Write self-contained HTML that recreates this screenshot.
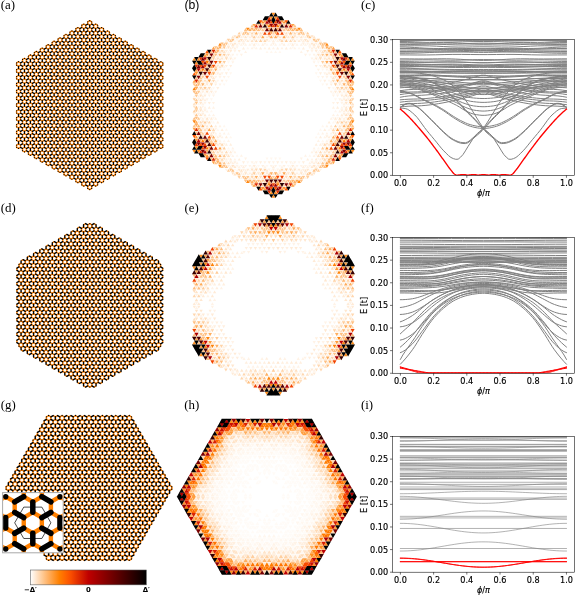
<!DOCTYPE html>
<html lang="en"><head><meta charset="utf-8"><title>Kekule flakes: bond order, zero-mode density and spectra</title><style>html,body{margin:0;padding:0;background:#fff}svg{display:block}</style></head><body>
<svg width="575" height="595" viewBox="0 0 575 595">
<rect width="575" height="595" fill="#fff"/>
<g transform="translate(89.7 105.1) scale(1 1)" fill="none" stroke-dasharray="2.2820 4.5640"><path d="M-73.12 -42.22L-73.12 42.22M-73.12 42.22L0 84.43M-73.12 35.37L5.93 81.01M-73.12 39.94L71.15 -43.36M-71.15 38.79L1.98 81.01M-69.17 -42.22L-69.17 42.22M-71.15 43.36L73.12 -39.94M-67.19 -45.64L-67.19 45.64M-73.12 28.53L11.86 77.59M-73.12 33.09L65.22 -46.78M-71.15 31.95L7.91 77.59M-71.15 36.51L67.19 -43.36M-67.19 43.36L71.15 -36.51M-63.24 -45.64L-63.24 45.64M-65.22 46.78L73.12 -33.09M-61.26 -49.06L-61.26 49.06M-73.12 21.68L17.79 74.16M-73.12 26.24L59.29 -50.2M-71.15 25.1L13.83 74.16M-71.15 29.67L61.26 -46.78M-61.26 46.78L71.15 -29.67M-57.31 -49.06L-57.31 49.06M-59.29 50.2L73.12 -26.24M-55.34 -52.49L-55.34 52.49M-73.12 14.83L23.72 70.74M-73.12 19.4L53.36 -53.63M-71.15 18.26L19.76 70.74M-71.15 22.82L55.34 -50.2M-55.34 50.2L71.15 -22.82M-51.38 -52.49L-51.38 52.49M-53.36 53.63L73.12 -19.4M-49.41 -55.91L-49.41 55.91M-73.12 7.99L29.64 67.32M-73.12 12.55L47.43 -57.05M-71.15 11.41L25.69 67.32M-71.15 15.97L49.41 -53.63M-49.41 53.63L71.15 -15.97M-45.45 -55.91L-45.45 55.91M-47.43 57.05L73.12 -12.55M-43.48 -59.33L-43.48 59.33M-73.12 1.14L35.57 63.9M-73.12 5.71L41.5 -60.47M-71.15 4.56L31.62 63.9M-71.15 9.13L43.48 -57.05M-43.48 57.05L71.15 -9.13M-39.53 -59.33L-39.53 59.33M-41.5 60.47L73.12 -5.71M-37.55 -62.76L-37.55 62.76M-73.12 -5.71L41.5 60.47M-73.12 -1.14L35.57 -63.9M-71.15 -2.28L37.55 60.47M-71.15 2.28L37.55 -60.47M-37.55 60.47L71.15 -2.28M-33.6 -62.76L-33.6 62.76M-35.57 63.9L73.12 1.14M-31.62 -66.18L-31.62 66.18M-73.12 -12.55L47.43 57.05M-73.12 -7.99L29.64 -67.32M-71.15 -9.13L43.48 57.05M-71.15 -4.56L31.62 -63.9M-31.62 63.9L71.15 4.56M-27.67 -66.18L-27.67 66.18M-29.64 67.32L73.12 7.99M-25.69 -69.6L-25.69 69.6M-73.12 -19.4L53.36 53.63M-73.12 -14.83L23.72 -70.74M-71.15 -15.97L49.41 53.63M-71.15 -11.41L25.69 -67.32M-25.69 67.32L71.15 11.41M-21.74 -69.6L-21.74 69.6M-23.72 70.74L73.12 14.83M-19.76 -73.02L-19.76 73.02M-73.12 -26.24L59.29 50.2M-73.12 -21.68L17.79 -74.16M-71.15 -22.82L55.34 50.2M-71.15 -18.26L19.76 -70.74M-19.76 70.74L71.15 18.26M-15.81 -73.02L-15.81 73.02M-17.79 74.16L73.12 21.68M-13.83 -76.45L-13.83 76.45M-73.12 -33.09L65.22 46.78M-73.12 -28.53L11.86 -77.59M-71.15 -29.67L61.26 46.78M-71.15 -25.1L13.83 -74.16M-13.83 74.16L71.15 25.1M-9.88 -76.45L-9.88 76.45M-11.86 77.59L73.12 28.52M-7.91 -79.87L-7.91 79.87M-73.12 -39.94L71.15 43.36M-73.12 -35.37L5.93 -81.01M-71.15 -36.51L67.19 43.36M-71.15 -31.95L7.91 -77.59M-7.91 77.59L71.15 31.95M-3.95 -79.87L-3.95 79.87M-5.93 81.01L73.12 35.37M-1.98 -83.29L-1.98 83.29M-73.12 -42.22L0 -84.43M-71.15 -43.36L73.12 39.94M-71.15 -38.79L1.98 -81.01M-1.98 81.01L71.15 38.79M1.98 -83.29L1.98 83.29M0 84.43L73.12 42.22M-67.19 -43.36L71.15 36.51M3.95 -79.87L3.95 79.87M-65.22 -46.78L73.12 33.09M7.91 -79.87L7.91 79.87M-61.26 -46.78L71.15 29.67M9.88 -76.45L9.88 76.45M-59.29 -50.2L73.12 26.24M13.83 -76.45L13.83 76.45M-55.34 -50.2L71.15 22.82M15.81 -73.02L15.81 73.02M-53.36 -53.63L73.12 19.4M19.76 -73.02L19.76 73.02M-49.41 -53.63L71.15 15.97M21.74 -69.6L21.74 69.6M-47.43 -57.05L73.12 12.55M25.69 -69.6L25.69 69.6M-43.48 -57.05L71.15 9.13M27.67 -66.18L27.67 66.18M-41.5 -60.47L73.12 5.71M31.62 -66.18L31.62 66.18M-37.55 -60.47L71.15 2.28M33.6 -62.76L33.6 62.76M-35.57 -63.9L73.12 -1.14M37.55 -62.76L37.55 62.76M-31.62 -63.9L71.15 -4.56M39.53 -59.33L39.53 59.33M-29.64 -67.32L73.12 -7.99M43.48 -59.33L43.48 59.33M-25.69 -67.32L71.15 -11.41M45.45 -55.91L45.45 55.91M-23.72 -70.74L73.12 -14.83M49.41 -55.91L49.41 55.91M-19.76 -70.74L71.15 -18.26M51.38 -52.49L51.38 52.49M-17.79 -74.16L73.12 -21.68M55.34 -52.49L55.34 52.49M-13.83 -74.16L71.15 -25.1M57.31 -49.06L57.31 49.06M-11.86 -77.59L73.12 -28.52M61.26 -49.06L61.26 49.06M-7.91 -77.59L71.15 -31.95M63.24 -45.64L63.24 45.64M-5.93 -81.01L73.12 -35.37M67.19 -45.64L67.19 45.64M-1.98 -81.01L71.15 -38.79M69.17 -42.22L69.17 42.22M0 -84.43L73.12 -42.22M73.12 -42.22L73.12 42.22" stroke="#ff8000" stroke-width="1.42"/><path d="M-71.15 -38.79L-71.15 38.79M-69.17 42.22L-1.98 81.01M-69.17 35.37L3.95 77.59M-69.17 39.94L69.17 -39.94M-65.22 -42.22L-65.22 42.22M-69.17 28.53L9.88 74.16M-69.17 33.09L63.24 -43.36M-63.24 43.36L69.17 -33.09M-59.29 -45.64L-59.29 45.64M-69.17 21.68L15.81 70.74M-69.17 26.24L57.31 -46.78M-57.31 46.78L69.17 -26.24M-53.36 -49.06L-53.36 49.06M-69.17 14.83L21.74 67.32M-69.17 19.4L51.38 -50.2M-51.38 50.2L69.17 -19.4M-47.43 -52.49L-47.43 52.49M-69.17 7.99L27.67 63.9M-69.17 12.55L45.45 -53.63M-45.45 53.63L69.17 -12.55M-41.5 -55.91L-41.5 55.91M-69.17 1.14L33.6 60.47M-69.17 5.71L39.53 -57.05M-39.53 57.05L69.17 -5.71M-35.57 -59.33L-35.57 59.33M-69.17 -5.71L39.53 57.05M-69.17 -1.14L33.6 -60.47M-33.6 60.47L69.17 1.14M-29.64 -62.76L-29.64 62.76M-69.17 -12.55L45.45 53.63M-69.17 -7.99L27.67 -63.9M-27.67 63.9L69.17 7.99M-23.72 -66.18L-23.72 66.18M-69.17 -19.4L51.38 50.2M-69.17 -14.83L21.74 -67.32M-21.74 67.32L69.17 14.83M-17.79 -69.6L-17.79 69.6M-69.17 -26.24L57.31 46.78M-69.17 -21.68L15.81 -70.74M-15.81 70.74L69.17 21.68M-11.86 -73.02L-11.86 73.02M-69.17 -33.09L63.24 43.36M-69.17 -28.53L9.88 -74.16M-9.88 74.16L69.17 28.52M-5.93 -76.45L-5.93 76.45M-69.17 -39.94L69.17 39.94M-69.17 -35.37L3.95 -77.59M-3.95 77.59L69.17 35.37M0 -79.87L0 79.87M-69.17 -42.22L-1.98 -81.01M1.98 81.01L69.17 42.22M-63.24 -43.36L69.17 33.09M5.93 -76.45L5.93 76.45M-57.31 -46.78L69.17 26.24M11.86 -73.02L11.86 73.02M-51.38 -50.2L69.17 19.4M17.79 -69.6L17.79 69.6M-45.45 -53.63L69.17 12.55M23.72 -66.18L23.72 66.18M-39.53 -57.05L69.17 5.71M29.64 -62.76L29.64 62.76M-33.6 -60.47L69.17 -1.14M35.57 -59.33L35.57 59.33M-27.67 -63.9L69.17 -7.99M41.5 -55.91L41.5 55.91M-21.74 -67.32L69.17 -14.83M47.43 -52.49L47.43 52.49M-15.81 -70.74L69.17 -21.68M53.36 -49.06L53.36 49.06M-9.88 -74.16L69.17 -28.52M59.29 -45.64L59.29 45.64M-3.95 -77.59L69.17 -35.37M65.22 -42.22L65.22 42.22M1.98 -81.01L69.17 -42.22M71.15 -38.79L71.15 38.79" stroke="#000" stroke-width="1.32" stroke-linecap="round"/><path d="M-71.15 43.36h0M-73.12 42.22h0M-73.12 39.94h0M-73.12 35.37h0M-73.12 33.09h0M-65.22 46.78h0M-67.19 45.64h0M-73.12 28.52h0M-73.12 26.24h0M-59.29 50.2h0M-61.26 49.06h0M-73.12 21.68h0M-73.12 19.4h0M-53.36 53.63h0M-55.34 52.49h0M-73.12 14.83h0M-73.12 12.55h0M-47.43 57.05h0M-49.41 55.91h0M-73.12 7.99h0M-73.12 5.71h0M-41.5 60.47h0M-43.48 59.33h0M-73.12 1.14h0M-73.12 -1.14h0M-35.57 63.9h0M-37.55 62.76h0M-73.12 -5.71h0M-73.12 -7.99h0M-29.64 67.32h0M-31.62 66.18h0M-73.12 -12.55h0M-73.12 -14.83h0M-23.72 70.74h0M-25.69 69.6h0M-73.12 -19.4h0M-73.12 -21.68h0M-17.79 74.16h0M-19.76 73.02h0M-73.12 -26.24h0M-73.12 -28.53h0M-11.86 77.59h0M-13.83 76.45h0M-73.12 -33.09h0M-73.12 -35.37h0M-5.93 81.01h0M-7.91 79.87h0M-71.15 -43.36h0M-73.12 -39.94h0M-73.12 -42.22h0M1.98 83.29h0M0 84.43h0M-1.98 83.29h0M-65.22 -46.78h0M-67.19 -45.64h0M7.91 79.87h0M5.93 81.01h0M-59.29 -50.2h0M-61.26 -49.06h0M13.83 76.45h0M11.86 77.59h0M-53.36 -53.63h0M-55.34 -52.49h0M19.76 73.02h0M17.79 74.16h0M-47.43 -57.05h0M-49.41 -55.91h0M25.69 69.6h0M23.72 70.74h0M-41.5 -60.47h0M-43.48 -59.33h0M31.62 66.18h0M29.64 67.32h0M-35.57 -63.9h0M-37.55 -62.76h0M37.55 62.76h0M35.57 63.9h0M-29.64 -67.32h0M-31.62 -66.18h0M43.48 59.33h0M41.5 60.47h0M-23.72 -70.74h0M-25.69 -69.6h0M49.41 55.91h0M47.43 57.05h0M-17.79 -74.16h0M-19.76 -73.02h0M55.34 52.49h0M53.36 53.63h0M-11.86 -77.59h0M-13.83 -76.45h0M61.26 49.06h0M59.29 50.2h0M-5.93 -81.01h0M-7.91 -79.87h0M67.19 45.64h0M65.22 46.78h0M0 -84.43h0M1.98 -83.29h0M-1.98 -83.29h0M73.12 39.94h0M73.12 42.22h0M71.15 43.36h0M5.93 -81.01h0M7.91 -79.87h0M73.12 33.09h0M73.12 35.37h0M11.86 -77.59h0M13.83 -76.45h0M73.12 26.24h0M73.12 28.52h0M17.79 -74.16h0M19.76 -73.02h0M73.12 19.4h0M73.12 21.68h0M23.72 -70.74h0M25.69 -69.6h0M73.12 12.55h0M73.12 14.83h0M29.64 -67.32h0M31.62 -66.18h0M73.12 5.71h0M73.12 7.99h0M35.57 -63.9h0M37.55 -62.76h0M73.12 -1.14h0M73.12 1.14h0M41.5 -60.47h0M43.48 -59.33h0M73.12 -7.99h0M73.12 -5.71h0M47.43 -57.05h0M49.41 -55.91h0M73.12 -14.83h0M73.12 -12.55h0M53.36 -53.63h0M55.34 -52.49h0M73.12 -21.68h0M73.12 -19.4h0M59.29 -50.2h0M61.26 -49.06h0M73.12 -28.52h0M73.12 -26.24h0M65.22 -46.78h0M67.19 -45.64h0M73.12 -35.37h0M73.12 -33.09h0M71.15 -43.36h0M73.12 -42.22h0M73.12 -39.94h0" stroke="#000" stroke-width="1.25" stroke-linecap="round" stroke-dasharray="none"/></g>
<g transform="translate(89.8 305.35) scale(1 1)" fill="none" stroke-dasharray="2.4050 4.8100"><path d="M-72.9 -37.28L-72.9 37.28M-70.81 -40.88L-70.81 40.88M-70.81 40.88L0 81.77M-68.73 44.49L-4.17 81.77M-70.81 33.67L6.25 78.16M-70.81 38.48L68.73 -42.09M-68.73 37.28L2.08 78.16M-66.65 -40.88L-66.65 40.88M-68.73 42.09L70.81 -38.48M-64.57 -44.49L-64.57 44.49M-70.81 26.45L12.5 74.55M-70.81 31.27L62.48 -45.7M-68.73 30.06L8.33 74.55M-68.73 34.87L64.57 -42.09M-64.57 42.09L68.73 -34.87M-60.4 -44.49L-60.4 44.49M-62.48 45.7L70.81 -31.27M-58.32 -48.1L-58.32 48.1M-70.81 19.24L18.75 70.95M-70.81 24.05L56.24 -49.3M-68.73 22.85L14.58 70.95M-68.73 27.66L58.32 -45.7M-58.32 45.7L68.73 -27.66M-54.15 -48.1L-54.15 48.1M-56.24 49.3L70.81 -24.05M-52.07 -51.71L-52.07 51.71M-70.81 12.03L24.99 67.34M-70.81 16.84L49.99 -52.91M-68.73 15.63L20.83 67.34M-68.73 20.44L52.07 -49.3M-52.07 49.3L68.73 -20.44M-47.9 -51.71L-47.9 51.71M-49.99 52.91L70.81 -16.84M-45.82 -55.31L-45.82 55.31M-70.81 4.81L31.24 63.73M-70.81 9.62L43.74 -56.52M-68.73 8.42L27.08 63.73M-68.73 13.23L45.82 -52.91M-45.82 52.91L68.73 -13.23M-41.66 -55.31L-41.66 55.31M-43.74 56.52L70.81 -9.62M-39.57 -58.92L-39.57 58.92M-70.81 -2.4L37.49 60.12M-70.81 2.4L37.49 -60.12M-68.73 1.2L33.32 60.12M-68.73 6.01L39.57 -56.52M-39.57 56.52L68.73 -6.01M-35.41 -58.92L-35.41 58.92M-37.49 60.12L70.81 -2.41M-33.32 -62.53L-33.32 62.53M-70.81 -9.62L43.74 56.52M-70.81 -4.81L31.24 -63.73M-68.73 -6.01L39.57 56.52M-68.73 -1.2L33.32 -60.12M-33.32 60.12L68.73 1.2M-29.16 -62.53L-29.16 62.53M-31.24 63.73L70.81 4.81M-27.08 -66.14L-27.08 66.14M-70.81 -16.84L49.99 52.91M-70.81 -12.03L24.99 -67.34M-68.73 -13.23L45.82 52.91M-68.73 -8.42L27.08 -63.73M-27.08 63.73L68.73 8.42M-22.91 -66.14L-22.91 66.14M-24.99 67.34L70.81 12.02M-20.83 -69.75L-20.83 69.75M-70.81 -24.05L56.24 49.3M-70.81 -19.24L18.75 -70.95M-68.73 -20.44L52.07 49.3M-68.73 -15.63L20.83 -67.34M-20.83 67.34L68.73 15.63M-16.66 -69.75L-16.66 69.75M-18.75 70.95L70.81 19.24M-14.58 -73.35L-14.58 73.35M-70.81 -31.27L62.48 45.7M-70.81 -26.45L12.5 -74.55M-68.73 -27.66L58.32 45.7M-68.73 -22.85L14.58 -70.95M-14.58 70.95L68.73 22.85M-10.41 -73.35L-10.41 73.35M-12.5 74.56L70.81 26.45M-8.33 -76.96L-8.33 76.96M-70.81 -38.48L68.73 42.09M-70.81 -33.67L6.25 -78.16M-68.73 -34.87L64.57 42.09M-68.73 -30.06L8.33 -74.55M-8.33 74.56L68.73 30.06M-4.17 -76.96L-4.17 76.96M-6.25 78.16L70.81 33.67M-2.08 -80.57L-2.08 80.57M-70.81 -40.88L0 -81.77M-68.73 -42.09L70.81 38.48M-68.73 -37.28L2.08 -78.16M-2.08 78.16L68.73 37.28M2.08 -80.57L2.08 80.57M0 81.77L70.81 40.88M-68.73 -44.49L-4.17 -81.77M-64.57 -42.09L68.73 34.87M4.17 -76.96L4.17 76.96M4.17 81.77L68.73 44.49M-62.48 -45.7L70.81 31.27M8.33 -76.96L8.33 76.96M-58.32 -45.7L68.73 27.66M10.41 -73.35L10.41 73.35M-56.24 -49.3L70.81 24.05M14.58 -73.35L14.58 73.35M-52.07 -49.3L68.73 20.44M16.66 -69.75L16.66 69.75M-49.99 -52.91L70.81 16.84M20.83 -69.75L20.83 69.75M-45.82 -52.91L68.73 13.23M22.91 -66.14L22.91 66.14M-43.74 -56.52L70.81 9.62M27.08 -66.14L27.08 66.14M-39.57 -56.52L68.73 6.01M29.16 -62.53L29.16 62.53M-37.49 -60.12L70.81 2.41M33.32 -62.53L33.32 62.53M-33.32 -60.12L68.73 -1.2M35.41 -58.92L35.41 58.92M-31.24 -63.73L70.81 -4.81M39.57 -58.92L39.57 58.92M-27.08 -63.73L68.73 -8.42M41.66 -55.31L41.66 55.31M-24.99 -67.34L70.81 -12.02M45.82 -55.31L45.82 55.31M-20.83 -67.34L68.73 -15.63M47.9 -51.71L47.9 51.71M-18.75 -70.95L70.81 -19.24M52.07 -51.71L52.07 51.71M-14.58 -70.95L68.73 -22.85M54.15 -48.1L54.15 48.1M-12.5 -74.56L70.81 -26.45M58.32 -48.1L58.32 48.1M-8.33 -74.56L68.73 -30.06M60.4 -44.49L60.4 44.49M-6.25 -78.16L70.81 -33.67M64.57 -44.49L64.57 44.49M-2.08 -78.16L68.73 -37.28M66.65 -40.88L66.65 40.88M0 -81.77L70.81 -40.88M70.81 -40.88L70.81 40.88M4.17 -81.77L68.73 -44.49M72.9 -37.28L72.9 37.28" stroke="#ff8000" stroke-width="1.5"/><path d="M-72.9 37.28L4.17 81.77M-68.73 -44.49L-68.73 44.49M-72.9 30.06L10.41 78.16M-72.9 34.87L66.65 -45.7M-66.65 45.7L72.9 -34.87M-62.48 -48.1L-62.48 48.1M-72.9 22.85L16.66 74.55M-72.9 27.66L60.4 -49.3M-66.65 38.48L66.65 -38.48M-60.4 49.3L72.9 -27.66M-56.24 -51.71L-56.24 51.71M-72.9 15.63L22.91 70.95M-72.9 20.44L54.15 -52.91M-54.15 52.91L72.9 -20.44M-49.99 -55.31L-49.99 55.31M-72.9 8.42L29.16 67.34M-72.9 13.23L47.9 -56.52M-47.9 56.52L72.9 -13.23M-43.74 -58.92L-43.74 58.92M-72.9 1.2L35.41 63.73M-72.9 6.01L41.66 -60.12M-41.66 60.12L72.9 -6.01M-37.49 -62.53L-37.49 62.53M-72.9 -6.01L41.66 60.12M-72.9 -1.2L35.41 -63.73M-35.41 63.73L72.9 1.2M-31.24 -66.14L-31.24 66.14M-72.9 -13.23L47.9 56.52M-72.9 -8.42L29.16 -67.34M-29.16 67.34L72.9 8.42M-24.99 -69.75L-24.99 69.75M-72.9 -20.44L54.15 52.91M-72.9 -15.63L22.91 -70.95M-22.91 70.95L72.9 15.63M-18.75 -73.35L-18.75 73.35M-72.9 -27.66L60.4 49.3M-72.9 -22.85L16.66 -74.55M-16.66 74.56L72.9 22.85M-12.5 -76.96L-12.5 76.96M-72.9 -34.87L66.65 45.7M-72.9 -30.06L10.41 -78.16M-10.41 78.16L72.9 30.06M-6.25 -80.57L-6.25 80.57M-72.9 -37.28L4.17 -81.77M-4.17 81.77L72.9 37.28M-66.65 -38.48L66.65 38.48M0 -76.96L0 76.96M-66.65 -45.7L72.9 34.87M6.25 -80.57L6.25 80.57M-60.4 -49.3L72.9 27.66M12.5 -76.96L12.5 76.96M-54.15 -52.91L72.9 20.44M18.75 -73.35L18.75 73.35M-47.9 -56.52L72.9 13.23M24.99 -69.75L24.99 69.75M-41.66 -60.12L72.9 6.01M31.24 -66.14L31.24 66.14M-35.41 -63.73L72.9 -1.2M37.49 -62.53L37.49 62.53M-29.16 -67.34L72.9 -8.42M43.74 -58.92L43.74 58.92M-22.91 -70.95L72.9 -15.63M49.99 -55.31L49.99 55.31M-16.66 -74.56L72.9 -22.85M56.24 -51.71L56.24 51.71M-10.41 -78.16L72.9 -30.06M62.48 -48.1L62.48 48.1M-4.17 -81.77L72.9 -37.28M68.73 -44.49L68.73 44.49" stroke="#000" stroke-width="1.4" stroke-linecap="round"/><path d="M-70.81 40.88h0M-70.81 -40.88h0M0 81.77h0M0 -81.77h0M70.81 40.88h0M70.81 -40.88h0" stroke="#000" stroke-width="1.33" stroke-linecap="round" stroke-dasharray="none"/></g>
<g transform="translate(88.96 487.96) scale(1 1)" fill="none" stroke-dasharray="2.5850 5.1700"><path d="M-82.83 -1.29L-82.83 1.29M-82.83 1.29L40.3 72.38M-80.59 5.17L35.82 72.38M-78.35 -9.05L-78.35 9.05M-76.11 -12.93L-76.11 12.93M-76.11 12.93L26.86 72.38M-73.88 16.8L22.39 72.38M-71.64 -20.68L-71.64 20.68M-69.4 -24.56L-69.4 24.56M-69.4 24.56L13.43 72.38M-67.16 28.43L8.95 72.38M-64.92 -32.31L-64.92 32.31M-62.68 -36.19L-62.68 36.19M-62.68 36.19L0 72.38M-60.44 40.07L-4.48 72.38M-58.21 -43.94L-58.21 43.94M-55.97 -47.82L-55.97 47.82M-55.97 47.82L-13.43 72.38M-53.73 51.7L-17.91 72.38M-51.49 -55.58L-51.49 55.58M-49.25 -59.45L-49.25 59.45M-49.25 59.45L-26.86 72.38M-47.01 63.33L-31.34 72.38M-44.77 -67.21L-44.77 67.21M-42.53 -71.09L-42.53 71.09M-42.53 71.09L-40.3 72.38M-82.83 -1.29L40.3 -72.38M-80.59 -2.58L42.53 68.5M-80.59 2.58L42.53 -68.5M-76.11 10.34L47.01 -60.75M-73.88 14.22L49.25 -56.87M-69.4 21.97L53.73 -49.12M-67.16 25.85L55.97 -45.24M-62.68 33.6L60.44 -37.48M-60.44 37.48L62.68 -33.61M-55.97 45.24L67.16 -25.85M-53.73 49.12L69.4 -21.97M-49.25 56.87L73.88 -14.22M-47.01 60.75L76.11 -10.34M-42.53 68.5L80.59 -2.58M-38.06 -71.09L-38.06 71.09M-40.3 72.38L82.83 1.29M-80.59 -5.17L35.82 -72.38M-76.11 -2.58L40.3 64.62M-76.11 2.58L40.3 -64.62M-73.88 6.46L42.53 -60.75M-69.4 14.22L47.01 -52.99M-67.16 18.09L49.25 -49.12M-62.68 25.85L53.73 -41.36M-60.44 29.73L55.97 -37.48M-55.97 37.48L60.44 -29.73M-53.73 41.36L62.68 -25.85M-49.25 49.12L67.16 -18.09M-47.01 52.99L69.4 -14.22M-42.53 60.75L73.88 -6.46M-40.3 64.62L76.11 -2.58M-35.82 -67.21L-35.82 67.21M-35.82 72.38L80.59 5.17M-76.11 -10.34L47.01 60.75M-73.88 -6.46L42.53 60.75M-31.34 -67.21L-31.34 67.21M-29.1 -71.09L-29.1 71.09M-76.11 -12.93L26.86 -72.38M-73.88 -14.22L49.25 56.87M-24.63 -71.09L-24.63 71.09M-26.86 72.38L76.11 12.93M-73.88 -16.8L22.39 -72.38M-69.4 -14.22L47.01 52.99M-22.39 -67.21L-22.39 67.21M-22.39 72.38L73.88 16.8M-69.4 -21.97L53.73 49.12M-67.16 -18.09L49.25 49.12M-17.91 -67.21L-17.91 67.21M-15.67 -71.09L-15.67 71.09M-69.4 -24.56L13.43 -72.38M-67.16 -25.85L55.97 45.24M-11.19 -71.09L-11.19 71.09M-13.43 72.38L69.4 24.56M-67.16 -28.43L8.95 -72.38M-62.68 -25.85L53.73 41.36M-8.95 -67.21L-8.95 67.21M-8.95 72.38L67.16 28.43M-62.68 -33.6L60.44 37.48M-60.44 -29.73L55.97 37.48M-4.48 -67.21L-4.48 67.21M-2.24 -71.09L-2.24 71.09M-62.68 -36.19L0 -72.38M-60.44 -37.48L62.68 33.61M2.24 -71.09L2.24 71.09M0 72.38L62.68 36.19M-60.44 -40.07L-4.48 -72.38M-55.97 -37.48L60.44 29.73M4.48 -67.21L4.48 67.21M4.48 72.38L60.44 40.07M-55.97 -45.24L67.16 25.85M-53.73 -41.36L62.68 25.85M8.95 -67.21L8.95 67.21M11.19 -71.09L11.19 71.09M-55.97 -47.82L-13.43 -72.38M-53.73 -49.12L69.4 21.97M15.67 -71.09L15.67 71.09M13.43 72.38L55.97 47.82M-53.73 -51.7L-17.91 -72.38M-49.25 -49.12L67.16 18.09M17.91 -67.21L17.91 67.21M17.91 72.38L53.73 51.7M-49.25 -56.87L73.88 14.22M-47.01 -52.99L69.4 14.22M22.39 -67.21L22.39 67.21M24.63 -71.09L24.63 71.09M-49.25 -59.45L-26.86 -72.38M-47.01 -60.75L76.11 10.34M29.1 -71.09L29.1 71.09M26.86 72.38L49.25 59.45M-47.01 -63.33L-31.34 -72.38M-42.53 -60.75L73.88 6.46M31.34 -67.21L31.34 67.21M31.34 72.38L47.01 63.33M-42.53 -68.5L80.59 2.58M-40.3 -64.62L76.11 2.58M35.82 -67.21L35.82 67.21M38.06 -71.09L38.06 71.09M-42.53 -71.09L-40.3 -72.38M-40.3 -72.38L82.83 -1.29M42.53 -71.09L42.53 71.09M40.3 72.38L42.53 71.09M-35.82 -72.38L80.59 -5.17M44.77 -67.21L44.77 67.21M-26.86 -72.38L76.11 -12.93M49.25 -59.45L49.25 59.45M-22.39 -72.38L73.88 -16.8M51.49 -55.58L51.49 55.58M-13.43 -72.38L69.4 -24.56M55.97 -47.82L55.97 47.82M-8.95 -72.38L67.16 -28.43M58.21 -43.94L58.21 43.94M0 -72.38L62.68 -36.19M62.68 -36.19L62.68 36.19M4.48 -72.38L60.44 -40.07M64.92 -32.31L64.92 32.31M13.43 -72.38L55.97 -47.82M69.4 -24.56L69.4 24.56M17.91 -72.38L53.73 -51.7M71.64 -20.68L71.64 20.68M26.86 -72.38L49.25 -59.45M76.11 -12.93L76.11 12.93M31.34 -72.38L47.01 -63.33M78.35 -9.05L78.35 9.05M40.3 -72.38L42.53 -71.09M82.83 -1.29L82.83 1.29" stroke="#ff8000" stroke-width="1.6"/><path d="M-80.59 -5.17L-80.59 5.17M-78.35 9.05L31.34 72.38M-73.88 -16.8L-73.88 16.8M-71.64 20.68L17.91 72.38M-67.16 -28.43L-67.16 28.43M-64.92 32.31L4.48 72.38M-60.44 -40.07L-60.44 40.07M-58.21 43.95L-8.95 72.38M-53.73 -51.7L-53.73 51.7M-51.49 55.58L-22.39 72.38M-47.01 -63.33L-47.01 63.33M-44.77 67.21L-35.82 72.38M-78.35 1.29L38.06 68.5M-78.35 6.46L44.77 -64.62M-71.64 18.09L51.49 -52.99M-64.92 29.73L58.21 -41.36M-58.21 41.36L64.92 -29.73M-51.49 52.99L71.64 -18.09M-44.77 64.62L78.35 -6.46M-40.3 -67.21L-40.3 67.21M-78.35 -6.46L44.77 64.62M-78.35 -1.29L38.06 -68.5M-71.64 10.34L44.77 -56.87M-64.92 21.97L51.49 -45.24M-58.21 33.6L58.21 -33.61M-51.49 45.24L64.92 -21.97M-44.77 56.87L71.64 -10.34M-38.06 68.5L78.35 1.29M-33.58 -71.09L-33.58 71.09M-78.35 -9.05L31.34 -72.38M-31.34 72.38L78.35 9.05M-71.64 -10.34L44.77 56.87M-26.86 -67.21L-26.86 67.21M-71.64 -18.09L51.49 52.99M-20.15 -71.09L-20.15 71.09M-71.64 -20.68L17.91 -72.38M-17.91 72.38L71.64 20.68M-64.92 -21.97L51.49 45.24M-13.43 -67.21L-13.43 67.21M-64.92 -29.73L58.21 41.36M-6.72 -71.09L-6.72 71.09M-64.92 -32.31L4.48 -72.38M-4.48 72.38L64.92 32.31M-58.21 -33.6L58.21 33.61M0 -67.21L0 67.21M-58.21 -41.36L64.92 29.73M6.72 -71.09L6.72 71.09M-58.21 -43.95L-8.95 -72.38M8.95 72.38L58.21 43.94M-51.49 -45.24L64.92 21.97M13.43 -67.21L13.43 67.21M-51.49 -52.99L71.64 18.09M20.15 -71.09L20.15 71.09M-51.49 -55.58L-22.39 -72.38M22.39 72.38L51.49 55.58M-44.77 -56.87L71.64 10.34M26.86 -67.21L26.86 67.21M-44.77 -64.62L78.35 6.46M33.58 -71.09L33.58 71.09M-44.77 -67.21L-35.82 -72.38M35.82 72.38L44.77 67.21M-38.06 -68.5L78.35 -1.29M40.3 -67.21L40.3 67.21M-31.34 -72.38L78.35 -9.05M47.01 -63.33L47.01 63.33M-17.91 -72.38L71.64 -20.68M53.73 -51.7L53.73 51.7M-4.48 -72.38L64.92 -32.31M60.44 -40.07L60.44 40.07M8.95 -72.38L58.21 -43.94M67.16 -28.43L67.16 28.43M22.39 -72.38L51.49 -55.58M73.88 -16.8L73.88 16.8M35.82 -72.38L44.77 -67.21M80.59 -5.17L80.59 5.17" stroke="#000" stroke-width="1.5" stroke-linecap="round"/><path d="M-82.83 1.29h0M-82.83 -1.29h0M-76.11 12.93h0M-69.4 24.56h0M-62.68 36.19h0M-55.97 47.82h0M-49.25 59.45h0M-40.3 72.38h0M-42.53 71.09h0M-76.11 -12.93h0M-26.86 72.38h0M-69.4 -24.56h0M-13.43 72.38h0M-62.68 -36.19h0M0 72.38h0M-55.97 -47.82h0M13.43 72.38h0M-49.25 -59.45h0M26.86 72.38h0M-40.3 -72.38h0M-42.53 -71.09h0M42.53 71.09h0M40.3 72.38h0M-26.86 -72.38h0M49.25 59.45h0M-13.43 -72.38h0M55.97 47.82h0M0 -72.38h0M62.68 36.19h0M13.43 -72.38h0M69.4 24.56h0M26.86 -72.38h0M76.11 12.93h0M40.3 -72.38h0M42.53 -71.09h0M49.25 -59.45h0M55.97 -47.82h0M62.68 -36.19h0M69.4 -24.56h0M76.11 -12.93h0M82.83 -1.29h0M82.83 1.29h0" stroke="#000" stroke-width="1.42" stroke-linecap="round" stroke-dasharray="none"/></g>
<g stroke="none"><path fill="#fff7ef" d="M198.6 102.3l1.52 2.63h-3.03zM198.6 108.3l-1.52 -2.63h3.03zM205 119.4l-1.51 -2.61h3.01zM209.3 126.8l-1.52 -2.64h3.05zM215.7 138l-1.53 -2.65h3.06zM217.8 141.7l-1.53 -2.65h3.06zM224.2 152.8l-1.52 -2.64h3.05zM228.5 160.2l-1.51 -2.61h3.01zM234.9 171.3l-1.52 -2.63h3.03zM237.1 169l1.52 2.63h-3.03zM209.3 119.4l-1.52 -2.64h3.05zM211.4 123.1l-1.53 -2.64h3.05zM213.5 120.8l1.53 2.64h-3.05zM217.8 128.3l1.52 2.63h-3.03zM224.2 139.4l1.52 2.63h-3.03zM228.5 146.8l1.53 2.64h-3.05zM228.5 152.8l-1.53 -2.64h3.05zM230.7 156.5l-1.52 -2.64h3.05zM211.4 109.7l1.52 2.63h-3.04zM213.5 119.4l-1.51 -2.62h3.02zM232.8 152.8l-1.51 -2.62h3.02zM237.1 154.2l1.52 2.63h-3.04zM205 91.2l1.51 2.61h-3.01zM224.2 124.6l1.51 2.62h-3.02zM226.4 128.2l1.53 2.64h-3.05zM228.5 132l1.53 2.64h-3.05zM230.7 135.7l1.51 2.62h-3.02zM249.9 169l1.51 2.61h-3.01zM209.3 91.2l1.52 2.64h-3.05zM211.4 100.9l-1.52 -2.63h3.04zM247.8 163.9l-1.52 -2.63h3.04zM252.1 165.3l1.52 2.64h-3.05zM209.3 83.8l1.52 2.64h-3.05zM211.4 87.5l1.53 2.64h-3.05zM213.5 91.2l1.51 2.62h-3.02zM254.2 161.6l1.51 2.62h-3.02zM256.3 165.3l1.53 2.64h-3.05zM258.5 169l1.52 2.64h-3.05zM213.5 89.8l-1.53 -2.64h3.05zM258.5 167.6l-1.53 -2.64h3.05zM215.7 72.6l1.53 2.65h-3.06zM217.8 82.3l-1.52 -2.63h3.03zM267 167.6l-1.52 -2.63h3.03zM271.3 169l1.53 2.65h-3.06zM217.8 68.9l1.53 2.65h-3.06zM224.2 86l-1.51 -2.62h3.02zM267 160.2l-1.51 -2.62h3.02zM275.6 169l1.53 2.65h-3.06zM226.4 82.4l-1.53 -2.64h3.05zM271.3 160.2l-1.53 -2.64h3.05zM224.2 71.2l-1.52 -2.63h3.03zM228.5 78.6l-1.53 -2.64h3.05zM275.6 160.2l-1.53 -2.64h3.05zM279.9 167.6l-1.52 -2.63h3.03zM224.2 57.8l1.52 2.64h-3.05zM230.7 74.9l-1.51 -2.62h3.02zM279.9 160.2l-1.51 -2.62h3.02zM288.4 169l1.52 2.64h-3.05zM228.5 57.8l1.53 2.64h-3.05zM228.5 63.8l-1.53 -2.64h3.05zM288.4 167.6l-1.53 -2.64h3.05zM290.6 165.3l1.53 2.64h-3.05zM228.5 50.4l1.51 2.61h-3.01zM230.7 54.1l1.52 2.64h-3.05zM232.8 57.8l1.51 2.62h-3.02zM292.7 161.6l1.51 2.62h-3.02zM294.8 165.3l1.52 2.64h-3.05zM297 169l1.51 2.61h-3.01zM237.1 56.4l-1.52 -2.63h3.04zM299.1 163.9l-1.52 -2.63h3.04zM234.9 39.3l1.52 2.63h-3.03zM309.8 169l1.52 2.63h-3.03zM237.1 41.6l-1.52 -2.63h3.03zM312 171.3l-1.52 -2.63h3.03zM247.8 46.7l1.52 2.63h-3.04zM309.8 154.2l1.52 2.63h-3.04zM249.9 41.6l-1.51 -2.61h3.01zM252.1 45.3l-1.52 -2.64h3.05zM254.2 49l-1.51 -2.62h3.02zM314.1 152.8l-1.51 -2.62h3.02zM316.2 156.5l-1.52 -2.64h3.05zM318.4 160.2l-1.51 -2.61h3.01zM256.3 45.3l-1.53 -2.64h3.05zM258.5 43l1.53 2.64h-3.05zM318.4 146.8l1.53 2.64h-3.05zM318.4 152.8l-1.53 -2.64h3.05zM258.5 41.6l-1.52 -2.64h3.05zM267 50.4l1.51 2.62h-3.02zM316.2 135.7l1.51 2.62h-3.02zM322.7 152.8l-1.52 -2.64h3.05zM267 43l1.52 2.63h-3.03zM271.3 50.4l1.53 2.64h-3.05zM318.4 132l1.53 2.64h-3.05zM322.7 139.4l1.52 2.63h-3.03zM275.6 50.4l1.53 2.64h-3.05zM320.5 128.2l1.53 2.64h-3.05zM271.3 41.6l-1.53 -2.65h3.06zM279.9 50.4l1.51 2.62h-3.02zM322.7 124.6l1.51 2.62h-3.02zM329.1 141.7l-1.53 -2.65h3.06zM275.6 41.6l-1.53 -2.65h3.06zM279.9 43l1.52 2.63h-3.03zM329.1 128.3l1.52 2.63h-3.03zM331.2 138l-1.53 -2.65h3.06zM288.4 43l1.53 2.64h-3.05zM333.4 120.8l1.53 2.64h-3.05zM288.4 41.6l-1.52 -2.64h3.05zM290.6 45.3l-1.53 -2.64h3.05zM292.7 49l-1.51 -2.62h3.02zM333.4 119.4l-1.51 -2.62h3.02zM335.5 123.1l-1.53 -2.64h3.05zM337.6 126.8l-1.52 -2.64h3.05zM294.8 45.3l-1.52 -2.64h3.05zM299.1 46.7l1.52 2.63h-3.04zM335.5 109.7l1.52 2.63h-3.04zM337.6 119.4l-1.52 -2.64h3.05zM297 41.6l-1.51 -2.61h3.01zM316.2 74.9l-1.51 -2.62h3.02zM318.4 78.6l-1.53 -2.64h3.05zM320.5 82.4l-1.53 -2.64h3.05zM322.7 86l-1.51 -2.62h3.02zM341.9 119.4l-1.51 -2.61h3.01zM309.8 56.4l-1.52 -2.63h3.04zM314.1 57.8l1.51 2.62h-3.02zM333.4 91.2l1.51 2.62h-3.02zM335.5 100.9l-1.52 -2.63h3.04zM316.2 54.1l1.52 2.64h-3.05zM318.4 57.8l1.53 2.64h-3.05zM318.4 63.8l-1.53 -2.64h3.05zM322.7 71.2l-1.52 -2.63h3.03zM329.1 82.3l-1.52 -2.63h3.03zM333.4 89.8l-1.53 -2.64h3.05zM335.5 87.5l1.53 2.64h-3.05zM337.6 91.2l1.52 2.64h-3.05zM309.8 41.6l-1.52 -2.63h3.03zM312 39.3l1.52 2.63h-3.03zM318.4 50.4l1.51 2.61h-3.01zM322.7 57.8l1.52 2.64h-3.05zM329.1 68.9l1.53 2.65h-3.06zM331.2 72.6l1.53 2.65h-3.06zM337.6 83.8l1.52 2.64h-3.05zM341.9 91.2l1.51 2.61h-3.01zM348.3 102.3l1.52 2.63h-3.03zM348.3 108.3l-1.52 -2.63h3.03z"/><path fill="#fff3e7" d="M194.3 115.7l-1.54 -2.67h3.08zM200.7 119.4l-1.54 -2.66h3.07zM209.3 134.3l-1.55 -2.68h3.09zM217.8 149.1l-1.55 -2.68h3.09zM226.4 163.9l-1.54 -2.66h3.07zM226.4 171.3l-1.54 -2.67h3.08zM211.4 130.6l-1.54 -2.67h3.09zM215.7 131.9l1.55 2.69h-3.11zM220 139.3l1.55 2.69h-3.11zM222.1 149.1l-1.54 -2.67h3.09zM194.3 94.9l1.54 2.67h-3.08zM202.8 102.3l1.55 2.69h-3.1zM202.8 108.3l-1.55 -2.69h3.1zM205 106l1.54 2.67h-3.09zM207.1 109.7l1.55 2.69h-3.1zM209.3 113.4l1.54 2.68h-3.09zM215.7 130.5l-1.53 -2.66h3.07zM220 131.9l1.53 2.66h-3.07zM222.1 135.7l1.53 2.66h-3.07zM224.2 145.4l-1.53 -2.66h3.07zM232.8 154.2l1.54 2.68h-3.09zM234.9 157.9l1.55 2.69h-3.1zM237.1 161.6l1.54 2.67h-3.09zM237.1 167.6l-1.55 -2.69h3.1zM239.2 165.3l1.55 2.69h-3.1zM241.4 176.4l1.54 2.67h-3.08zM200.7 91.2l1.54 2.66h-3.07zM205 104.6l-1.54 -2.67h3.09zM213.5 113.4l1.54 2.67h-3.08zM215.7 117.1l1.54 2.67h-3.08zM220 124.5l1.54 2.67h-3.09zM224.2 131.9l1.54 2.66h-3.08zM228.5 139.3l1.54 2.67h-3.09zM232.8 146.8l1.54 2.67h-3.08zM234.9 150.5l1.54 2.67h-3.08zM241.4 167.6l-1.54 -2.67h3.09zM247.8 172.7l1.54 2.66h-3.07zM207.1 100.9l-1.55 -2.69h3.1zM213.5 106l1.53 2.65h-3.07zM241.4 154.2l1.53 2.65h-3.07zM245.6 167.6l-1.55 -2.69h3.1zM209.3 97.2l-1.54 -2.68h3.09zM213.5 104.6l-1.53 -2.65h3.07zM245.6 160.2l-1.53 -2.65h3.07zM249.9 167.6l-1.54 -2.68h3.09zM213.5 97.2l-1.54 -2.67h3.08zM252.1 163.9l-1.54 -2.67h3.08zM209.3 76.3l1.55 2.68h-3.09zM211.4 80l1.54 2.67h-3.09zM215.7 93.5l-1.54 -2.67h3.08zM256.3 163.9l-1.54 -2.67h3.08zM262.8 169l1.54 2.67h-3.09zM264.9 172.7l1.55 2.68h-3.09zM215.7 80.1l1.53 2.66h-3.07zM264.9 165.3l1.53 2.66h-3.07zM215.7 78.7l-1.55 -2.69h3.11zM220 86.1l-1.54 -2.67h3.09zM264.9 163.9l-1.54 -2.67h3.09zM269.2 171.3l-1.55 -2.69h3.11zM220 78.7l-1.53 -2.66h3.07zM271.3 167.6l-1.53 -2.66h3.07zM217.8 61.5l1.55 2.68h-3.09zM220 71.3l-1.55 -2.69h3.11zM222.1 74.9l-1.53 -2.66h3.07zM224.2 78.7l-1.54 -2.66h3.08zM273.4 163.9l-1.54 -2.66h3.08zM275.6 167.6l-1.53 -2.66h3.07zM277.7 171.3l-1.55 -2.69h3.11zM282 172.7l1.55 2.68h-3.09zM222.1 61.5l1.54 2.67h-3.09zM224.2 65.2l1.53 2.66h-3.07zM282 165.3l1.53 2.66h-3.07zM284.1 169l1.54 2.67h-3.09zM228.5 71.3l-1.54 -2.67h3.09zM282 163.9l-1.54 -2.67h3.09zM226.4 46.7l1.54 2.66h-3.07zM232.8 63.8l-1.54 -2.67h3.08zM290.6 163.9l-1.54 -2.67h3.08zM299.1 172.7l1.54 2.66h-3.07zM232.8 56.4l-1.54 -2.68h3.09zM234.9 60.1l-1.54 -2.67h3.08zM294.8 163.9l-1.54 -2.67h3.08zM297 167.6l-1.54 -2.68h3.09zM226.4 39.3l1.54 2.67h-3.08zM234.9 52.7l-1.55 -2.69h3.1zM301.3 167.6l-1.55 -2.69h3.1zM305.5 176.4l1.54 2.67h-3.08zM237.1 43l1.55 2.69h-3.1zM237.1 49l-1.54 -2.67h3.09zM241.4 56.4l-1.53 -2.65h3.07zM301.3 160.2l-1.53 -2.65h3.07zM305.5 167.6l-1.54 -2.67h3.09zM307.7 165.3l1.55 2.69h-3.1zM239.2 45.3l-1.55 -2.69h3.1zM241.4 43l1.54 2.67h-3.09zM245.6 50.4l1.53 2.65h-3.07zM305.5 154.2l1.53 2.65h-3.07zM309.8 161.6l1.54 2.67h-3.09zM309.8 167.6l-1.55 -2.69h3.1zM245.6 43l1.55 2.69h-3.1zM312 157.9l1.55 2.69h-3.1zM241.4 34.2l-1.54 -2.67h3.08zM249.9 43l1.54 2.68h-3.09zM252.1 46.7l1.54 2.67h-3.08zM312 150.5l1.54 2.67h-3.08zM314.1 154.2l1.54 2.68h-3.09zM320.5 171.3l-1.54 -2.67h3.08zM247.8 37.9l-1.54 -2.66h3.07zM256.3 46.7l1.54 2.67h-3.08zM314.1 146.8l1.54 2.67h-3.08zM320.5 163.9l-1.54 -2.66h3.07zM264.9 46.7l1.54 2.67h-3.09zM318.4 139.3l1.54 2.67h-3.09zM262.8 41.6l-1.54 -2.67h3.09zM264.9 45.3l-1.53 -2.66h3.07zM322.7 145.4l-1.53 -2.66h3.07zM324.8 149.1l-1.54 -2.67h3.09zM264.9 37.9l-1.55 -2.68h3.09zM269.2 39.3l1.55 2.69h-3.11zM271.3 43l1.53 2.66h-3.07zM273.4 46.7l1.54 2.66h-3.08zM322.7 131.9l1.54 2.66h-3.08zM324.8 135.7l1.53 2.66h-3.07zM326.9 139.3l1.55 2.69h-3.11zM329.1 149.1l-1.55 -2.68h3.09zM275.6 43l1.53 2.66h-3.07zM326.9 131.9l1.53 2.66h-3.07zM277.7 39.3l1.55 2.69h-3.11zM282 46.7l1.54 2.67h-3.09zM326.9 124.5l1.54 2.67h-3.09zM331.2 131.9l1.55 2.69h-3.11zM282 45.3l-1.53 -2.66h3.07zM331.2 130.5l-1.53 -2.66h3.07zM282 37.9l-1.55 -2.68h3.09zM284.1 41.6l-1.54 -2.67h3.09zM290.6 46.7l1.54 2.67h-3.08zM331.2 117.1l1.54 2.67h-3.08zM335.5 130.6l-1.54 -2.67h3.09zM337.6 134.3l-1.55 -2.68h3.09zM294.8 46.7l1.54 2.67h-3.08zM333.4 113.4l1.54 2.67h-3.08zM297 43l1.54 2.68h-3.09zM301.3 50.4l1.53 2.65h-3.07zM333.4 106l1.53 2.65h-3.07zM337.6 113.4l1.54 2.68h-3.09zM301.3 43l1.55 2.69h-3.1zM305.5 56.4l-1.53 -2.65h3.07zM333.4 104.6l-1.53 -2.65h3.07zM339.8 109.7l1.55 2.69h-3.1zM299.1 37.9l-1.54 -2.66h3.07zM305.5 43l1.54 2.67h-3.09zM312 60.1l-1.54 -2.67h3.08zM314.1 63.8l-1.54 -2.67h3.08zM318.4 71.3l-1.54 -2.67h3.09zM322.7 78.7l-1.54 -2.66h3.08zM326.9 86.1l-1.54 -2.67h3.09zM331.2 93.5l-1.54 -2.67h3.08zM333.4 97.2l-1.54 -2.67h3.08zM341.9 106l1.54 2.67h-3.09zM346.2 119.4l-1.54 -2.66h3.07zM307.7 45.3l-1.55 -2.69h3.1zM309.8 43l1.55 2.69h-3.1zM309.8 49l-1.54 -2.67h3.09zM312 52.7l-1.55 -2.69h3.1zM314.1 56.4l-1.54 -2.68h3.09zM322.7 65.2l1.53 2.66h-3.07zM324.8 74.9l-1.53 -2.66h3.07zM326.9 78.7l-1.53 -2.66h3.07zM331.2 80.1l1.53 2.66h-3.07zM337.6 97.2l-1.54 -2.68h3.09zM339.8 100.9l-1.55 -2.69h3.1zM341.9 104.6l-1.54 -2.67h3.09zM344.1 102.3l1.55 2.69h-3.1zM344.1 108.3l-1.55 -2.69h3.1zM305.5 34.2l-1.54 -2.67h3.08zM324.8 61.5l1.54 2.67h-3.09zM326.9 71.3l-1.55 -2.69h3.11zM331.2 78.7l-1.55 -2.69h3.11zM335.5 80l1.54 2.67h-3.09zM352.6 115.7l-1.54 -2.67h3.08zM320.5 46.7l1.54 2.66h-3.07zM329.1 61.5l1.55 2.68h-3.09zM337.6 76.3l1.55 2.68h-3.09zM346.2 91.2l1.54 2.66h-3.07zM320.5 39.3l1.54 2.67h-3.08zM352.6 94.9l1.54 2.67h-3.08z"/><path fill="#ffefdf" d="M202.8 130.6l-1.56 -2.7h3.11zM207.1 138l-1.56 -2.7h3.12zM213.5 149.1l-1.56 -2.7h3.12zM217.8 156.5l-1.56 -2.7h3.11zM198.6 109.7l1.55 2.69h-3.11zM198.6 115.7l-1.56 -2.69h3.11zM202.8 117.1l1.56 2.7h-3.12zM205 126.9l-1.57 -2.72h3.14zM222.1 156.5l-1.57 -2.72h3.14zM226.4 157.9l1.56 2.7h-3.12zM228.5 167.6l-1.56 -2.69h3.11zM230.7 165.3l1.55 2.69h-3.11zM202.8 109.7l1.57 2.71h-3.13zM202.8 115.8l-1.56 -2.71h3.12zM217.8 135.6l1.56 2.7h-3.11zM230.7 163.9l-1.56 -2.71h3.12zM232.8 161.6l1.57 2.71h-3.13zM198.6 94.9l1.56 2.69h-3.11zM198.6 100.9l-1.55 -2.69h3.11zM205 112l-1.56 -2.7h3.11zM215.7 124.5l1.55 2.69h-3.11zM220 138l-1.56 -2.7h3.12zM226.4 143l1.55 2.69h-3.11zM234.9 163.9l-1.56 -2.7h3.11zM241.4 175l-1.55 -2.69h3.11zM243.5 172.7l1.56 2.69h-3.11zM202.8 94.8l1.56 2.71h-3.12zM202.8 100.9l-1.57 -2.71h3.13zM205 98.6l1.56 2.7h-3.11zM209.3 106l1.56 2.7h-3.12zM217.8 120.8l1.56 2.71h-3.12zM222.1 128.2l1.56 2.7h-3.12zM226.4 135.6l1.56 2.7h-3.12zM230.7 143l1.56 2.71h-3.12zM239.2 157.9l1.56 2.7h-3.12zM243.5 165.3l1.56 2.7h-3.11zM243.5 171.4l-1.57 -2.71h3.13zM245.6 169l1.56 2.71h-3.12zM202.8 93.5l-1.56 -2.7h3.12zM209.3 104.6l-1.56 -2.7h3.12zM243.5 163.9l-1.56 -2.7h3.12zM249.9 175.1l-1.56 -2.7h3.12zM202.8 80l1.56 2.7h-3.11zM205 83.7l1.57 2.72h-3.14zM256.3 172.7l1.57 2.72h-3.14zM258.5 176.4l1.56 2.7h-3.11zM207.1 72.6l1.56 2.7h-3.12zM267 176.4l1.56 2.7h-3.12zM215.7 86.1l-1.55 -2.69h3.11zM217.8 89.8l-1.56 -2.71h3.12zM260.6 163.9l-1.56 -2.71h3.12zM262.8 167.6l-1.55 -2.69h3.11zM213.5 61.5l1.56 2.7h-3.12zM217.8 75l-1.56 -2.7h3.11zM220 72.6l1.56 2.7h-3.12zM222.1 82.4l-1.56 -2.7h3.12zM269.2 163.9l-1.56 -2.7h3.12zM273.4 165.3l1.56 2.7h-3.12zM273.4 171.3l-1.56 -2.7h3.11zM279.9 176.4l1.56 2.7h-3.12zM217.8 54.1l1.56 2.7h-3.11zM226.4 75l-1.56 -2.7h3.12zM277.7 163.9l-1.56 -2.7h3.12zM288.4 176.4l1.56 2.7h-3.11zM222.1 54.1l1.57 2.72h-3.14zM226.4 67.6l-1.55 -2.69h3.11zM284.1 167.6l-1.55 -2.69h3.11zM290.6 172.7l1.57 2.72h-3.14zM230.7 67.6l-1.56 -2.71h3.12zM286.3 163.9l-1.56 -2.71h3.12zM226.4 52.7l-1.56 -2.7h3.12zM297 175.1l-1.56 -2.7h3.12zM228.5 43l1.56 2.69h-3.11zM230.7 46.7l1.56 2.71h-3.12zM301.3 169l1.56 2.71h-3.12zM303.4 172.7l1.56 2.69h-3.11zM230.7 45.3l-1.55 -2.69h3.11zM232.8 49l-1.57 -2.71h3.13zM234.9 46.7l1.56 2.7h-3.11zM303.4 165.3l1.56 2.7h-3.11zM303.4 171.4l-1.57 -2.71h3.13zM305.5 175l-1.55 -2.69h3.11zM239.2 52.7l-1.56 -2.7h3.12zM303.4 163.9l-1.56 -2.7h3.12zM243.5 46.7l1.56 2.7h-3.12zM307.7 157.9l1.56 2.7h-3.12zM241.4 35.6l1.55 2.69h-3.11zM243.5 39.2l1.57 2.71h-3.13zM243.5 45.3l-1.56 -2.7h3.11zM312 163.9l-1.56 -2.7h3.11zM314.1 161.6l1.57 2.71h-3.13zM316.2 165.3l1.55 2.69h-3.11zM243.5 37.9l-1.56 -2.69h3.11zM245.6 41.6l-1.56 -2.71h3.12zM316.2 163.9l-1.56 -2.71h3.12zM318.4 167.6l-1.56 -2.69h3.11zM249.9 35.5l1.56 2.7h-3.12zM320.5 157.9l1.56 2.7h-3.12zM260.6 46.7l1.56 2.71h-3.12zM316.2 143l1.56 2.71h-3.12zM256.3 37.9l-1.57 -2.72h3.14zM262.8 43l1.55 2.69h-3.11zM320.5 143l1.55 2.69h-3.11zM324.8 156.5l-1.57 -2.72h3.14zM258.5 34.2l-1.56 -2.7h3.11zM269.2 46.7l1.56 2.7h-3.12zM320.5 135.6l1.56 2.7h-3.12zM329.1 156.5l-1.56 -2.7h3.11zM267 34.2l-1.56 -2.7h3.12zM273.4 39.3l1.56 2.7h-3.11zM273.4 45.3l-1.56 -2.7h3.12zM277.7 46.7l1.56 2.7h-3.12zM324.8 128.2l1.56 2.7h-3.12zM326.9 138l-1.56 -2.7h3.12zM329.1 135.6l1.56 2.7h-3.11zM333.4 149.1l-1.56 -2.7h3.12zM284.1 43l1.55 2.69h-3.11zM286.3 46.7l1.56 2.71h-3.12zM329.1 120.8l1.56 2.71h-3.12zM331.2 124.5l1.55 2.69h-3.11zM279.9 34.2l-1.56 -2.7h3.12zM339.8 138l-1.56 -2.7h3.12zM288.4 34.2l-1.56 -2.7h3.11zM290.6 37.9l-1.57 -2.72h3.14zM341.9 126.9l-1.57 -2.72h3.14zM344.1 130.6l-1.56 -2.7h3.11zM297 35.5l1.56 2.7h-3.12zM303.4 46.7l1.56 2.7h-3.12zM337.6 106l1.56 2.7h-3.12zM344.1 117.1l1.56 2.7h-3.12zM301.3 41.6l-1.56 -2.71h3.12zM303.4 39.2l1.57 2.71h-3.13zM303.4 45.3l-1.56 -2.7h3.11zM307.7 52.7l-1.56 -2.7h3.12zM316.2 67.6l-1.56 -2.71h3.12zM320.5 75l-1.56 -2.7h3.12zM324.8 82.4l-1.56 -2.7h3.12zM329.1 89.8l-1.56 -2.71h3.12zM337.6 104.6l-1.56 -2.7h3.12zM341.9 112l-1.56 -2.7h3.11zM344.1 109.7l1.57 2.71h-3.13zM344.1 115.8l-1.56 -2.71h3.12zM303.4 37.9l-1.56 -2.69h3.11zM305.5 35.6l1.55 2.69h-3.11zM312 46.7l1.56 2.7h-3.11zM320.5 67.6l-1.55 -2.69h3.11zM326.9 72.6l1.56 2.7h-3.12zM331.2 86.1l-1.55 -2.69h3.11zM341.9 98.6l1.56 2.7h-3.11zM348.3 109.7l1.55 2.69h-3.11zM348.3 115.7l-1.56 -2.69h3.11zM314.1 49l-1.57 -2.71h3.13zM316.2 46.7l1.56 2.71h-3.12zM329.1 75l-1.56 -2.7h3.11zM344.1 94.8l1.56 2.71h-3.12zM344.1 100.9l-1.57 -2.71h3.13zM316.2 45.3l-1.55 -2.69h3.11zM318.4 43l1.56 2.69h-3.11zM320.5 52.7l-1.56 -2.7h3.12zM324.8 54.1l1.57 2.72h-3.14zM341.9 83.7l1.57 2.72h-3.14zM344.1 93.5l-1.56 -2.7h3.12zM348.3 94.9l1.56 2.69h-3.11zM348.3 100.9l-1.55 -2.69h3.11zM329.1 54.1l1.56 2.7h-3.11zM333.4 61.5l1.56 2.7h-3.12zM339.8 72.6l1.56 2.7h-3.12zM344.1 80l1.56 2.7h-3.11z"/><path fill="#ffebd7" d="M198.6 123.2l-1.58 -2.73h3.16zM205 134.3l-1.57 -2.73h3.15zM215.7 152.8l-1.57 -2.73h3.15zM222.1 164l-1.58 -2.73h3.16zM205 113.4l1.59 2.75h-3.17zM207.1 123.2l-1.58 -2.74h3.17zM226.4 156.5l-1.58 -2.74h3.17zM230.7 157.8l1.59 2.75h-3.17zM211.4 117.1l1.58 2.74h-3.17zM230.7 150.4l1.58 2.74h-3.17zM198.6 87.4l1.58 2.73h-3.16zM249.9 176.4l1.58 2.73h-3.16zM205 97.2l-1.59 -2.75h3.17zM247.8 171.4l-1.59 -2.75h3.17zM207.1 87.4l1.58 2.74h-3.17zM254.2 169l1.58 2.74h-3.17zM205 76.3l1.57 2.73h-3.15zM211.4 93.5l-1.58 -2.74h3.17zM254.2 167.7l-1.58 -2.74h3.17zM262.8 176.4l1.57 2.73h-3.15zM215.7 57.8l1.57 2.73h-3.15zM284.1 176.4l1.57 2.73h-3.15zM222.1 46.6l1.58 2.73h-3.16zM226.4 54.1l1.58 2.74h-3.17zM292.7 169l1.58 2.74h-3.17zM297 176.4l1.58 2.73h-3.16zM230.7 60.2l-1.58 -2.74h3.17zM292.7 167.7l-1.58 -2.74h3.17zM230.7 52.8l-1.59 -2.75h3.17zM299.1 171.4l-1.59 -2.75h3.17zM247.8 39.2l1.59 2.75h-3.17zM316.2 157.8l1.59 2.75h-3.17zM254.2 42.9l1.58 2.74h-3.17zM316.2 150.4l1.58 2.74h-3.17zM249.9 34.2l-1.58 -2.73h3.16zM254.2 41.6l-1.58 -2.74h3.17zM320.5 156.5l-1.58 -2.74h3.17zM324.8 164l-1.58 -2.73h3.16zM262.8 34.2l-1.57 -2.73h3.15zM331.2 152.8l-1.57 -2.73h3.15zM284.1 34.2l-1.57 -2.73h3.15zM292.7 42.9l1.58 2.74h-3.17zM335.5 117.1l1.58 2.74h-3.17zM341.9 134.3l-1.57 -2.73h3.15zM292.7 41.6l-1.58 -2.74h3.17zM339.8 123.2l-1.58 -2.74h3.17zM299.1 39.2l1.59 2.75h-3.17zM341.9 113.4l1.59 2.75h-3.17zM297 34.2l-1.58 -2.73h3.16zM348.3 123.2l-1.58 -2.73h3.16zM316.2 60.2l-1.58 -2.74h3.17zM335.5 93.5l-1.58 -2.74h3.17zM316.2 52.8l-1.59 -2.75h3.17zM320.5 54.1l1.58 2.74h-3.17zM339.8 87.4l1.58 2.74h-3.17zM341.9 97.2l-1.59 -2.75h3.17zM324.8 46.6l1.58 2.73h-3.16zM331.2 57.8l1.57 2.73h-3.15zM341.9 76.3l1.57 2.73h-3.15zM348.3 87.4l1.58 2.73h-3.16z"/><path fill="#ffe7cf" d="M200.7 126.9l-1.6 -2.76h3.19zM220 160.3l-1.6 -2.76h3.19zM207.1 124.5l1.6 2.78h-3.21zM207.1 130.6l-1.6 -2.78h3.2zM211.4 131.9l1.6 2.77h-3.2zM213.5 141.7l-1.6 -2.77h3.2zM217.8 143l1.6 2.77h-3.2zM220 152.9l-1.6 -2.78h3.2zM222.1 150.4l1.6 2.78h-3.21zM200.7 105.9l1.59 2.75h-3.18zM213.5 134.3l-1.6 -2.77h3.2zM220 145.4l-1.6 -2.77h3.2zM234.9 165.2l1.59 2.75h-3.18zM200.7 104.7l-1.59 -2.75h3.18zM239.2 171.4l-1.59 -2.75h3.18zM200.7 83.7l1.6 2.76h-3.19zM254.2 176.4l1.6 2.76h-3.19zM207.1 80l1.6 2.78h-3.2zM207.1 86.1l-1.6 -2.78h3.21zM258.5 175.1l-1.6 -2.78h3.21zM260.6 172.6l1.6 2.78h-3.2zM211.4 78.7l-1.6 -2.77h3.2zM213.5 76.3l1.6 2.77h-3.2zM267 168.9l1.6 2.77h-3.2zM267 175.1l-1.6 -2.77h3.2zM213.5 68.9l1.6 2.77h-3.2zM273.4 172.6l1.6 2.77h-3.2zM217.8 67.6l-1.6 -2.77h3.2zM220 65.2l1.6 2.77h-3.2zM279.9 168.9l1.6 2.77h-3.2zM279.9 175.1l-1.6 -2.77h3.2zM220 57.7l1.6 2.78h-3.2zM286.3 172.6l1.6 2.78h-3.2zM220 50.3l1.6 2.76h-3.19zM222.1 60.2l-1.6 -2.78h3.21zM288.4 175.1l-1.6 -2.78h3.21zM292.7 176.4l1.6 2.76h-3.19zM234.9 45.4l-1.59 -2.75h3.18zM307.7 171.4l-1.59 -2.75h3.18zM239.2 39.2l1.59 2.75h-3.18zM312 165.2l1.59 2.75h-3.18zM254.2 34.2l-1.6 -2.76h3.19zM258.5 35.5l1.6 2.78h-3.21zM324.8 150.4l1.6 2.78h-3.21zM326.9 160.3l-1.6 -2.76h3.19zM260.6 38l-1.6 -2.78h3.2zM326.9 152.9l-1.6 -2.78h3.2zM267 35.5l1.6 2.77h-3.2zM267 41.7l-1.6 -2.77h3.2zM326.9 145.4l-1.6 -2.77h3.2zM329.1 143l1.6 2.77h-3.2zM273.4 38l-1.6 -2.77h3.2zM333.4 141.7l-1.6 -2.77h3.2zM279.9 35.5l1.6 2.77h-3.2zM279.9 41.7l-1.6 -2.77h3.2zM333.4 134.3l-1.6 -2.77h3.2zM335.5 131.9l1.6 2.77h-3.2zM286.3 38l-1.6 -2.78h3.2zM288.4 35.5l1.6 2.78h-3.21zM339.8 124.5l1.6 2.78h-3.21zM339.8 130.6l-1.6 -2.78h3.2zM292.7 34.2l-1.6 -2.76h3.19zM346.2 126.9l-1.6 -2.76h3.19zM307.7 39.2l1.59 2.75h-3.18zM346.2 105.9l1.59 2.75h-3.18zM312 45.4l-1.59 -2.75h3.18zM326.9 65.2l1.6 2.77h-3.2zM333.4 76.3l1.6 2.77h-3.2zM346.2 104.7l-1.59 -2.75h3.18zM324.8 60.2l-1.6 -2.78h3.21zM326.9 57.7l1.6 2.78h-3.2zM329.1 67.6l-1.6 -2.77h3.2zM333.4 68.9l1.6 2.77h-3.2zM335.5 78.7l-1.6 -2.77h3.2zM339.8 80l1.6 2.78h-3.2zM339.8 86.1l-1.6 -2.78h3.21zM326.9 50.3l1.6 2.76h-3.19zM346.2 83.7l1.6 2.76h-3.19z"/><path fill="#ffe3c7" d="M200.7 113.3l1.61 2.8h-3.23zM202.8 123.2l-1.61 -2.79h3.22zM224.2 160.3l-1.61 -2.79h3.22zM228.5 161.5l1.61 2.8h-3.23zM194.3 108.4l-1.61 -2.79h3.22zM194.3 102.2l1.61 2.79h-3.22zM200.7 112.1l-1.61 -2.79h3.22zM207.1 117l1.62 2.8h-3.23zM228.5 154.1l1.62 2.8h-3.23zM232.8 167.7l-1.61 -2.79h3.22zM234.9 172.6l1.61 2.79h-3.22zM232.8 175.1l-1.61 -2.79h3.22zM200.7 98.5l1.61 2.79h-3.22zM241.4 168.9l1.61 2.79h-3.22zM200.7 97.3l-1.61 -2.8h3.23zM245.6 175.1l-1.61 -2.8h3.23zM202.8 87.4l1.61 2.79h-3.22zM252.1 172.6l1.61 2.79h-3.22zM207.1 93.6l-1.62 -2.8h3.23zM252.1 171.4l-1.62 -2.8h3.23zM224.2 50.3l1.61 2.79h-3.22zM294.8 172.6l1.61 2.79h-3.22zM228.5 56.5l-1.62 -2.8h3.23zM294.8 171.4l-1.62 -2.8h3.23zM228.5 49.1l-1.61 -2.8h3.23zM301.3 175.1l-1.61 -2.8h3.23zM232.8 42.9l1.61 2.79h-3.22zM305.5 168.9l1.61 2.79h-3.22zM234.9 38l-1.61 -2.79h3.22zM232.8 35.5l1.61 2.79h-3.22zM314.1 175.1l-1.61 -2.79h3.22zM312 172.6l1.61 2.79h-3.22zM241.4 41.7l-1.61 -2.79h3.22zM314.1 167.7l-1.61 -2.79h3.22zM245.6 35.5l1.61 2.8h-3.23zM318.4 161.5l1.61 2.8h-3.23zM252.1 39.2l1.62 2.8h-3.23zM318.4 154.1l1.62 2.8h-3.23zM252.1 38l-1.61 -2.79h3.22zM322.7 160.3l-1.61 -2.79h3.22zM294.8 39.2l1.62 2.8h-3.23zM339.8 117l1.62 2.8h-3.23zM294.8 38l-1.61 -2.79h3.22zM344.1 123.2l-1.61 -2.79h3.22zM301.3 35.5l1.61 2.8h-3.23zM346.2 113.3l1.61 2.8h-3.23zM305.5 41.7l-1.61 -2.79h3.22zM346.2 112.1l-1.61 -2.79h3.22zM314.1 42.9l1.61 2.79h-3.22zM318.4 56.5l-1.62 -2.8h3.23zM339.8 93.6l-1.62 -2.8h3.23zM346.2 98.5l1.61 2.79h-3.22zM312 38l-1.61 -2.79h3.22zM314.1 35.5l1.61 2.79h-3.22zM318.4 49.1l-1.61 -2.8h3.23zM322.7 50.3l1.61 2.79h-3.22zM344.1 87.4l1.61 2.79h-3.22zM346.2 97.3l-1.61 -2.8h3.23zM352.6 102.2l1.61 2.79h-3.22zM352.6 108.4l-1.61 -2.79h3.22z"/><path fill="#ffdfbf" d="M205 128.1l1.63 2.82h-3.26zM217.8 150.4l1.63 2.82h-3.26zM205 82.5l-1.63 -2.82h3.26zM260.6 178.8l-1.63 -2.82h3.26zM217.8 60.2l-1.63 -2.82h3.26zM286.3 178.8l-1.63 -2.82h3.26zM260.6 31.8l1.63 2.82h-3.26zM329.1 150.4l1.63 2.82h-3.26zM286.3 31.8l1.63 2.82h-3.26zM341.9 128.1l1.63 2.82h-3.26zM329.1 60.2l-1.63 -2.82h3.26zM341.9 82.5l-1.63 -2.82h3.26z"/><path fill="#ffdbb7" d="M209.3 120.7l1.64 2.83h-3.27zM226.4 150.4l1.64 2.83h-3.27zM209.3 89.9l-1.64 -2.83h3.27zM256.3 171.4l-1.64 -2.83h3.27zM226.4 60.2l-1.64 -2.83h3.27zM290.6 171.4l-1.64 -2.83h3.27zM256.3 39.2l1.64 2.83h-3.27zM320.5 150.4l1.64 2.83h-3.27zM290.6 39.2l1.64 2.83h-3.27zM337.6 120.7l1.64 2.83h-3.27zM320.5 60.2l-1.64 -2.83h3.27zM337.6 89.9l-1.64 -2.83h3.27z"/><path fill="#ffd7af" d="M202.8 138.1l-1.65 -2.85h3.3zM211.4 152.9l-1.65 -2.85h3.3zM200.7 120.7l1.65 2.86h-3.31zM222.1 157.8l1.65 2.86h-3.31zM211.4 138.1l-1.65 -2.85h3.3zM215.7 145.5l-1.65 -2.85h3.3zM213.5 128.1l1.65 2.86h-3.3zM222.1 142.9l1.65 2.86h-3.3zM200.7 89.9l-1.65 -2.86h3.31zM252.1 178.9l-1.65 -2.86h3.31zM202.8 72.5l1.65 2.85h-3.3zM264.9 180l1.65 2.85h-3.3zM211.4 72.5l1.65 2.85h-3.3zM213.5 82.5l-1.65 -2.86h3.3zM264.9 171.5l-1.65 -2.86h3.3zM269.2 172.6l1.65 2.85h-3.3zM211.4 57.7l1.65 2.85h-3.3zM215.7 65.1l1.65 2.85h-3.3zM277.7 172.6l1.65 2.85h-3.3zM282 180l1.65 2.85h-3.3zM222.1 67.7l-1.65 -2.86h3.3zM282 171.5l-1.65 -2.86h3.3zM222.1 52.8l-1.65 -2.86h3.31zM294.8 178.9l-1.65 -2.86h3.31zM252.1 31.7l1.65 2.86h-3.31zM324.8 157.8l1.65 2.86h-3.31zM264.9 39.1l1.65 2.86h-3.3zM324.8 142.9l1.65 2.86h-3.3zM264.9 30.6l-1.65 -2.85h3.3zM269.2 38l-1.65 -2.85h3.3zM331.2 145.5l-1.65 -2.85h3.3zM335.5 152.9l-1.65 -2.85h3.3zM277.7 38l-1.65 -2.85h3.3zM282 39.1l1.65 2.86h-3.3zM333.4 128.1l1.65 2.86h-3.3zM335.5 138.1l-1.65 -2.85h3.3zM282 30.6l-1.65 -2.85h3.3zM344.1 138.1l-1.65 -2.85h3.3zM294.8 31.7l1.65 2.86h-3.31zM346.2 120.7l1.65 2.86h-3.31zM324.8 67.7l-1.65 -2.86h3.3zM333.4 82.5l-1.65 -2.86h3.3zM331.2 65.1l1.65 2.85h-3.3zM335.5 72.5l1.65 2.85h-3.3zM324.8 52.8l-1.65 -2.86h3.31zM346.2 89.9l-1.65 -2.86h3.31zM335.5 57.7l1.65 2.85h-3.3zM344.1 72.5l1.65 2.85h-3.3z"/><path fill="#ffd3a7" d="M198.6 138.1l-1.66 -2.88h3.33zM209.3 156.6l-1.66 -2.88h3.33zM207.1 145.5l-1.67 -2.89h3.34zM198.6 72.5l1.66 2.88h-3.33zM262.8 183.7l1.66 2.88h-3.33zM207.1 65.1l1.67 2.89h-3.34zM273.4 180l1.67 2.89h-3.34zM209.3 54l1.66 2.88h-3.33zM284.1 183.7l1.66 2.88h-3.33zM262.8 26.9l-1.66 -2.88h3.33zM337.6 156.6l-1.66 -2.88h3.33zM273.4 30.6l-1.67 -2.89h3.34zM339.8 145.5l-1.67 -2.89h3.34zM284.1 26.9l-1.66 -2.88h3.33zM348.3 138.1l-1.66 -2.88h3.33zM339.8 65.1l1.67 2.89h-3.34zM337.6 54l1.66 2.88h-3.33zM348.3 72.5l1.66 2.88h-3.33z"/><path fill="#ffcf9f" d="M211.4 139.2l1.68 2.91h-3.36zM194.3 109.5l1.67 2.89h-3.34zM228.5 168.9l1.67 2.89h-3.34zM211.4 124.4l1.67 2.9h-3.35zM224.2 146.6l1.67 2.9h-3.35zM194.3 101.1l-1.67 -2.89h3.34zM239.2 178.9l-1.67 -2.89h3.34zM211.4 86.2l-1.67 -2.9h3.35zM260.6 171.5l-1.67 -2.9h3.35zM211.4 71.4l-1.68 -2.91h3.36zM273.4 178.9l-1.68 -2.91h3.36zM224.2 64l-1.67 -2.9h3.35zM286.3 171.5l-1.67 -2.9h3.35zM228.5 41.7l-1.67 -2.89h3.34zM307.7 178.9l-1.67 -2.89h3.34zM239.2 31.7l1.67 2.89h-3.34zM318.4 168.9l1.67 2.89h-3.34zM260.6 39.1l1.67 2.9h-3.35zM322.7 146.6l1.67 2.9h-3.35zM273.4 31.7l1.68 2.91h-3.36zM335.5 139.2l1.68 2.91h-3.36zM286.3 39.1l1.67 2.9h-3.35zM335.5 124.4l1.67 2.9h-3.35zM307.7 31.7l1.67 2.89h-3.34zM322.7 64l-1.67 -2.9h3.35zM335.5 86.2l-1.67 -2.9h3.35zM352.6 109.5l1.67 2.89h-3.34zM318.4 41.7l-1.67 -2.89h3.34zM335.5 71.4l-1.68 -2.91h3.36zM352.6 101.1l-1.67 -2.89h3.34z"/><path fill="#ffcb97" d="M202.8 131.8l1.69 2.93h-3.38zM213.5 150.3l1.69 2.93h-3.38zM196.4 112.2l-1.68 -2.92h3.37zM205 120.7l1.68 2.91h-3.36zM224.2 154l1.68 2.91h-3.36zM230.7 171.5l-1.68 -2.92h3.37zM196.4 98.4l1.68 2.92h-3.37zM239.2 172.5l1.68 2.92h-3.37zM205 89.9l-1.68 -2.91h3.36zM254.2 175.2l-1.68 -2.91h3.36zM202.8 78.8l-1.69 -2.93h3.38zM262.8 182.6l-1.69 -2.93h3.38zM213.5 60.3l-1.69 -2.93h3.38zM284.1 182.6l-1.69 -2.93h3.38zM224.2 56.6l-1.68 -2.91h3.36zM292.7 175.2l-1.68 -2.91h3.36zM230.7 39.1l1.68 2.92h-3.37zM307.7 172.5l1.68 2.92h-3.37zM239.2 38.1l-1.68 -2.92h3.37zM316.2 171.5l-1.68 -2.92h3.37zM254.2 35.4l1.68 2.91h-3.36zM322.7 154l1.68 2.91h-3.36zM262.8 28l1.69 2.93h-3.38zM333.4 150.3l1.69 2.93h-3.38zM284.1 28l1.69 2.93h-3.38zM344.1 131.8l1.69 2.93h-3.38zM292.7 35.4l1.68 2.91h-3.36zM341.9 120.7l1.68 2.91h-3.36zM307.7 38.1l-1.68 -2.92h3.37zM350.5 112.2l-1.68 -2.92h3.37zM316.2 39.1l1.68 2.92h-3.37zM322.7 56.6l-1.68 -2.91h3.36zM341.9 89.9l-1.68 -2.91h3.36zM350.5 98.4l1.68 2.92h-3.37zM333.4 60.3l-1.69 -2.93h3.38zM344.1 78.8l-1.69 -2.93h3.38z"/><path fill="#ffc78f" d="M196.4 134.4l-1.69 -2.93h3.39zM211.4 160.4l-1.69 -2.93h3.39zM200.7 134.4l-1.7 -2.94h3.4zM213.5 156.7l-1.7 -2.94h3.4zM198.6 116.9l1.7 2.94h-3.39zM224.2 161.4l1.7 2.94h-3.39zM196.4 113.2l1.69 2.93h-3.39zM226.4 165.1l1.69 2.93h-3.39zM196.4 97.4l-1.69 -2.93h3.39zM243.5 178.9l-1.69 -2.93h3.39zM198.6 93.7l-1.7 -2.94h3.39zM247.8 178.9l-1.7 -2.94h3.39zM196.4 76.2l1.69 2.93h-3.39zM200.7 76.2l1.7 2.94h-3.4zM260.6 179.9l1.7 2.94h-3.4zM258.5 183.7l1.69 2.93h-3.39zM211.4 50.2l1.69 2.93h-3.39zM213.5 53.9l1.7 2.94h-3.4zM286.3 179.9l1.7 2.94h-3.4zM288.4 183.7l1.69 2.93h-3.39zM224.2 49.2l-1.7 -2.94h3.39zM299.1 178.9l-1.7 -2.94h3.39zM226.4 45.5l-1.69 -2.93h3.39zM303.4 178.9l-1.69 -2.93h3.39zM243.5 31.7l1.69 2.93h-3.39zM320.5 165.1l1.69 2.93h-3.39zM247.8 31.7l1.7 2.94h-3.39zM322.7 161.4l1.7 2.94h-3.39zM258.5 26.9l-1.69 -2.93h3.39zM260.6 30.7l-1.7 -2.94h3.4zM333.4 156.7l-1.7 -2.94h3.4zM335.5 160.4l-1.69 -2.93h3.39zM286.3 30.7l-1.7 -2.94h3.4zM346.2 134.4l-1.7 -2.94h3.4zM288.4 26.9l-1.69 -2.93h3.39zM350.5 134.4l-1.69 -2.93h3.39zM299.1 31.7l1.7 2.94h-3.39zM348.3 116.9l1.7 2.94h-3.39zM303.4 31.7l1.69 2.93h-3.39zM350.5 113.2l1.69 2.93h-3.39zM320.5 45.5l-1.69 -2.93h3.39zM322.7 49.2l-1.7 -2.94h3.39zM348.3 93.7l-1.7 -2.94h3.39zM350.5 97.4l-1.69 -2.93h3.39zM333.4 53.9l1.7 2.94h-3.4zM346.2 76.2l1.7 2.94h-3.4zM335.5 50.2l1.69 2.93h-3.39zM350.5 76.2l1.69 2.93h-3.39z"/><path fill="#ffc387" d="M194.3 124.3l1.7 2.95h-3.4zM215.7 161.4l1.7 2.95h-3.4zM196.4 104.8l-1.7 -2.95h3.4zM196.4 105.8l1.7 2.95h-3.4zM232.8 168.8l1.7 2.95h-3.4zM237.1 175.2l-1.7 -2.95h3.4zM194.3 86.3l-1.7 -2.95h3.4zM252.1 186.3l-1.7 -2.95h3.4zM215.7 49.2l-1.7 -2.95h3.4zM294.8 186.3l-1.7 -2.95h3.4zM232.8 41.8l-1.7 -2.95h3.4zM309.8 175.2l-1.7 -2.95h3.4zM237.1 35.4l1.7 2.95h-3.4zM314.1 168.8l1.7 2.95h-3.4zM252.1 24.3l1.7 2.95h-3.4zM331.2 161.4l1.7 2.95h-3.4zM294.8 24.3l1.7 2.95h-3.4zM352.6 124.3l1.7 2.95h-3.4zM309.8 35.4l1.7 2.95h-3.4zM350.5 105.8l1.7 2.95h-3.4zM314.1 41.8l-1.7 -2.95h3.4zM350.5 104.8l-1.7 -2.95h3.4zM331.2 49.2l-1.7 -2.95h3.4zM352.6 86.3l-1.7 -2.95h3.4z"/><path fill="#ffbf80" d="M200.7 128l1.72 2.97h-3.43zM215.7 154l1.72 2.97h-3.43zM196.4 119.6l-1.71 -2.96h3.42zM194.3 116.9l1.72 2.97h-3.43zM224.2 167.8l-1.71 -2.96h3.42zM222.1 165.1l1.72 2.97h-3.43zM196.4 91l1.71 2.96h-3.42zM194.3 93.7l-1.72 -2.97h3.43zM245.6 176.2l1.71 2.96h-3.42zM245.6 182.6l-1.72 -2.97h3.43zM200.7 82.6l-1.72 -2.97h3.43zM258.5 182.6l-1.72 -2.97h3.43zM215.7 56.6l-1.72 -2.97h3.43zM288.4 182.6l-1.72 -2.97h3.43zM222.1 45.5l-1.72 -2.97h3.43zM224.2 42.8l1.71 2.96h-3.42zM301.3 176.2l1.71 2.96h-3.42zM301.3 182.6l-1.72 -2.97h3.43zM245.6 34.4l-1.71 -2.96h3.42zM322.7 167.8l-1.71 -2.96h3.42zM245.6 28l1.72 2.97h-3.43zM324.8 165.1l1.72 2.97h-3.43zM258.5 28l1.72 2.97h-3.43zM331.2 154l1.72 2.97h-3.43zM288.4 28l1.72 2.97h-3.43zM346.2 128l1.72 2.97h-3.43zM301.3 28l1.72 2.97h-3.43zM301.3 34.4l-1.71 -2.96h3.42zM350.5 119.6l-1.71 -2.96h3.42zM352.6 116.9l1.72 2.97h-3.43zM322.7 42.8l1.71 2.96h-3.42zM350.5 91l1.71 2.96h-3.42zM324.8 45.5l-1.72 -2.97h3.43zM331.2 56.6l-1.72 -2.97h3.43zM346.2 82.6l-1.72 -2.97h3.43zM352.6 93.7l-1.72 -2.97h3.43z"/><path fill="#ffb770" d="M198.6 124.3l1.74 3.01h-3.47zM217.8 157.7l1.74 3.01h-3.47zM198.6 86.3l-1.74 -3.01h3.47zM254.2 182.7l-1.74 -3.01h3.47zM217.8 52.9l-1.74 -3.01h3.47zM292.7 182.7l-1.74 -3.01h3.47zM254.2 27.9l1.74 3.01h-3.47zM329.1 157.7l1.74 3.01h-3.47zM292.7 27.9l1.74 3.01h-3.47zM348.3 124.3l1.74 3.01h-3.47zM329.1 52.9l-1.74 -3.01h3.47zM348.3 86.3l-1.74 -3.01h3.47z"/><path fill="#ffb368" d="M196.4 127.1l-1.75 -3.02h3.49zM198.6 130.8l-1.74 -3.01h3.48zM215.7 160.4l-1.74 -3.01h3.48zM217.8 164.1l-1.75 -3.02h3.49zM202.8 124.3l1.74 3.02h-3.49zM220 153.9l1.74 3.02h-3.49zM198.6 79.8l1.74 3.01h-3.48zM196.4 83.5l1.75 3.02h-3.49zM252.1 179.9l1.75 3.02h-3.49zM256.3 179.9l1.74 3.01h-3.48zM202.8 86.3l-1.74 -3.02h3.49zM256.3 179l-1.74 -3.02h3.49zM215.7 50.2l1.74 3.01h-3.48zM290.6 179.9l1.74 3.01h-3.48zM217.8 46.5l1.75 3.02h-3.49zM220 56.7l-1.74 -3.02h3.49zM290.6 179l-1.74 -3.02h3.49zM294.8 179.9l1.75 3.02h-3.49zM252.1 30.7l-1.75 -3.02h3.49zM256.3 31.6l1.74 3.02h-3.49zM326.9 153.9l1.74 3.02h-3.49zM329.1 164.1l-1.75 -3.02h3.49zM256.3 30.7l-1.74 -3.01h3.48zM331.2 160.4l-1.74 -3.01h3.48zM290.6 31.6l1.74 3.02h-3.49zM344.1 124.3l1.74 3.02h-3.49zM290.6 30.7l-1.74 -3.01h3.48zM348.3 130.8l-1.74 -3.01h3.48zM294.8 30.7l-1.75 -3.02h3.49zM350.5 127.1l-1.75 -3.02h3.49zM326.9 56.7l-1.74 -3.02h3.49zM344.1 86.3l-1.74 -3.02h3.49zM329.1 46.5l1.75 3.02h-3.49zM331.2 50.2l1.74 3.01h-3.48zM348.3 79.8l1.74 3.01h-3.48zM350.5 83.5l1.75 3.02h-3.49z"/><path fill="#ffaf60" d="M200.7 141.9l-1.75 -3.03h3.5zM207.1 153l-1.75 -3.03h3.5zM205 141.9l-1.75 -3.03h3.5zM209.3 149.3l-1.75 -3.03h3.5zM213.5 135.4l1.75 3.03h-3.49zM215.7 139.1l1.75 3.03h-3.49zM200.7 68.7l1.75 3.03h-3.5zM267 183.6l1.75 3.03h-3.5zM205 68.7l1.75 3.03h-3.5zM269.2 179.9l1.75 3.03h-3.5zM207.1 57.6l1.75 3.03h-3.5zM209.3 61.3l1.75 3.03h-3.5zM213.5 75.2l-1.75 -3.03h3.49zM271.3 175.3l-1.75 -3.03h3.49zM277.7 179.9l1.75 3.03h-3.5zM279.9 183.6l1.75 3.03h-3.5zM215.7 71.5l-1.75 -3.03h3.49zM275.6 175.3l-1.75 -3.03h3.49zM271.3 35.3l1.75 3.03h-3.49zM331.2 139.1l1.75 3.03h-3.49zM267 27l-1.75 -3.03h3.5zM269.2 30.7l-1.75 -3.03h3.5zM275.6 35.3l1.75 3.03h-3.49zM333.4 135.4l1.75 3.03h-3.49zM337.6 149.3l-1.75 -3.03h3.5zM339.8 153l-1.75 -3.03h3.5zM277.7 30.7l-1.75 -3.03h3.5zM341.9 141.9l-1.75 -3.03h3.5zM279.9 27l-1.75 -3.03h3.5zM346.2 141.9l-1.75 -3.03h3.5zM331.2 71.5l-1.75 -3.03h3.49zM333.4 75.2l-1.75 -3.03h3.49zM337.6 61.3l1.75 3.03h-3.5zM341.9 68.7l1.75 3.03h-3.5zM339.8 57.6l1.75 3.03h-3.5zM346.2 68.7l1.75 3.03h-3.5z"/><path fill="#ffab58" d="M196.4 120.6l1.76 3.04h-3.52zM209.3 141.9l-1.76 -3.04h3.51zM211.4 145.6l-1.76 -3.04h3.51zM220 161.3l1.76 3.04h-3.52zM196.4 90l-1.76 -3.04h3.52zM249.9 182.7l-1.76 -3.04h3.52zM209.3 68.7l1.76 3.04h-3.51zM271.3 176.2l1.76 3.04h-3.51zM211.4 65l1.76 3.04h-3.51zM275.6 176.2l1.76 3.04h-3.51zM220 49.3l-1.76 -3.04h3.52zM297 182.7l-1.76 -3.04h3.52zM249.9 27.9l1.76 3.04h-3.52zM326.9 161.3l1.76 3.04h-3.52zM271.3 34.4l-1.76 -3.04h3.51zM335.5 145.6l-1.76 -3.04h3.51zM275.6 34.4l-1.76 -3.04h3.51zM337.6 141.9l-1.76 -3.04h3.51zM297 27.9l1.76 3.04h-3.52zM350.5 120.6l1.76 3.04h-3.52zM335.5 65l1.76 3.04h-3.51zM337.6 68.7l1.76 3.04h-3.51zM326.9 49.3l-1.76 -3.04h3.52zM350.5 90l-1.76 -3.04h3.52z"/><path fill="#ffa750" d="M209.3 128l1.76 3.06h-3.53zM220 146.5l1.76 3.06h-3.53zM209.3 82.6l-1.76 -3.06h3.53zM262.8 175.3l-1.76 -3.06h3.53zM220 64.1l-1.76 -3.06h3.53zM284.1 175.3l-1.76 -3.06h3.53zM262.8 35.3l1.76 3.06h-3.53zM326.9 146.5l1.76 3.06h-3.53zM284.1 35.3l1.76 3.06h-3.53zM337.6 128l1.76 3.06h-3.53zM326.9 64.1l-1.76 -3.06h3.53zM337.6 82.6l-1.76 -3.06h3.53z"/><path fill="#ffa348" d="M194.3 130.8l-1.78 -3.07h3.55zM213.5 164.2l-1.78 -3.07h3.55zM194.3 79.8l1.78 3.07h-3.55zM254.2 183.6l1.78 3.07h-3.55zM213.5 46.4l1.78 3.07h-3.55zM292.7 183.6l1.78 3.07h-3.55zM254.2 27l-1.78 -3.07h3.55zM333.4 164.2l-1.78 -3.07h3.55zM292.7 27l-1.78 -3.07h3.55zM352.6 130.8l-1.78 -3.07h3.55zM333.4 46.4l1.78 3.07h-3.55zM352.6 79.8l1.78 3.07h-3.55z"/><path fill="#ff9f40" d="M196.4 142l-1.78 -3.09h3.56zM205 156.8l-1.78 -3.09h3.56zM196.4 68.6l1.78 3.09h-3.56zM264.9 187.3l1.78 3.09h-3.56zM205 53.8l1.78 3.09h-3.56zM282 187.3l1.78 3.09h-3.56zM264.9 23.3l-1.78 -3.09h3.56zM341.9 156.8l-1.78 -3.09h3.56zM282 23.3l-1.78 -3.09h3.56zM350.5 142l-1.78 -3.09h3.56zM341.9 53.8l1.78 3.09h-3.56zM350.5 68.6l1.78 3.09h-3.56z"/><path fill="#ff9730" d="M196.4 135.4l1.8 3.11h-3.59zM207.1 153.9l1.8 3.11h-3.59zM196.4 75.2l-1.8 -3.11h3.59zM262.8 190.2l-1.8 -3.11h3.59zM207.1 56.7l-1.8 -3.11h3.59zM284.1 190.2l-1.8 -3.11h3.59zM262.8 20.4l1.8 3.11h-3.59zM339.8 153.9l1.8 3.11h-3.59zM284.1 20.4l1.8 3.11h-3.59zM350.5 135.4l1.8 3.11h-3.59zM339.8 56.7l-1.8 -3.11h3.59zM350.5 75.2l-1.8 -3.11h3.59z"/><path fill="#ff8f20" d="M196.4 149.4l-1.81 -3.14h3.62zM198.6 153.1l-1.81 -3.14h3.62zM194.3 153.1l-1.81 -3.14h3.62zM198.6 57.5l1.81 3.14h-3.62zM196.4 61.2l1.81 3.14h-3.62zM194.3 57.5l1.81 3.14h-3.62zM271.3 190.9l1.81 3.14h-3.62zM275.6 190.9l1.81 3.14h-3.62zM273.4 194.6l1.81 3.14h-3.62zM271.3 19.7l-1.81 -3.14h3.62zM348.3 153.1l-1.81 -3.14h3.62zM273.4 16l-1.81 -3.14h3.62zM275.6 19.7l-1.81 -3.14h3.62zM350.5 149.4l-1.81 -3.14h3.62zM352.6 153.1l-1.81 -3.14h3.62zM348.3 57.5l1.81 3.14h-3.62zM350.5 61.2l1.81 3.14h-3.62zM352.6 57.5l1.81 3.14h-3.62z"/><path fill="#ff8710" d="M194.3 123.5l-1.83 -3.16h3.65zM220 167.9l-1.83 -3.16h3.65zM194.3 87.1l1.83 3.16h-3.65zM247.8 179.8l1.83 3.16h-3.65zM220 42.7l1.83 3.16h-3.65zM299.1 179.8l1.83 3.16h-3.65zM247.8 30.8l-1.83 -3.16h3.65zM326.9 167.9l-1.83 -3.16h3.65zM299.1 30.8l-1.83 -3.16h3.65zM352.6 123.5l-1.83 -3.16h3.65zM326.9 42.7l1.83 3.16h-3.65zM352.6 87.1l1.83 3.16h-3.65z"/><path fill="#ff7800" d="M202.8 139l1.85 3.21h-3.71zM207.1 146.4l1.85 3.21h-3.71zM202.8 71.6l-1.85 -3.21h3.71zM269.2 186.5l-1.85 -3.21h3.71zM207.1 64.2l-1.85 -3.21h3.71zM277.7 186.5l-1.85 -3.21h3.71zM269.2 24.1l1.85 3.21h-3.71zM339.8 146.4l1.85 3.21h-3.71zM277.7 24.1l1.85 3.21h-3.71zM344.1 139l1.85 3.21h-3.71zM339.8 64.2l-1.85 -3.21h3.71zM344.1 71.6l-1.85 -3.21h3.71z"/><path fill="#ff5800" d="M194.3 138.4l-1.9 -3.29h3.8zM207.1 160.6l-1.9 -3.29h3.8zM194.3 72.2l1.9 3.29h-3.8zM260.6 187.1l1.9 3.29h-3.8zM207.1 50l1.9 3.29h-3.8zM286.3 187.1l1.9 3.29h-3.8zM260.6 23.5l-1.9 -3.29h3.8zM339.8 160.6l-1.9 -3.29h3.8zM286.3 23.5l-1.9 -3.29h3.8zM352.6 138.4l-1.9 -3.29h3.8zM339.8 50l1.9 3.29h-3.8zM352.6 72.2l1.9 3.29h-3.8z"/><path fill="#fb5000" d="M200.7 142.6l1.92 3.32h-3.83zM202.8 146.3l1.92 3.32h-3.83zM200.7 68l-1.92 -3.32h3.83zM271.3 190.3l-1.92 -3.32h3.83zM202.8 64.3l-1.92 -3.32h3.83zM275.6 190.3l-1.92 -3.32h3.83zM271.3 20.3l1.92 3.32h-3.83zM344.1 146.3l1.92 3.32h-3.83zM275.6 20.3l1.92 3.32h-3.83zM346.2 142.6l1.92 3.32h-3.83zM344.1 64.3l-1.92 -3.32h3.83zM346.2 68l-1.92 -3.32h3.83z"/><path fill="#f84c00" d="M209.3 135.2l1.92 3.33h-3.84zM213.5 142.6l1.92 3.33h-3.84zM209.3 75.4l-1.92 -3.33h3.84zM269.2 179.2l-1.92 -3.33h3.84zM213.5 68l-1.92 -3.33h3.84zM277.7 179.2l-1.92 -3.33h3.84zM269.2 31.4l1.92 3.33h-3.84zM333.4 142.6l1.92 3.33h-3.84zM277.7 31.4l1.92 3.33h-3.84zM337.6 135.2l1.92 3.33h-3.84zM333.4 68l-1.92 -3.33h3.84zM337.6 75.4l-1.92 -3.33h3.84z"/><path fill="#f54800" d="M207.1 131.5l1.93 3.34h-3.86zM215.7 146.3l1.93 3.34h-3.86zM207.1 79.1l-1.93 -3.34h3.86zM264.9 179.2l-1.93 -3.34h3.86zM215.7 64.3l-1.93 -3.34h3.86zM282 179.2l-1.93 -3.34h3.86zM264.9 31.4l1.93 3.34h-3.86zM331.2 146.3l1.93 3.34h-3.86zM282 31.4l1.93 3.34h-3.86zM339.8 131.5l1.93 3.34h-3.86zM331.2 64.3l-1.93 -3.34h3.86zM339.8 79.1l-1.93 -3.34h3.86z"/><path fill="#f24400" d="M205 142.6l1.93 3.35h-3.87zM205 68l-1.93 -3.35h3.87zM273.4 186.6l-1.93 -3.35h3.87zM273.4 24l1.93 3.35h-3.87zM341.9 142.6l1.93 3.35h-3.87zM341.9 68l-1.93 -3.35h3.87z"/><path fill="#e63400" d="M196.4 142.6l1.95 3.39h-3.91zM200.7 150l1.95 3.39h-3.91zM196.4 68l-1.95 -3.39h3.91zM269.2 194l-1.95 -3.39h3.91zM200.7 60.6l-1.95 -3.39h3.91zM277.7 194l-1.95 -3.39h3.91zM269.2 16.6l1.95 3.39h-3.91zM346.2 150l1.95 3.39h-3.91zM277.7 16.6l1.95 3.39h-3.91zM350.5 142.6l1.95 3.39h-3.91zM346.2 60.6l-1.95 -3.39h3.91zM350.5 68l-1.95 -3.39h3.91z"/><path fill="#dd2800" d="M196.4 127.7l1.97 3.41h-3.93zM213.5 157.4l1.97 3.41h-3.93zM196.4 82.9l-1.97 -3.41h3.93zM256.3 186.6l-1.97 -3.41h3.93zM213.5 53.2l-1.97 -3.41h3.93zM290.6 186.6l-1.97 -3.41h3.93zM256.3 24l1.97 3.41h-3.93zM333.4 157.4l1.97 3.41h-3.93zM290.6 24l1.97 3.41h-3.93zM350.5 127.7l1.97 3.41h-3.93zM333.4 53.2l-1.97 -3.41h3.93zM350.5 82.9l-1.97 -3.41h3.93z"/><path fill="#b30000" d="M198.6 138.8l2.04 3.53h-4.07zM205 149.9l2.04 3.53h-4.07zM198.6 71.8l-2.04 -3.53h4.07zM267 190.4l-2.04 -3.53h4.07zM205 60.7l-2.04 -3.53h4.07zM279.9 190.4l-2.04 -3.53h4.07zM267 20.2l2.04 3.53h-4.07zM341.9 149.9l2.04 3.53h-4.07zM279.9 20.2l2.04 3.53h-4.07zM348.3 138.8l2.04 3.53h-4.07zM341.9 60.7l-2.04 -3.53h4.07zM348.3 71.8l-2.04 -3.53h4.07z"/><path fill="#9b0000" d="M202.8 146l-2.07 -3.58h4.14zM205 149.7l-2.07 -3.58h4.14zM202.8 64.6l2.07 3.58h-4.14zM271.3 183.2l2.07 3.58h-4.14zM205 60.9l2.07 3.58h-4.14zM275.6 183.2l2.07 3.58h-4.14zM271.3 27.4l-2.07 -3.58h4.14zM341.9 149.7l-2.07 -3.58h4.14zM275.6 27.4l-2.07 -3.58h4.14zM344.1 146l-2.07 -3.58h4.14zM341.9 60.9l2.07 3.58h-4.14zM344.1 64.6l2.07 3.58h-4.14z"/><path fill="#830000" d="M198.6 131.3l2.11 3.65h-4.21zM211.4 153.5l2.11 3.65h-4.21zM198.6 79.3l-2.11 -3.65h4.21zM260.6 186.8l-2.11 -3.65h4.21zM211.4 57.1l-2.11 -3.65h4.21zM286.3 186.8l-2.11 -3.65h4.21zM260.6 23.8l2.11 3.65h-4.21zM335.5 153.5l2.11 3.65h-4.21zM286.3 23.8l2.11 3.65h-4.21zM348.3 131.3l2.11 3.65h-4.21zM335.5 57.1l-2.11 -3.65h4.21zM348.3 79.3l-2.11 -3.65h4.21z"/><path fill="#7e0000" d="M198.6 146l-2.11 -3.66h4.23zM202.8 153.5l-2.11 -3.66h4.23zM198.6 64.6l2.11 3.66h-4.23zM269.2 186.9l2.11 3.66h-4.23zM202.8 57.1l2.11 3.66h-4.23zM277.7 186.9l2.11 3.66h-4.23zM269.2 23.7l-2.11 -3.66h4.23zM344.1 153.5l-2.11 -3.66h4.23zM277.7 23.7l-2.11 -3.66h4.23zM348.3 146l-2.11 -3.66h4.23zM344.1 57.1l2.11 3.66h-4.23zM348.3 64.6l2.11 3.66h-4.23z"/><path fill="#720000" d="M205 135l2.13 3.69h-4.26zM211.4 146.1l2.13 3.69h-4.26zM205 75.6l-2.13 -3.69h4.26zM267 183.1l-2.13 -3.69h4.26zM211.4 64.5l-2.13 -3.69h4.26zM279.9 183.1l-2.13 -3.69h4.26zM267 27.5l2.13 3.69h-4.26zM335.5 146.1l2.13 3.69h-4.26zM279.9 27.5l2.13 3.69h-4.26zM341.9 135l2.13 3.69h-4.26zM335.5 64.5l-2.13 -3.69h4.26zM341.9 75.6l-2.13 -3.69h4.26z"/><path fill="#450000" d="M207.1 138.6l2.19 3.79h-4.38zM209.3 142.3l2.19 3.79h-4.38zM207.1 72l-2.19 -3.79h4.38zM271.3 183.2l-2.19 -3.79h4.38zM209.3 68.3l-2.19 -3.79h4.38zM275.6 183.2l-2.19 -3.79h4.38zM271.3 27.4l2.19 3.79h-4.38zM337.6 142.3l2.19 3.79h-4.38zM275.6 27.4l2.19 3.79h-4.38zM339.8 138.6l2.19 3.79h-4.38zM337.6 68.3l-2.19 -3.79h4.38zM339.8 72l-2.19 -3.79h4.38z"/><path fill="#270000" d="M200.7 134.9l2.23 3.85h-4.45zM209.3 149.7l2.23 3.85h-4.45zM200.7 75.7l-2.23 -3.85h4.45zM264.9 186.9l-2.23 -3.85h4.45zM209.3 60.9l-2.23 -3.85h4.45zM282 186.9l-2.23 -3.85h4.45zM264.9 23.7l2.23 3.85h-4.45zM337.6 149.7l2.23 3.85h-4.45zM282 23.7l2.23 3.85h-4.45zM346.2 134.9l2.23 3.85h-4.45zM337.6 60.9l-2.23 -3.85h4.45zM346.2 75.7l-2.23 -3.85h4.45z"/><path fill="#030000" d="M194.3 131.1l2.26 3.92h-4.53zM209.3 157l2.26 3.92h-4.53zM194.3 79.5l-2.26 -3.92h4.53zM258.5 190.7l-2.26 -3.92h4.53zM209.3 53.6l-2.26 -3.92h4.53zM288.4 190.7l-2.26 -3.92h4.53zM258.5 19.9l2.26 3.92h-4.53zM337.6 157l2.26 3.92h-4.53zM288.4 19.9l2.26 3.92h-4.53zM352.6 131.1l2.26 3.92h-4.53zM337.6 53.6l-2.26 -3.92h4.53zM352.6 79.5l-2.26 -3.92h4.53z"/><path fill="#000000" d="M198.6 145.9l2.27 3.93h-4.54zM196.4 149.6l2.27 3.93h-4.54zM194.3 145.9l2.27 3.93h-4.54zM194.3 146.2l-2.27 -3.93h4.54zM194.3 138.5l2.27 3.93h-4.54zM200.7 149.9l-2.27 -3.93h4.54zM202.8 153.3l2.27 3.93h-4.54zM200.7 157.3l-2.27 -3.93h4.54zM194.3 72.1l-2.27 -3.93h4.54zM194.3 64.4l2.27 3.93h-4.54zM267 190.4l2.27 3.93h-4.54zM264.9 194.4l-2.27 -3.93h4.54zM196.4 61l-2.27 -3.93h4.54zM198.6 64.7l-2.27 -3.93h4.54zM194.3 64.7l-2.27 -3.93h4.54zM200.7 60.7l2.27 3.93h-4.54zM273.4 186.7l2.27 3.93h-4.54zM273.4 194.4l-2.27 -3.93h4.54zM275.6 198.1l-2.27 -3.93h4.54zM271.3 198.1l-2.27 -3.93h4.54zM202.8 57.3l-2.27 -3.93h4.54zM200.7 53.3l2.27 3.93h-4.54zM282 194.4l-2.27 -3.93h4.54zM279.9 190.4l2.27 3.93h-4.54zM267 20.2l-2.27 -3.93h4.54zM264.9 16.2l2.27 3.93h-4.54zM346.2 157.3l-2.27 -3.93h4.54zM344.1 153.3l2.27 3.93h-4.54zM273.4 16.2l2.27 3.93h-4.54zM273.4 23.9l-2.27 -3.93h4.54zM346.2 149.9l-2.27 -3.93h4.54zM348.3 145.9l2.27 3.93h-4.54zM275.6 12.5l2.27 3.93h-4.54zM271.3 12.5l2.27 3.93h-4.54zM352.6 145.9l2.27 3.93h-4.54zM350.5 149.6l2.27 3.93h-4.54zM279.9 20.2l-2.27 -3.93h4.54zM282 16.2l2.27 3.93h-4.54zM352.6 138.5l2.27 3.93h-4.54zM352.6 146.2l-2.27 -3.93h4.54zM346.2 60.7l2.27 3.93h-4.54zM344.1 57.3l-2.27 -3.93h4.54zM346.2 53.3l2.27 3.93h-4.54zM348.3 64.7l-2.27 -3.93h4.54zM352.6 64.4l2.27 3.93h-4.54zM352.6 72.1l-2.27 -3.93h4.54zM350.5 61l-2.27 -3.93h4.54zM352.6 64.7l-2.27 -3.93h4.54z"/></g>
<g stroke="none"><path fill="#fff3e7" d="M203.3 325.7l1.63 2.83h-3.27zM207.9 333.6l1.63 2.83h-3.27zM214.6 345.3l1.63 2.83h-3.27zM219.2 353.1l1.63 2.83h-3.27zM196.5 314l1.64 2.84h-3.28zM201.1 314l1.63 2.82h-3.26zM228.2 361l1.63 2.82h-3.26zM225.9 364.9l1.64 2.84h-3.28zM196.5 304.7l-1.64 -2.84h3.28zM196.5 306.1l1.64 2.84h-3.28zM207.9 317.9l1.63 2.83h-3.27zM212.4 325.7l1.63 2.82h-3.26zM223.7 345.3l1.63 2.82h-3.26zM228.2 353.1l1.63 2.83h-3.27zM232.7 368.8l1.64 2.84h-3.28zM237.3 375.2l-1.64 -2.84h3.28zM196.5 296.8l-1.64 -2.84h3.28zM207.9 316.4l-1.64 -2.84h3.28zM210.1 320.4l-1.64 -2.84h3.28zM212.4 324.3l-1.63 -2.83h3.26zM216.9 332.1l-1.64 -2.84h3.28zM223.7 343.9l-1.64 -2.84h3.28zM228.2 351.7l-1.63 -2.83h3.26zM230.5 355.6l-1.64 -2.84h3.28zM232.7 359.5l-1.64 -2.84h3.28zM244 379.1l-1.64 -2.84h3.28zM201.1 296.8l-1.63 -2.82h3.26zM246.3 375.2l-1.63 -2.82h3.26zM207.9 294.4l1.64 2.84h-3.28zM212.4 302.2l1.62 2.81h-3.24zM212.4 308.6l-1.62 -2.81h3.24zM214.6 312.5l-1.62 -2.81h3.25zM221.4 324.3l-1.64 -2.83h3.27zM232.7 343.9l-1.64 -2.83h3.27zM239.5 355.6l-1.62 -2.81h3.25zM241.8 359.5l-1.62 -2.81h3.24zM244 357.1l1.62 2.81h-3.24zM248.6 364.9l1.64 2.84h-3.28zM203.3 285.1l-1.63 -2.83h3.27zM207.9 292.9l-1.63 -2.83h3.27zM210.1 290.4l1.64 2.84h-3.28zM214.6 298.3l1.62 2.81h-3.25zM248.6 357.1l1.62 2.81h-3.25zM253.1 364.9l1.64 2.84h-3.28zM253.1 371.3l-1.63 -2.83h3.27zM257.6 379.1l-1.63 -2.83h3.27zM212.4 286.5l1.63 2.83h-3.26zM257.6 364.9l1.63 2.83h-3.26zM207.9 277.2l-1.63 -2.83h3.27zM212.4 285.1l-1.63 -2.82h3.26zM262.1 371.3l-1.63 -2.82h3.26zM266.7 379.1l-1.63 -2.83h3.27zM216.9 278.7l1.64 2.84h-3.28zM221.4 286.5l1.64 2.83h-3.27zM262.1 357.1l1.64 2.83h-3.27zM266.7 364.9l1.64 2.84h-3.28zM214.6 265.5l-1.63 -2.83h3.27zM280.2 379.1l-1.63 -2.83h3.27zM223.7 266.9l1.64 2.84h-3.28zM280.2 364.9l1.64 2.84h-3.28zM219.2 257.7l-1.63 -2.83h3.27zM223.7 265.5l-1.63 -2.82h3.26zM284.8 371.3l-1.63 -2.82h3.26zM289.3 379.1l-1.63 -2.83h3.27zM228.2 259.1l1.63 2.83h-3.26zM232.7 266.9l1.64 2.83h-3.27zM284.8 357.1l1.64 2.83h-3.27zM289.3 364.9l1.63 2.83h-3.26zM228.2 257.7l-1.63 -2.83h3.27zM230.5 255.2l1.64 2.84h-3.28zM293.8 364.9l1.64 2.84h-3.28zM293.8 371.3l-1.63 -2.83h3.27zM225.9 245.9l-1.64 -2.84h3.28zM228.2 249.8l-1.63 -2.82h3.26zM232.7 251.3l1.64 2.84h-3.28zM298.3 364.9l1.64 2.84h-3.28zM300.6 375.2l-1.63 -2.82h3.26zM302.9 379.1l-1.64 -2.84h3.28zM239.5 255.2l1.62 2.81h-3.25zM298.3 357.1l1.62 2.81h-3.25zM232.7 242l-1.64 -2.84h3.28zM241.8 251.3l1.62 2.81h-3.24zM302.9 357.1l1.62 2.81h-3.24zM309.6 375.2l-1.64 -2.84h3.28zM237.3 235.6l1.64 2.84h-3.28zM244 253.7l-1.62 -2.81h3.24zM305.1 359.5l-1.62 -2.81h3.24zM314.2 368.8l1.64 2.84h-3.28zM248.6 253.7l-1.62 -2.81h3.25zM307.4 355.6l-1.62 -2.81h3.25zM244 231.7l1.64 2.84h-3.28zM246.3 235.6l1.63 2.82h-3.26zM248.6 245.9l-1.64 -2.84h3.28zM314.2 359.5l-1.64 -2.84h3.28zM318.7 361l1.63 2.82h-3.26zM321 364.9l1.64 2.84h-3.28zM253.1 239.5l1.63 2.83h-3.27zM253.1 245.9l-1.64 -2.84h3.28zM316.4 355.6l-1.64 -2.84h3.28zM318.7 353.1l1.63 2.83h-3.27zM257.6 245.9l-1.63 -2.83h3.26zM262.1 253.7l-1.64 -2.83h3.27zM314.2 343.9l-1.64 -2.83h3.27zM318.7 351.7l-1.63 -2.83h3.26zM257.6 231.7l1.63 2.83h-3.27zM262.1 239.5l1.63 2.82h-3.26zM323.2 345.3l1.63 2.82h-3.26zM327.7 353.1l1.63 2.83h-3.27zM266.7 245.9l-1.64 -2.84h3.28zM323.2 343.9l-1.64 -2.84h3.28zM266.7 231.7l1.63 2.83h-3.27zM332.3 345.3l1.63 2.83h-3.27zM280.2 245.9l-1.64 -2.84h3.28zM284.8 253.7l-1.64 -2.83h3.27zM325.5 324.3l-1.64 -2.83h3.27zM330 332.1l-1.64 -2.84h3.28zM280.2 231.7l1.63 2.83h-3.27zM284.8 239.5l1.63 2.82h-3.26zM334.5 325.7l1.63 2.82h-3.26zM339 333.6l1.63 2.83h-3.27zM289.3 245.9l-1.63 -2.83h3.26zM334.5 324.3l-1.63 -2.83h3.26zM289.3 231.7l1.63 2.83h-3.27zM293.8 239.5l1.63 2.83h-3.27zM293.8 245.9l-1.64 -2.84h3.28zM298.3 253.7l-1.62 -2.81h3.25zM332.3 312.5l-1.62 -2.81h3.25zM336.8 320.4l-1.64 -2.84h3.28zM339 317.9l1.63 2.83h-3.27zM343.6 325.7l1.63 2.83h-3.27zM298.3 245.9l-1.64 -2.84h3.28zM302.9 253.7l-1.62 -2.81h3.24zM305.1 251.3l1.62 2.81h-3.24zM307.4 255.2l1.62 2.81h-3.25zM314.2 266.9l1.64 2.83h-3.27zM325.5 286.5l1.64 2.83h-3.27zM332.3 298.3l1.62 2.81h-3.25zM334.5 302.2l1.62 2.81h-3.24zM334.5 308.6l-1.62 -2.81h3.24zM339 316.4l-1.64 -2.84h3.28zM300.6 235.6l1.63 2.82h-3.26zM345.8 314l1.63 2.82h-3.26zM302.9 231.7l1.64 2.84h-3.28zM314.2 251.3l1.64 2.84h-3.28zM316.4 255.2l1.64 2.84h-3.28zM318.7 259.1l1.63 2.83h-3.26zM323.2 266.9l1.64 2.84h-3.28zM330 278.7l1.64 2.84h-3.28zM334.5 286.5l1.63 2.83h-3.26zM336.8 290.4l1.64 2.84h-3.28zM339 294.4l1.64 2.84h-3.28zM350.4 314l1.64 2.84h-3.28zM309.6 235.6l1.64 2.84h-3.28zM318.7 257.7l-1.63 -2.83h3.27zM323.2 265.5l-1.63 -2.82h3.26zM334.5 285.1l-1.63 -2.82h3.26zM339 292.9l-1.63 -2.83h3.27zM350.4 306.1l1.64 2.84h-3.28zM314.2 242l-1.64 -2.84h3.28zM318.7 249.8l-1.63 -2.82h3.26zM345.8 296.8l-1.63 -2.82h3.26zM350.4 304.7l-1.64 -2.84h3.28zM321 245.9l-1.64 -2.84h3.28zM327.7 257.7l-1.63 -2.83h3.27zM332.3 265.5l-1.63 -2.83h3.27zM339 277.2l-1.63 -2.83h3.27zM343.6 285.1l-1.63 -2.83h3.27zM350.4 296.8l-1.64 -2.84h3.28z"/><path fill="#ffefdf" d="M201.1 329.6l1.65 2.86h-3.3zM214.6 353.1l1.65 2.86h-3.3zM203.3 317.9l1.65 2.86h-3.3zM205.6 321.8l1.66 2.87h-3.32zM210.1 329.6l1.66 2.88h-3.32zM219.2 345.3l1.66 2.88h-3.32zM223.7 353.1l1.66 2.87h-3.32zM225.9 357l1.65 2.86h-3.3zM214.6 328.2l-1.65 -2.86h3.3zM219.2 336l-1.64 -2.85h3.29zM221.4 339.9l-1.64 -2.85h3.29zM225.9 347.8l-1.65 -2.86h3.3zM210.1 312.5l-1.64 -2.85h3.29zM216.9 324.3l-1.65 -2.86h3.3zM219.2 328.2l-1.65 -2.85h3.29zM223.7 336l-1.66 -2.87h3.32zM228.2 343.9l-1.65 -2.85h3.29zM230.5 347.8l-1.65 -2.86h3.3zM237.3 359.5l-1.64 -2.85h3.29zM203.3 292.9l-1.65 -2.86h3.3zM210.1 298.3l1.64 2.85h-3.29zM223.7 328.2l-1.65 -2.86h3.3zM230.5 340l-1.65 -2.86h3.3zM246.3 361l1.64 2.85h-3.29zM250.8 375.2l-1.65 -2.86h3.3zM201.1 281.2l-1.65 -2.86h3.3zM205.6 289l-1.66 -2.87h3.32zM255.4 375.2l-1.66 -2.87h3.32zM259.9 383.1l-1.65 -2.86h3.3zM210.1 281.2l-1.66 -2.88h3.32zM214.6 282.6l1.65 2.86h-3.3zM216.9 286.5l1.65 2.86h-3.3zM259.9 361l1.65 2.86h-3.3zM262.1 364.9l1.65 2.86h-3.3zM264.4 375.2l-1.66 -2.88h3.32zM219.2 282.6l1.65 2.85h-3.29zM264.4 361l1.65 2.85h-3.29zM219.2 274.8l1.64 2.85h-3.29zM223.7 282.6l1.65 2.86h-3.3zM266.7 357l1.65 2.86h-3.3zM271.2 364.9l1.64 2.85h-3.29zM221.4 270.9l1.64 2.85h-3.29zM223.7 274.8l1.66 2.87h-3.32zM273.4 360.9l1.66 2.87h-3.32zM275.7 364.9l1.64 2.85h-3.29zM214.6 257.7l-1.65 -2.86h3.3zM219.2 265.5l-1.66 -2.88h3.32zM282.5 375.2l-1.66 -2.88h3.32zM287 383.1l-1.65 -2.86h3.3zM225.9 263l1.65 2.86h-3.3zM228.2 266.9l1.65 2.85h-3.29zM230.5 270.8l1.65 2.86h-3.3zM280.2 357l1.65 2.86h-3.3zM282.5 361l1.65 2.85h-3.29zM284.8 364.9l1.65 2.86h-3.3zM223.7 257.7l-1.66 -2.87h3.32zM230.5 263l1.65 2.86h-3.3zM287 361l1.65 2.86h-3.3zM291.5 375.2l-1.66 -2.87h3.32zM225.9 253.8l-1.65 -2.86h3.3zM296.1 375.2l-1.65 -2.86h3.3zM237.3 251.3l1.64 2.85h-3.29zM300.6 361l1.64 2.85h-3.29zM246.3 249.8l-1.64 -2.85h3.29zM309.6 359.5l-1.64 -2.85h3.29zM250.8 235.6l1.65 2.86h-3.3zM321 357l1.65 2.86h-3.3zM255.4 235.6l1.66 2.87h-3.32zM259.9 249.8l-1.65 -2.86h3.3zM316.4 347.8l-1.65 -2.86h3.3zM323.2 353.1l1.66 2.87h-3.32zM262.1 245.9l-1.65 -2.86h3.3zM264.4 249.8l-1.65 -2.85h3.29zM266.7 253.8l-1.65 -2.86h3.3zM316.4 340l-1.65 -2.86h3.3zM318.7 343.9l-1.65 -2.85h3.29zM321 347.8l-1.65 -2.86h3.3zM259.9 227.7l1.65 2.86h-3.3zM264.4 235.6l1.66 2.88h-3.32zM327.7 345.3l1.66 2.88h-3.32zM332.3 353.1l1.65 2.86h-3.3zM271.2 245.9l-1.64 -2.85h3.29zM273.4 249.9l-1.66 -2.87h3.32zM323.2 336l-1.66 -2.87h3.32zM325.5 339.9l-1.64 -2.85h3.29zM275.7 245.9l-1.64 -2.85h3.29zM280.2 253.8l-1.65 -2.86h3.3zM323.2 328.2l-1.65 -2.86h3.3zM327.7 336l-1.64 -2.85h3.29zM282.5 249.8l-1.65 -2.85h3.29zM327.7 328.2l-1.65 -2.85h3.29zM282.5 235.6l1.66 2.88h-3.32zM284.8 245.9l-1.65 -2.86h3.3zM287 249.8l-1.65 -2.86h3.3zM330 324.3l-1.65 -2.86h3.3zM332.3 328.2l-1.65 -2.86h3.3zM336.8 329.6l1.66 2.88h-3.32zM287 227.7l1.65 2.86h-3.3zM291.5 235.6l1.66 2.87h-3.32zM341.3 321.8l1.66 2.87h-3.32zM345.8 329.6l1.65 2.86h-3.3zM296.1 235.6l1.65 2.86h-3.3zM300.6 249.8l-1.64 -2.85h3.29zM316.4 270.8l1.65 2.86h-3.3zM323.2 282.6l1.65 2.86h-3.3zM336.8 312.5l-1.64 -2.85h3.29zM343.6 317.9l1.65 2.86h-3.3zM309.6 251.3l1.64 2.85h-3.29zM316.4 263l1.65 2.86h-3.3zM318.7 266.9l1.65 2.85h-3.29zM323.2 274.8l1.66 2.87h-3.32zM327.7 282.6l1.65 2.85h-3.29zM330 286.5l1.65 2.86h-3.3zM336.8 298.3l1.64 2.85h-3.29zM321 263l1.65 2.86h-3.3zM325.5 270.9l1.64 2.85h-3.29zM327.7 274.8l1.64 2.85h-3.29zM332.3 282.6l1.65 2.86h-3.3zM321 253.8l-1.65 -2.86h3.3zM323.2 257.7l-1.66 -2.87h3.32zM327.7 265.5l-1.66 -2.88h3.32zM336.8 281.2l-1.66 -2.88h3.32zM341.3 289l-1.66 -2.87h3.32zM343.6 292.9l-1.65 -2.86h3.3zM332.3 257.7l-1.65 -2.86h3.3zM345.8 281.2l-1.65 -2.86h3.3z"/><path fill="#ffebd7" d="M201.1 321.8l1.67 2.9h-3.35zM221.4 357l1.67 2.9h-3.35zM198.8 302.2l1.66 2.88h-3.33zM198.8 308.6l-1.66 -2.88h3.33zM194.3 308.6l-1.68 -2.91h3.36zM194.3 302.2l1.68 2.91h-3.36zM203.3 316.5l-1.66 -2.88h3.33zM210.1 328.2l-1.68 -2.91h3.36zM214.6 336.1l-1.68 -2.91h3.36zM219.2 343.9l-1.68 -2.91h3.36zM223.7 351.7l-1.68 -2.91h3.36zM230.5 363.5l-1.66 -2.88h3.33zM235 371.3l-1.66 -2.88h3.33zM237.3 368.8l1.66 2.88h-3.33zM235 372.7l1.68 2.91h-3.36zM232.7 375.3l-1.68 -2.91h3.36zM203.3 294.3l1.66 2.88h-3.33zM212.4 316.5l-1.67 -2.89h3.33zM214.6 320.4l-1.67 -2.89h3.33zM232.7 351.7l-1.67 -2.89h3.33zM235 355.6l-1.67 -2.89h3.33zM246.3 368.8l1.66 2.88h-3.33zM201.1 289l-1.67 -2.9h3.35zM253.1 379.2l-1.67 -2.9h3.35zM212.4 294.3l1.67 2.89h-3.33zM250.8 360.9l1.67 2.89h-3.33zM210.1 282.6l1.68 2.91h-3.36zM214.6 290.4l1.67 2.89h-3.33zM255.4 360.9l1.67 2.89h-3.33zM259.9 368.8l1.68 2.91h-3.36zM214.6 274.7l1.68 2.91h-3.36zM268.9 368.8l1.68 2.91h-3.36zM219.2 266.9l1.68 2.91h-3.36zM278 368.8l1.68 2.91h-3.36zM223.7 259.1l1.68 2.91h-3.36zM287 368.8l1.68 2.91h-3.36zM221.4 253.8l-1.67 -2.9h3.35zM293.8 379.2l-1.67 -2.9h3.35zM232.7 259.1l1.67 2.89h-3.33zM291.5 360.9l1.67 2.89h-3.33zM230.5 247.3l1.66 2.88h-3.33zM235 255.2l1.67 2.89h-3.33zM296.1 360.9l1.67 2.89h-3.33zM300.6 368.8l1.66 2.88h-3.33zM235 239.5l1.66 2.88h-3.33zM309.6 368.8l1.66 2.88h-3.33zM235 238.1l-1.68 -2.91h3.36zM237.3 242l-1.66 -2.88h3.33zM232.7 235.5l1.68 2.91h-3.36zM311.9 371.3l-1.66 -2.88h3.33zM314.2 375.3l-1.68 -2.91h3.36zM311.9 372.7l1.68 2.91h-3.36zM246.3 242l-1.66 -2.88h3.33zM250.8 249.9l-1.67 -2.89h3.33zM311.9 355.6l-1.67 -2.89h3.33zM316.4 363.5l-1.66 -2.88h3.33zM255.4 249.9l-1.67 -2.89h3.33zM314.2 351.7l-1.67 -2.89h3.33zM253.1 231.6l1.67 2.9h-3.35zM325.5 357l1.67 2.9h-3.35zM259.9 242l-1.68 -2.91h3.36zM323.2 351.7l-1.68 -2.91h3.36zM268.9 242l-1.68 -2.91h3.36zM327.7 343.9l-1.68 -2.91h3.36zM278 242l-1.68 -2.91h3.36zM332.3 336.1l-1.68 -2.91h3.36zM287 242l-1.68 -2.91h3.36zM291.5 249.9l-1.67 -2.89h3.33zM332.3 320.4l-1.67 -2.89h3.33zM336.8 328.2l-1.68 -2.91h3.36zM296.1 249.9l-1.67 -2.89h3.33zM334.5 316.5l-1.67 -2.89h3.33zM293.8 231.6l1.67 2.9h-3.35zM345.8 321.8l1.67 2.9h-3.35zM300.6 242l-1.66 -2.88h3.33zM311.9 255.2l1.67 2.89h-3.33zM314.2 259.1l1.67 2.89h-3.33zM332.3 290.4l1.67 2.89h-3.33zM334.5 294.3l1.67 2.89h-3.33zM343.6 316.5l-1.66 -2.88h3.33zM309.6 242l-1.66 -2.88h3.33zM311.9 239.5l1.66 2.88h-3.33zM316.4 247.3l1.66 2.88h-3.33zM323.2 259.1l1.68 2.91h-3.36zM327.7 266.9l1.68 2.91h-3.36zM332.3 274.7l1.68 2.91h-3.36zM336.8 282.6l1.68 2.91h-3.36zM343.6 294.3l1.66 2.88h-3.33zM348.1 302.2l1.66 2.88h-3.33zM348.1 308.6l-1.66 -2.88h3.33zM311.9 238.1l-1.68 -2.91h3.36zM314.2 235.5l1.68 2.91h-3.36zM352.6 302.2l1.68 2.91h-3.36zM352.6 308.6l-1.68 -2.91h3.36zM325.5 253.8l-1.67 -2.9h3.35zM345.8 289l-1.67 -2.9h3.35z"/><path fill="#ffe7cf" d="M198.8 325.7l1.68 2.92h-3.37zM216.9 357l1.68 2.92h-3.37zM196.5 321.7l1.68 2.91h-3.36zM210.1 337.4l1.7 2.94h-3.39zM212.4 341.3l1.7 2.94h-3.39zM219.2 360.9l1.68 2.91h-3.36zM207.9 325.7l1.68 2.92h-3.37zM221.4 349.2l1.68 2.92h-3.37zM201.1 312.6l-1.69 -2.92h3.37zM232.7 367.4l-1.69 -2.92h3.37zM201.1 298.2l1.69 2.92h-3.37zM241.8 368.8l1.69 2.92h-3.37zM196.5 289.1l-1.68 -2.91h3.36zM221.4 332.2l-1.68 -2.91h3.37zM225.9 340l-1.68 -2.91h3.37zM250.8 383.1l-1.68 -2.91h3.36zM198.8 285.1l-1.68 -2.92h3.37zM255.4 383.1l-1.68 -2.92h3.37zM207.9 285.1l-1.68 -2.92h3.37zM259.9 375.3l-1.68 -2.92h3.37zM210.1 273.4l-1.7 -2.94h3.39zM271.2 379.2l-1.7 -2.94h3.39zM212.4 269.5l-1.7 -2.94h3.39zM221.4 278.6l1.68 2.91h-3.37zM268.9 360.9l1.68 2.91h-3.37zM275.7 379.2l-1.7 -2.94h3.39zM225.9 270.8l1.68 2.91h-3.37zM278 360.9l1.68 2.91h-3.37zM216.9 253.8l-1.68 -2.92h3.37zM221.4 261.6l-1.68 -2.92h3.37zM287 375.3l-1.68 -2.92h3.37zM291.5 383.1l-1.68 -2.92h3.37zM219.2 249.9l-1.68 -2.91h3.36zM296.1 383.1l-1.68 -2.91h3.36zM232.7 243.4l1.69 2.92h-3.37zM305.1 368.8l1.69 2.92h-3.37zM241.8 242l-1.69 -2.92h3.37zM314.2 367.4l-1.69 -2.92h3.37zM250.8 227.7l1.68 2.91h-3.36zM327.7 360.9l1.68 2.91h-3.36zM255.4 227.7l1.68 2.92h-3.37zM259.9 235.5l1.68 2.92h-3.37zM325.5 349.2l1.68 2.92h-3.37zM330 357l1.68 2.92h-3.37zM268.9 249.9l-1.68 -2.91h3.37zM321 340l-1.68 -2.91h3.37zM271.2 231.6l1.7 2.94h-3.39zM278 249.9l-1.68 -2.91h3.37zM325.5 332.2l-1.68 -2.91h3.37zM334.5 341.3l1.7 2.94h-3.39zM275.7 231.6l1.7 2.94h-3.39zM336.8 337.4l1.7 2.94h-3.39zM287 235.5l1.68 2.92h-3.37zM339 325.7l1.68 2.92h-3.37zM291.5 227.7l1.68 2.92h-3.37zM348.1 325.7l1.68 2.92h-3.37zM296.1 227.7l1.68 2.91h-3.36zM321 270.8l1.68 2.91h-3.37zM325.5 278.6l1.68 2.91h-3.37zM350.4 321.7l1.68 2.91h-3.36zM305.1 242l-1.69 -2.92h3.37zM345.8 312.6l-1.69 -2.92h3.37zM314.2 243.4l1.69 2.92h-3.37zM345.8 298.2l1.69 2.92h-3.37zM325.5 261.6l-1.68 -2.92h3.37zM339 285.1l-1.68 -2.92h3.37zM334.5 269.5l-1.7 -2.94h3.39zM336.8 273.4l-1.7 -2.94h3.39zM327.7 249.9l-1.68 -2.91h3.36zM330 253.8l-1.68 -2.92h3.37zM348.1 285.1l-1.68 -2.92h3.37zM350.4 289.1l-1.68 -2.91h3.36z"/><path fill="#ffe3c7" d="M196.5 329.5l1.71 2.96h-3.42zM212.4 357l1.71 2.96h-3.42zM196.5 320.4l-1.71 -2.96h3.42zM223.7 367.4l-1.71 -2.96h3.42zM196.5 312.6l-1.7 -2.94h3.39zM201.1 320.4l-1.7 -2.94h3.4zM225.9 363.5l-1.7 -2.94h3.4zM230.5 371.4l-1.7 -2.94h3.39zM196.5 298.2l1.7 2.94h-3.39zM239.5 372.7l1.7 2.94h-3.39zM196.5 290.4l1.71 2.96h-3.42zM201.1 290.4l1.7 2.94h-3.4zM248.6 372.7l1.7 2.94h-3.4zM246.3 376.6l1.71 2.96h-3.42zM196.5 281.3l-1.71 -2.96h3.42zM257.6 387l-1.71 -2.96h3.42zM212.4 253.8l-1.71 -2.96h3.42zM289.3 387l-1.71 -2.96h3.42zM223.7 243.4l1.71 2.96h-3.42zM225.9 247.3l1.7 2.94h-3.4zM298.3 372.7l1.7 2.94h-3.4zM300.6 376.6l1.71 2.96h-3.42zM230.5 239.4l1.7 2.94h-3.39zM307.4 372.7l1.7 2.94h-3.39zM239.5 238.1l-1.7 -2.94h3.39zM316.4 371.4l-1.7 -2.94h3.39zM246.3 234.2l-1.71 -2.96h3.42zM248.6 238.1l-1.7 -2.94h3.4zM321 363.5l-1.7 -2.94h3.4zM323.2 367.4l-1.71 -2.96h3.42zM257.6 223.8l1.71 2.96h-3.42zM334.5 357l1.71 2.96h-3.42zM289.3 223.8l1.71 2.96h-3.42zM350.4 329.5l1.71 2.96h-3.42zM298.3 238.1l-1.7 -2.94h3.4zM345.8 320.4l-1.7 -2.94h3.4zM300.6 234.2l-1.71 -2.96h3.42zM350.4 320.4l-1.71 -2.96h3.42zM307.4 238.1l-1.7 -2.94h3.39zM350.4 312.6l-1.7 -2.94h3.39zM316.4 239.4l1.7 2.94h-3.39zM321 247.3l1.7 2.94h-3.4zM345.8 290.4l1.7 2.94h-3.4zM350.4 298.2l1.7 2.94h-3.39zM323.2 243.4l1.71 2.96h-3.42zM350.4 290.4l1.71 2.96h-3.42zM334.5 253.8l-1.71 -2.96h3.42zM350.4 281.3l-1.71 -2.96h3.42z"/><path fill="#ffdfbf" d="M198.8 333.4l1.72 2.99h-3.45zM210.1 353l1.72 2.99h-3.45zM194.3 317.8l1.73 2.99h-3.45zM205.6 329.5l1.72 2.99h-3.45zM216.9 349.1l1.72 2.99h-3.45zM221.4 364.8l1.73 2.99h-3.45zM207.9 332.2l-1.72 -2.98h3.45zM212.4 340l-1.73 -2.99h3.45zM214.6 344l-1.73 -2.99h3.45zM219.2 351.8l-1.72 -2.98h3.45zM205.6 320.4l-1.72 -2.98h3.45zM228.2 359.6l-1.72 -2.98h3.45zM194.3 293l-1.73 -2.99h3.45zM246.3 383.1l-1.73 -2.99h3.45zM205.6 290.4l1.72 2.98h-3.45zM250.8 368.7l1.72 2.98h-3.45zM198.8 277.4l-1.72 -2.99h3.45zM262.1 387.1l-1.72 -2.99h3.45zM205.6 281.3l-1.72 -2.99h3.45zM207.9 278.6l1.72 2.98h-3.45zM262.1 372.6l1.72 2.98h-3.45zM262.1 379.2l-1.72 -2.99h3.45zM212.4 270.8l1.73 2.99h-3.45zM271.2 372.6l1.73 2.99h-3.45zM214.6 266.8l1.73 2.99h-3.45zM275.7 372.6l1.73 2.99h-3.45zM210.1 257.8l-1.72 -2.99h3.45zM284.8 387.1l-1.72 -2.99h3.45zM216.9 261.7l-1.72 -2.99h3.45zM219.2 259l1.72 2.98h-3.45zM284.8 372.6l1.72 2.98h-3.45zM284.8 379.2l-1.72 -2.99h3.45zM221.4 246l-1.73 -2.99h3.45zM228.2 251.2l1.72 2.98h-3.45zM296.1 368.7l1.72 2.98h-3.45zM300.6 383.1l-1.73 -2.99h3.45zM250.8 242.1l-1.72 -2.98h3.45zM318.7 359.6l-1.72 -2.98h3.45zM246.3 227.7l1.73 2.99h-3.45zM325.5 364.8l1.73 2.99h-3.45zM262.1 231.6l1.72 2.99h-3.45zM262.1 238.2l-1.72 -2.98h3.45zM327.7 351.8l-1.72 -2.98h3.45zM330 349.1l1.72 2.99h-3.45zM262.1 223.7l1.72 2.99h-3.45zM336.8 353l1.72 2.99h-3.45zM271.2 238.2l-1.73 -2.99h3.45zM332.3 344l-1.73 -2.99h3.45zM275.7 238.2l-1.73 -2.99h3.45zM334.5 340l-1.73 -2.99h3.45zM284.8 231.6l1.72 2.99h-3.45zM284.8 238.2l-1.72 -2.98h3.45zM339 332.2l-1.72 -2.98h3.45zM341.3 329.5l1.72 2.99h-3.45zM284.8 223.7l1.72 2.99h-3.45zM348.1 333.4l1.72 2.99h-3.45zM296.1 242.1l-1.72 -2.98h3.45zM341.3 320.4l-1.72 -2.98h3.45zM300.6 227.7l1.73 2.99h-3.45zM352.6 317.8l1.73 2.99h-3.45zM318.7 251.2l1.72 2.98h-3.45zM341.3 290.4l1.72 2.98h-3.45zM327.7 259l1.72 2.98h-3.45zM332.3 266.8l1.73 2.99h-3.45zM334.5 270.8l1.73 2.99h-3.45zM339 278.6l1.72 2.98h-3.45zM330 261.7l-1.72 -2.99h3.45zM341.3 281.3l-1.72 -2.99h3.45zM325.5 246l-1.73 -2.99h3.45zM352.6 293l-1.73 -2.99h3.45zM336.8 257.8l-1.72 -2.99h3.45zM348.1 277.4l-1.72 -2.99h3.45z"/><path fill="#ffdbb7" d="M207.9 324.4l-1.73 -3h3.46zM225.9 355.7l-1.73 -3h3.46zM207.9 286.4l1.73 3h-3.46zM255.4 368.7l1.73 3h-3.46zM225.9 255.1l1.73 3h-3.46zM291.5 368.7l1.73 3h-3.46zM255.4 242.1l-1.73 -3h3.46zM321 355.7l-1.73 -3h3.46zM291.5 242.1l-1.73 -3h3.46zM339 324.4l-1.73 -3h3.46zM321 255.1l1.73 3h-3.46zM339 286.4l1.73 3h-3.46z"/><path fill="#ffd7af" d="M194.3 325.6l1.74 3.02h-3.49zM207.9 341.3l1.74 3.01h-3.48zM214.6 360.8l1.74 3.02h-3.49zM198.8 316.6l-1.74 -3.02h3.49zM194.3 316.6l-1.74 -3.02h3.48zM205.6 328.3l-1.75 -3.02h3.49zM221.4 355.7l-1.75 -3.02h3.49zM228.2 367.5l-1.74 -3.02h3.49zM225.9 371.4l-1.74 -3.02h3.48zM198.8 294.2l1.74 3.02h-3.49zM194.3 294.2l1.74 3.02h-3.48zM244 372.6l1.74 3.02h-3.49zM241.8 376.5l1.74 3.02h-3.48zM194.3 285.2l-1.74 -3.02h3.49zM253.1 387.1l-1.74 -3.02h3.49zM205.6 282.5l1.75 3.02h-3.49zM257.6 372.6l1.75 3.02h-3.49zM207.9 269.5l-1.74 -3.01h3.48zM273.4 383.2l-1.74 -3.01h3.48zM214.6 250l-1.74 -3.02h3.49zM221.4 255.1l1.75 3.02h-3.49zM289.3 372.6l1.75 3.02h-3.49zM293.8 387.1l-1.74 -3.02h3.49zM228.2 243.3l1.74 3.02h-3.49zM302.9 372.6l1.74 3.02h-3.49zM225.9 239.4l1.74 3.02h-3.48zM305.1 376.5l1.74 3.02h-3.48zM241.8 234.3l-1.74 -3.02h3.48zM244 238.2l-1.74 -3.02h3.49zM318.7 367.5l-1.74 -3.02h3.49zM321 371.4l-1.74 -3.02h3.48zM257.6 238.2l-1.75 -3.02h3.49zM325.5 355.7l-1.75 -3.02h3.49zM253.1 223.7l1.74 3.02h-3.49zM332.3 360.8l1.74 3.02h-3.49zM273.4 227.6l1.74 3.01h-3.48zM339 341.3l1.74 3.01h-3.48zM289.3 238.2l-1.75 -3.02h3.49zM341.3 328.3l-1.75 -3.02h3.49zM293.8 223.7l1.74 3.02h-3.49zM352.6 325.6l1.74 3.02h-3.49zM302.9 238.2l-1.74 -3.02h3.49zM348.1 316.6l-1.74 -3.02h3.49zM305.1 234.3l-1.74 -3.02h3.48zM352.6 316.6l-1.74 -3.02h3.48zM318.7 243.3l1.74 3.02h-3.49zM325.5 255.1l1.75 3.02h-3.49zM341.3 282.5l1.75 3.02h-3.49zM348.1 294.2l1.74 3.02h-3.49zM321 239.4l1.74 3.02h-3.48zM352.6 294.2l1.74 3.02h-3.48zM339 269.5l-1.74 -3.01h3.48zM332.3 250l-1.74 -3.02h3.49zM352.6 285.2l-1.74 -3.02h3.49z"/><path fill="#ffd3a7" d="M198.8 332.2l-1.76 -3.05h3.52zM214.6 359.7l-1.76 -3.05h3.52zM212.4 332.2l-1.75 -3.04h3.51zM221.4 347.9l-1.75 -3.04h3.51zM198.8 278.6l1.76 3.05h-3.52zM257.6 380.4l1.76 3.05h-3.52zM212.4 278.6l1.75 3.04h-3.51zM264.4 368.7l1.75 3.04h-3.51zM214.6 251.1l1.76 3.05h-3.52zM221.4 262.9l1.75 3.04h-3.51zM282.5 368.7l1.75 3.04h-3.51zM289.3 380.4l1.76 3.05h-3.52zM257.6 230.4l-1.76 -3.05h3.52zM264.4 242.1l-1.75 -3.04h3.51zM325.5 347.9l-1.75 -3.04h3.51zM332.3 359.7l-1.76 -3.05h3.52zM282.5 242.1l-1.75 -3.04h3.51zM334.5 332.2l-1.75 -3.04h3.51zM289.3 230.4l-1.76 -3.05h3.52zM348.1 332.2l-1.76 -3.05h3.52zM325.5 262.9l1.75 3.04h-3.51zM334.5 278.6l1.75 3.04h-3.51zM332.3 251.1l1.76 3.05h-3.52zM348.1 278.6l1.76 3.05h-3.52z"/><path fill="#ffcb97" d="M205.6 337.3l1.78 3.09h-3.57zM210.1 345.1l1.78 3.09h-3.57zM203.3 324.4l-1.78 -3.08h3.55zM223.7 359.7l-1.78 -3.08h3.55zM216.9 340.1l-1.78 -3.09h3.56zM203.3 286.4l1.78 3.08h-3.55zM253.1 372.6l1.78 3.08h-3.55zM205.6 273.5l-1.78 -3.09h3.57zM268.9 383.2l-1.78 -3.09h3.57zM210.1 265.7l-1.78 -3.09h3.57zM216.9 270.7l1.78 3.09h-3.56zM273.4 368.6l1.78 3.09h-3.56zM278 383.2l-1.78 -3.09h3.57zM223.7 251.1l1.78 3.08h-3.55zM293.8 372.6l1.78 3.08h-3.55zM253.1 238.2l-1.78 -3.08h3.55zM323.2 359.7l-1.78 -3.08h3.55zM268.9 227.6l1.78 3.09h-3.57zM273.4 242.2l-1.78 -3.09h3.56zM330 340.1l-1.78 -3.09h3.56zM336.8 345.1l1.78 3.09h-3.57zM278 227.6l1.78 3.09h-3.57zM341.3 337.3l1.78 3.09h-3.57zM293.8 238.2l-1.78 -3.08h3.55zM343.6 324.4l-1.78 -3.08h3.55zM330 270.7l1.78 3.09h-3.56zM323.2 251.1l1.78 3.08h-3.55zM343.6 286.4l1.78 3.08h-3.55zM336.8 265.7l-1.78 -3.09h3.57zM341.3 273.5l-1.78 -3.09h3.57z"/><path fill="#ffc387" d="M198.8 341.2l1.8 3.12h-3.61zM203.3 349l1.8 3.12h-3.61zM201.1 336.2l-1.81 -3.13h3.61zM203.3 333.4l1.8 3.12h-3.6zM212.4 349l1.8 3.12h-3.6zM212.4 355.8l-1.81 -3.13h3.61zM201.1 274.6l1.81 3.13h-3.61zM262.1 380.4l1.81 3.13h-3.61zM198.8 269.6l-1.8 -3.12h3.61zM203.3 277.4l-1.8 -3.12h3.6zM264.4 383.2l-1.8 -3.12h3.6zM268.9 391.1l-1.8 -3.12h3.61zM203.3 261.8l-1.8 -3.12h3.61zM278 391.1l-1.8 -3.12h3.61zM212.4 255l1.81 3.13h-3.61zM212.4 261.8l-1.8 -3.12h3.6zM282.5 383.2l-1.8 -3.12h3.6zM284.8 380.4l1.81 3.13h-3.61zM262.1 230.4l-1.81 -3.13h3.61zM264.4 227.6l1.8 3.12h-3.6zM334.5 349l1.8 3.12h-3.6zM334.5 355.8l-1.81 -3.13h3.61zM268.9 219.7l1.8 3.12h-3.61zM343.6 349l1.8 3.12h-3.61zM278 219.7l1.8 3.12h-3.61zM282.5 227.6l1.8 3.12h-3.6zM343.6 333.4l1.8 3.12h-3.6zM348.1 341.2l1.8 3.12h-3.61zM284.8 230.4l-1.81 -3.13h3.61zM345.8 336.2l-1.81 -3.13h3.61zM334.5 255l1.81 3.13h-3.61zM334.5 261.8l-1.8 -3.12h3.6zM343.6 277.4l-1.8 -3.12h3.6zM345.8 274.6l1.81 3.13h-3.61zM343.6 261.8l-1.8 -3.12h3.61zM348.1 269.6l-1.8 -3.12h3.61z"/><path fill="#ffbf80" d="M198.8 324.5l-1.82 -3.14h3.63zM194.3 324.5l-1.81 -3.14h3.63zM205.6 336.2l-1.81 -3.13h3.62zM214.6 351.9l-1.81 -3.13h3.62zM221.4 363.7l-1.82 -3.14h3.63zM219.2 367.6l-1.81 -3.14h3.63zM198.8 286.3l1.82 3.14h-3.63zM194.3 286.3l1.81 3.14h-3.63zM250.8 376.4l1.82 3.14h-3.63zM248.6 380.4l1.81 3.14h-3.63zM205.6 274.6l1.81 3.13h-3.62zM264.4 376.4l1.81 3.13h-3.62zM214.6 258.9l1.81 3.13h-3.62zM282.5 376.4l1.81 3.13h-3.62zM221.4 247.1l1.82 3.14h-3.63zM296.1 376.4l1.82 3.14h-3.63zM219.2 243.2l1.81 3.14h-3.63zM298.3 380.4l1.81 3.14h-3.63zM248.6 230.4l-1.81 -3.14h3.63zM250.8 234.4l-1.82 -3.14h3.63zM325.5 363.7l-1.82 -3.14h3.63zM327.7 367.6l-1.81 -3.14h3.63zM264.4 234.4l-1.81 -3.13h3.62zM332.3 351.9l-1.81 -3.13h3.62zM282.5 234.4l-1.81 -3.13h3.62zM341.3 336.2l-1.81 -3.13h3.62zM296.1 234.4l-1.82 -3.14h3.63zM348.1 324.5l-1.82 -3.14h3.63zM298.3 230.4l-1.81 -3.14h3.63zM352.6 324.5l-1.81 -3.14h3.63zM325.5 247.1l1.82 3.14h-3.63zM332.3 258.9l1.81 3.13h-3.62zM341.3 274.6l1.81 3.13h-3.62zM348.1 286.3l1.82 3.14h-3.63zM327.7 243.2l1.81 3.14h-3.63zM352.6 286.3l1.81 3.14h-3.63z"/><path fill="#ffbb78" d="M194.3 333.3l1.83 3.16h-3.65zM207.9 356.8l1.83 3.16h-3.65zM203.3 340.2l-1.82 -3.16h3.65zM210.1 351.9l-1.82 -3.16h3.65zM194.3 277.5l-1.83 -3.16h3.65zM259.9 391.1l-1.83 -3.16h3.65zM203.3 270.6l1.82 3.16h-3.65zM266.7 380.3l1.82 3.16h-3.65zM210.1 258.9l1.82 3.16h-3.65zM280.2 380.3l1.82 3.16h-3.65zM207.9 254l-1.83 -3.16h3.65zM287 391.1l-1.83 -3.16h3.65zM259.9 219.7l1.83 3.16h-3.65zM266.7 230.5l-1.82 -3.16h3.65zM336.8 351.9l-1.82 -3.16h3.65zM339 356.8l1.83 3.16h-3.65zM280.2 230.5l-1.82 -3.16h3.65zM343.6 340.2l-1.82 -3.16h3.65zM287 219.7l1.83 3.16h-3.65zM352.6 333.3l1.83 3.16h-3.65zM336.8 258.9l1.82 3.16h-3.65zM343.6 270.6l1.82 3.16h-3.65zM339 254l-1.83 -3.16h3.65zM352.6 277.5l-1.83 -3.16h3.65z"/><path fill="#ffb770" d="M203.3 332.3l-1.83 -3.17h3.66zM216.9 355.8l-1.83 -3.17h3.66zM203.3 278.5l1.83 3.17h-3.66zM259.9 376.4l1.83 3.17h-3.66zM216.9 255l1.83 3.17h-3.66zM287 376.4l1.83 3.17h-3.66zM259.9 234.4l-1.83 -3.17h3.66zM330 355.8l-1.83 -3.17h3.66zM287 234.4l-1.83 -3.17h3.66zM343.6 332.3l-1.83 -3.17h3.66zM330 255l1.83 3.17h-3.66zM343.6 278.5l1.83 3.17h-3.66z"/><path fill="#ffaf60" d="M210.1 336.3l-1.85 -3.2h3.69zM216.9 348l-1.85 -3.2h3.69zM210.1 274.5l1.85 3.2h-3.69zM266.7 372.5l1.85 3.2h-3.69zM216.9 262.8l1.85 3.2h-3.69zM280.2 372.5l1.85 3.2h-3.69zM266.7 238.3l-1.85 -3.2h3.69zM330 348l-1.85 -3.2h3.69zM280.2 238.3l-1.85 -3.2h3.69zM336.8 336.3l-1.85 -3.2h3.69zM330 262.8l1.85 3.2h-3.69zM336.8 274.5l1.85 3.2h-3.69z"/><path fill="#ffab58" d="M196.5 328.4l-1.86 -3.22h3.72zM216.9 363.7l-1.86 -3.22h3.72zM201.1 328.4l-1.86 -3.22h3.72zM219.2 359.8l-1.86 -3.22h3.72zM196.5 282.4l1.86 3.22h-3.72zM201.1 282.4l1.86 3.22h-3.72zM255.4 376.4l1.86 3.22h-3.72zM253.1 380.3l1.86 3.22h-3.72zM216.9 247.1l1.86 3.22h-3.72zM219.2 251l1.86 3.22h-3.72zM291.5 376.4l1.86 3.22h-3.72zM293.8 380.3l1.86 3.22h-3.72zM253.1 230.5l-1.86 -3.22h3.72zM255.4 234.4l-1.86 -3.22h3.72zM327.7 359.8l-1.86 -3.22h3.72zM330 363.7l-1.86 -3.22h3.72zM291.5 234.4l-1.86 -3.22h3.72zM345.8 328.4l-1.86 -3.22h3.72zM293.8 230.5l-1.86 -3.22h3.72zM350.4 328.4l-1.86 -3.22h3.72zM327.7 251l1.86 3.22h-3.72zM345.8 282.4l1.86 3.22h-3.72zM330 247.1l1.86 3.22h-3.72zM350.4 282.4l1.86 3.22h-3.72z"/><path fill="#ffa750" d="M196.5 337.2l1.87 3.23h-3.73zM205.6 352.9l1.87 3.23h-3.73zM196.5 273.6l-1.87 -3.23h3.73zM264.4 391.1l-1.87 -3.23h3.73zM205.6 257.9l-1.87 -3.23h3.73zM282.5 391.1l-1.87 -3.23h3.73zM264.4 219.7l1.87 3.23h-3.73zM341.3 352.9l1.87 3.23h-3.73zM282.5 219.7l1.87 3.23h-3.73zM350.4 337.2l1.87 3.23h-3.73zM341.3 257.9l-1.87 -3.23h3.73zM350.4 273.6l-1.87 -3.23h3.73z"/><path fill="#ff9f40" d="M201.1 345l1.88 3.26h-3.76zM201.1 337.2l1.89 3.27h-3.78zM207.9 348.9l1.89 3.27h-3.78zM201.1 273.6l-1.89 -3.27h3.78zM266.7 387.2l-1.89 -3.27h3.78zM201.1 265.8l-1.88 -3.26h3.76zM273.4 391.2l-1.88 -3.26h3.76zM207.9 261.9l-1.89 -3.27h3.78zM280.2 387.2l-1.89 -3.27h3.78zM266.7 223.6l1.89 3.27h-3.78zM339 348.9l1.89 3.27h-3.78zM273.4 219.6l1.88 3.26h-3.76zM345.8 345l1.88 3.26h-3.76zM280.2 223.6l1.89 3.27h-3.78zM345.8 337.2l1.89 3.27h-3.78zM339 261.9l-1.89 -3.27h3.78zM345.8 273.6l-1.89 -3.27h3.78zM345.8 265.8l-1.88 -3.26h3.76z"/><path fill="#ff9b38" d="M210.1 344.2l-1.89 -3.28h3.78zM210.1 266.6l1.89 3.28h-3.78zM273.4 376.4l1.89 3.28h-3.78zM273.4 234.4l-1.89 -3.28h3.78zM336.8 344.2l-1.89 -3.28h3.78zM336.8 266.6l1.89 3.28h-3.78z"/><path fill="#ff8f20" d="M194.3 341.1l1.92 3.33h-3.84zM201.1 352.8l1.92 3.33h-3.84zM194.3 269.7l-1.92 -3.33h3.84zM266.7 395.1l-1.92 -3.33h3.84zM201.1 258l-1.92 -3.33h3.84zM280.2 395.1l-1.92 -3.33h3.84zM266.7 215.7l1.92 3.33h-3.84zM345.8 352.8l1.92 3.33h-3.84zM280.2 215.7l1.92 3.33h-3.84zM352.6 341.1l1.92 3.33h-3.84zM345.8 258l-1.92 -3.33h3.84zM352.6 269.7l-1.92 -3.33h3.84z"/><path fill="#ff8710" d="M203.3 341l1.93 3.35h-3.87zM205.6 345l1.93 3.35h-3.87zM203.3 269.8l-1.93 -3.35h3.87zM271.2 387.3l-1.93 -3.35h3.87zM205.6 265.8l-1.93 -3.35h3.87zM275.7 387.3l-1.93 -3.35h3.87zM271.2 223.5l1.93 3.35h-3.87zM341.3 345l1.93 3.35h-3.87zM275.7 223.5l1.93 3.35h-3.87zM343.6 341l1.93 3.35h-3.87zM341.3 265.8l-1.93 -3.35h3.87zM343.6 269.8l-1.93 -3.35h3.87z"/><path fill="#ff8308" d="M207.9 340.3l-1.94 -3.36h3.88zM212.4 348.1l-1.94 -3.36h3.88zM207.9 270.5l1.94 3.36h-3.88zM268.9 376.3l1.94 3.36h-3.88zM212.4 262.7l1.94 3.36h-3.88zM278 376.3l1.94 3.36h-3.88zM268.9 234.5l-1.94 -3.36h3.88zM334.5 348.1l-1.94 -3.36h3.88zM278 234.5l-1.94 -3.36h3.88zM339 340.3l-1.94 -3.36h3.88zM334.5 262.7l1.94 3.36h-3.88zM339 270.5l1.94 3.36h-3.88z"/><path fill="#f24400" d="M194.3 332.6l-2.04 -3.54h4.08zM212.4 363.9l-2.04 -3.54h4.08zM194.3 278.2l2.04 3.54h-4.08zM255.4 384l2.04 3.54h-4.08zM212.4 246.9l2.04 3.54h-4.08zM291.5 384l2.04 3.54h-4.08zM255.4 226.8l-2.04 -3.54h4.08zM334.5 363.9l-2.04 -3.54h4.08zM291.5 226.8l-2.04 -3.54h4.08zM352.6 332.6l-2.04 -3.54h4.08zM334.5 246.9l2.04 3.54h-4.08zM352.6 278.2l2.04 3.54h-4.08z"/><path fill="#bf0000" d="M205.6 344.4l-2.14 -3.7h4.27zM207.9 348.4l-2.14 -3.7h4.27zM205.6 266.4l2.14 3.7h-4.27zM271.2 380l2.14 3.7h-4.27zM207.9 262.4l2.14 3.7h-4.27zM275.7 380l2.14 3.7h-4.27zM271.2 230.8l-2.14 -3.7h4.27zM339 348.4l-2.14 -3.7h4.27zM275.7 230.8l-2.14 -3.7h4.27zM341.3 344.4l-2.14 -3.7h4.27zM339 262.4l2.14 3.7h-4.27zM341.3 266.4l2.14 3.7h-4.27z"/><path fill="#ad0000" d="M196.5 336.6l-2.16 -3.75h4.33zM210.1 360.1l-2.16 -3.75h4.33zM196.5 274.2l2.16 3.75h-4.33zM259.9 383.9l2.16 3.75h-4.33zM210.1 250.7l2.16 3.75h-4.33zM287 383.9l2.16 3.75h-4.33zM259.9 226.9l-2.16 -3.75h4.33zM336.8 360.1l-2.16 -3.75h4.33zM287 226.9l-2.16 -3.75h4.33zM350.4 336.6l-2.16 -3.75h4.33zM336.8 250.7l2.16 3.75h-4.33zM350.4 274.2l2.16 3.75h-4.33z"/><path fill="#570000" d="M198.8 340.7l-2.29 -3.97h4.58zM207.9 356.4l-2.29 -3.97h4.58zM198.8 270.1l2.29 3.97h-4.58zM264.4 383.7l2.29 3.97h-4.58zM207.9 254.4l2.29 3.97h-4.58zM282.5 383.7l2.29 3.97h-4.58zM264.4 227.1l-2.29 -3.97h4.58zM339 356.4l-2.29 -3.97h4.58zM282.5 227.1l-2.29 -3.97h4.58zM348.1 340.7l-2.29 -3.97h4.58zM339 254.4l2.29 3.97h-4.58zM348.1 270.1l2.29 3.97h-4.58z"/><path fill="#4e0000" d="M201.1 344.6l-2.3 -3.99h4.6zM205.6 352.5l-2.3 -3.99h4.6zM201.1 266.2l2.3 3.99h-4.6zM268.9 383.7l2.3 3.99h-4.6zM205.6 258.3l2.3 3.99h-4.6zM278 383.7l2.3 3.99h-4.6zM268.9 227.1l-2.3 -3.99h4.6zM341.3 352.5l-2.3 -3.99h4.6zM278 227.1l-2.3 -3.99h4.6zM345.8 344.6l-2.3 -3.99h4.6zM341.3 258.3l2.3 3.99h-4.6zM345.8 266.2l2.3 3.99h-4.6z"/><path fill="#360000" d="M194.3 340.7l-2.33 -4.04h4.66zM205.6 360.3l-2.33 -4.04h4.66zM194.3 270.1l2.33 4.04h-4.66zM262.1 387.6l2.33 4.04h-4.66zM205.6 250.5l2.33 4.04h-4.66zM284.8 387.6l2.33 4.04h-4.66zM262.1 223.2l-2.33 -4.04h4.66zM341.3 360.3l-2.33 -4.04h4.66zM284.8 223.2l-2.33 -4.04h4.66zM352.6 340.7l-2.33 -4.04h4.66zM341.3 250.5l2.33 4.04h-4.66zM352.6 270.1l2.33 4.04h-4.66z"/><path fill="#000000" d="M196.5 344.7l-2.4 -4.15h4.8zM198.8 348.7l-2.4 -4.15h4.8zM196.5 344.4l2.4 4.15h-4.8zM194.3 348.7l-2.4 -4.15h4.8zM201.1 352.6l-2.4 -4.15h4.8zM198.8 348.3l2.4 4.15h-4.8zM196.5 352.6l-2.4 -4.15h4.8zM203.3 356.5l-2.4 -4.15h4.8zM198.8 356.5l-2.4 -4.15h4.8zM203.3 348.7l-2.4 -4.15h4.8zM196.5 266.4l-2.4 -4.15h4.8zM198.8 262.1l2.4 4.15h-4.8zM196.5 266.1l2.4 4.15h-4.8zM194.3 262.1l2.4 4.15h-4.8zM266.7 387.5l2.4 4.15h-4.8zM271.2 387.5l2.4 4.15h-4.8zM271.2 395.7l-2.4 -4.15h4.8zM268.9 391.4l2.4 4.15h-4.8zM198.8 262.5l-2.4 -4.15h4.8zM201.1 258.2l2.4 4.15h-4.8zM196.5 258.2l2.4 4.15h-4.8zM203.3 262.1l2.4 4.15h-4.8zM273.4 383.6l2.4 4.15h-4.8zM275.7 387.5l2.4 4.15h-4.8zM275.7 395.7l-2.4 -4.15h4.8zM273.4 391.4l2.4 4.15h-4.8zM203.3 254.3l2.4 4.15h-4.8zM198.8 254.3l2.4 4.15h-4.8zM280.2 387.5l2.4 4.15h-4.8zM278 391.4l2.4 4.15h-4.8zM266.7 223.3l-2.4 -4.15h4.8zM343.6 356.5l-2.4 -4.15h4.8zM268.9 219.4l-2.4 -4.15h4.8zM271.2 215.1l2.4 4.15h-4.8zM271.2 223.3l-2.4 -4.15h4.8zM273.4 227.2l-2.4 -4.15h4.8zM343.6 348.7l-2.4 -4.15h4.8zM345.8 352.6l-2.4 -4.15h4.8zM348.1 348.3l2.4 4.15h-4.8zM348.1 356.5l-2.4 -4.15h4.8zM273.4 219.4l-2.4 -4.15h4.8zM275.7 215.1l2.4 4.15h-4.8zM275.7 223.3l-2.4 -4.15h4.8zM348.1 348.7l-2.4 -4.15h4.8zM350.4 344.4l2.4 4.15h-4.8zM350.4 352.6l-2.4 -4.15h4.8zM278 219.4l-2.4 -4.15h4.8zM280.2 223.3l-2.4 -4.15h4.8zM350.4 344.7l-2.4 -4.15h4.8zM352.6 348.7l-2.4 -4.15h4.8zM343.6 262.1l2.4 4.15h-4.8zM343.6 254.3l2.4 4.15h-4.8zM345.8 258.2l2.4 4.15h-4.8zM348.1 262.1l2.4 4.15h-4.8zM350.4 266.1l2.4 4.15h-4.8zM348.1 254.3l2.4 4.15h-4.8zM348.1 262.5l-2.4 -4.15h4.8zM350.4 258.2l2.4 4.15h-4.8zM350.4 266.4l-2.4 -4.15h4.8zM352.6 262.1l2.4 4.15h-4.8z"/></g>
<g stroke="none"><path fill="#fffbf7" d="M217.2 517.6l1.97 3.41h-3.93zM221.9 525.8l1.97 3.41h-3.93zM210.1 497.2l1.96 3.4h-3.92zM217.2 509.5l1.95 3.37h-3.9zM221.9 517.6l1.96 3.39h-3.92zM224.3 521.7l1.96 3.39h-3.92zM229 529.9l1.95 3.37h-3.9zM236.1 542.2l1.96 3.4h-3.92zM210.1 496.2l-1.96 -3.4h3.92zM214.8 504.4l-1.97 -3.41h3.94zM219.6 505.4l1.95 3.38h-3.9zM224.3 513.6l1.96 3.39h-3.91zM229 521.7l1.96 3.39h-3.91zM233.8 529.9l1.95 3.38h-3.9zM236.1 541.3l-1.97 -3.41h3.94zM240.8 549.5l-1.96 -3.4h3.92zM214.8 489l1.97 3.41h-3.94zM219.6 497.2l1.96 3.39h-3.92zM221.9 501.3l1.96 3.4h-3.92zM224.3 505.4l1.97 3.4h-3.93zM224.3 512.6l-1.96 -3.39h3.92zM226.7 509.4l1.97 3.41h-3.94zM229 513.6l1.95 3.38h-3.9zM229 520.8l-1.96 -3.4h3.93zM231.4 517.7l1.95 3.38h-3.9zM233.8 521.7l1.97 3.41h-3.94zM233.8 529l-1.96 -3.39h3.92zM236.1 525.8l1.97 3.4h-3.93zM238.5 529.9l1.96 3.4h-3.92zM240.8 534l1.96 3.39h-3.92zM245.6 542.2l1.97 3.41h-3.94zM219.6 496.2l-1.96 -3.39h3.92zM221.9 493.1l1.96 3.39h-3.92zM221.9 500.3l-1.96 -3.39h3.92zM224.3 497.2l1.95 3.38h-3.9zM224.3 504.4l-1.97 -3.41h3.93zM226.7 508.5l-1.95 -3.38h3.9zM238.5 529l-1.95 -3.38h3.9zM240.8 533.1l-1.97 -3.41h3.93zM243.2 529.9l1.95 3.38h-3.9zM243.2 537.2l-1.96 -3.39h3.92zM245.6 534l1.96 3.39h-3.92zM245.6 541.3l-1.96 -3.39h3.92zM217.2 483.9l-1.95 -3.37h3.9zM219.6 488l-1.95 -3.38h3.9zM221.9 492.1l-1.96 -3.4h3.92zM224.3 489l1.97 3.41h-3.93zM224.3 496.2l-1.95 -3.38h3.9zM226.7 493.1l1.96 3.4h-3.92zM226.7 500.3l-1.96 -3.4h3.92zM229 504.4l-1.96 -3.39h3.91zM231.4 508.5l-1.96 -3.39h3.92zM233.8 505.4l1.95 3.38h-3.91zM233.8 512.6l-1.97 -3.42h3.94zM236.1 509.5l1.94 3.36h-3.88zM236.1 516.7l-1.96 -3.4h3.93zM238.5 513.6l1.94 3.36h-3.88zM238.5 520.8l-1.97 -3.42h3.94zM240.8 517.7l1.95 3.38h-3.91zM240.8 524.9l-1.96 -3.39h3.92zM243.2 529l-1.96 -3.39h3.91zM245.6 533.1l-1.96 -3.4h3.92zM247.9 529.9l1.96 3.4h-3.92zM247.9 537.2l-1.95 -3.38h3.9zM250.3 534l1.97 3.41h-3.93zM250.3 541.3l-1.96 -3.4h3.92zM252.7 545.4l-1.95 -3.38h3.9zM255 549.5l-1.95 -3.37h3.9zM217.2 475.8l-1.97 -3.41h3.93zM224.3 480.8l1.96 3.39h-3.92zM224.3 488l-1.97 -3.4h3.93zM226.7 484.9l1.95 3.38h-3.9zM229 489l1.96 3.39h-3.91zM231.4 493.1l1.96 3.39h-3.92zM231.4 500.3l-1.96 -3.39h3.92zM233.8 497.2l1.94 3.36h-3.88zM233.8 504.4l-1.96 -3.4h3.92zM236.1 501.3l1.94 3.36h-3.89zM238.5 505.4l1.94 3.37h-3.89zM238.5 512.6l-1.95 -3.38h3.9zM240.8 509.5l1.95 3.37h-3.89zM240.8 516.7l-1.95 -3.38h3.9zM243.2 513.6l1.94 3.37h-3.89zM245.6 517.7l1.94 3.36h-3.89zM245.6 524.9l-1.96 -3.4h3.92zM247.9 521.8l1.94 3.36h-3.88zM247.9 529l-1.96 -3.39h3.92zM250.3 525.8l1.96 3.39h-3.92zM252.7 529.9l1.96 3.39h-3.91zM255 534l1.95 3.38h-3.9zM255 541.3l-1.97 -3.4h3.93zM257.4 538.1l1.96 3.39h-3.92zM262.1 553.6l-1.97 -3.41h3.93zM221.9 475.8l-1.96 -3.39h3.92zM224.3 479.8l-1.96 -3.39h3.91zM226.7 484l-1.97 -3.41h3.94zM231.4 484.9l1.96 3.39h-3.92zM233.8 489l1.96 3.4h-3.92zM233.8 496.2l-1.94 -3.36h3.88zM236.1 493.1l1.95 3.38h-3.9zM236.1 500.3l-1.95 -3.38h3.9zM238.5 504.4l-1.95 -3.38h3.91zM243.2 505.4l1.94 3.37h-3.89zM243.2 512.6l-1.95 -3.37h3.9zM245.6 509.5l1.94 3.37h-3.89zM247.9 520.8l-1.95 -3.38h3.91zM250.3 524.9l-1.95 -3.38h3.9zM252.7 521.7l1.95 3.38h-3.9zM252.7 529l-1.94 -3.36h3.88zM255 525.8l1.96 3.4h-3.92zM257.4 529.9l1.96 3.39h-3.92zM259.8 541.3l-1.97 -3.41h3.94zM262.1 545.4l-1.96 -3.39h3.91zM264.5 549.5l-1.96 -3.39h3.92zM221.9 467.6l-1.97 -3.41h3.93zM224.3 471.7l-1.96 -3.39h3.92zM229 472.6l1.96 3.4h-3.93zM229 479.8l-1.95 -3.38h3.9zM233.8 480.8l1.97 3.42h-3.94zM233.8 488l-1.95 -3.38h3.91zM236.1 492.1l-1.94 -3.36h3.89zM238.5 489l1.95 3.38h-3.91zM243.2 504.4l-1.95 -3.38h3.9zM245.6 508.5l-1.95 -3.37h3.89zM247.9 512.6l-1.95 -3.37h3.89zM250.3 516.7l-1.95 -3.38h3.9zM257.4 521.7l1.95 3.38h-3.91zM257.4 529l-1.94 -3.36h3.89zM259.8 533.1l-1.95 -3.38h3.91zM262.1 529.9l1.97 3.42h-3.94zM264.5 541.3l-1.95 -3.38h3.9zM266.9 538.1l1.96 3.4h-3.93zM269.2 549.5l-1.96 -3.39h3.92zM271.6 553.6l-1.97 -3.41h3.93zM229 471.7l-1.96 -3.39h3.91zM231.4 475.7l-1.95 -3.38h3.9zM236.1 476.7l1.96 3.4h-3.93zM236.1 483.9l-1.94 -3.36h3.88zM238.5 480.8l1.95 3.38h-3.9zM238.5 488l-1.94 -3.37h3.89zM243.2 489l1.95 3.38h-3.9zM245.6 493.1l1.94 3.36h-3.88zM245.6 500.3l-1.94 -3.36h3.88zM250.3 508.5l-1.94 -3.37h3.89zM255 516.7l-1.94 -3.36h3.88zM257.4 513.6l1.94 3.36h-3.88zM259.8 517.7l1.95 3.38h-3.9zM262.1 529l-1.94 -3.37h3.89zM264.5 525.8l1.95 3.38h-3.9zM264.5 533.1l-1.94 -3.36h3.88zM266.9 529.9l1.96 3.4h-3.93zM269.2 541.3l-1.95 -3.38h3.9zM271.6 545.4l-1.96 -3.39h3.91zM229 463.5l-1.95 -3.37h3.9zM233.8 464.4l1.96 3.39h-3.92zM233.8 471.7l-1.97 -3.41h3.94zM238.5 472.6l1.97 3.42h-3.94zM238.5 479.8l-1.94 -3.36h3.88zM240.8 476.7l1.95 3.38h-3.9zM240.8 483.9l-1.95 -3.37h3.89zM243.2 480.8l1.95 3.37h-3.9zM243.2 488l-1.94 -3.37h3.89zM245.6 484.9l1.95 3.37h-3.89zM250.3 493.1l1.94 3.36h-3.88zM250.3 500.3l-1.94 -3.36h3.88zM257.4 512.6l-1.94 -3.36h3.88zM259.8 509.5l1.94 3.36h-3.88zM264.5 517.7l1.95 3.37h-3.89zM264.5 524.9l-1.94 -3.37h3.89zM266.9 521.8l1.95 3.37h-3.9zM266.9 529l-1.95 -3.37h3.89zM269.2 525.8l1.95 3.38h-3.9zM269.2 533.1l-1.94 -3.36h3.88zM271.6 529.9l1.97 3.42h-3.94zM273.9 541.3l-1.97 -3.41h3.94zM276.3 538.1l1.96 3.39h-3.92zM278.7 549.5l-1.95 -3.37h3.9zM233.8 463.5l-1.95 -3.38h3.9zM236.1 467.6l-1.97 -3.4h3.93zM238.5 464.4l1.95 3.38h-3.9zM240.8 468.5l1.96 3.39h-3.92zM240.8 475.7l-1.95 -3.38h3.91zM243.2 479.8l-1.94 -3.37h3.89zM245.6 483.9l-1.94 -3.37h3.89zM247.9 480.8l1.95 3.37h-3.89zM250.3 484.9l1.94 3.37h-3.89zM266.9 513.6l1.94 3.37h-3.89zM269.2 517.7l1.95 3.37h-3.89zM269.2 524.9l-1.94 -3.37h3.89zM271.6 529l-1.94 -3.37h3.89zM273.9 533.1l-1.95 -3.38h3.91zM276.3 529.9l1.96 3.39h-3.92zM278.7 534l1.95 3.38h-3.9zM278.7 541.3l-1.97 -3.4h3.93zM281 545.4l-1.95 -3.38h3.9zM236.1 452.1l1.97 3.41h-3.94zM238.5 463.5l-1.96 -3.4h3.92zM240.8 460.3l1.97 3.41h-3.93zM243.2 464.4l1.96 3.39h-3.91zM245.6 468.5l1.96 3.4h-3.92zM245.6 475.7l-1.94 -3.36h3.89zM247.9 472.6l1.95 3.38h-3.91zM250.3 476.7l1.95 3.38h-3.9zM273.9 517.7l1.95 3.38h-3.9zM276.3 521.7l1.95 3.38h-3.91zM276.3 529l-1.94 -3.36h3.89zM278.7 525.8l1.96 3.4h-3.92zM281 529.9l1.96 3.39h-3.91zM283.4 534l1.97 3.41h-3.93zM283.4 541.3l-1.96 -3.4h3.92zM288.1 542.2l1.97 3.41h-3.94zM236.1 451.2l-1.96 -3.4h3.92zM240.8 459.4l-1.96 -3.39h3.92zM243.2 456.2l1.96 3.39h-3.92zM243.2 463.5l-1.95 -3.38h3.9zM245.6 460.3l1.96 3.4h-3.92zM247.9 464.4l1.96 3.39h-3.92zM247.9 471.6l-1.94 -3.36h3.88zM250.3 468.5l1.95 3.38h-3.9zM255 476.7l1.94 3.36h-3.88zM257.4 480.8l1.94 3.36h-3.88zM273.9 509.5l1.94 3.36h-3.88zM276.3 513.6l1.94 3.36h-3.88zM281 521.7l1.95 3.38h-3.9zM281 529l-1.94 -3.36h3.88zM283.4 525.8l1.96 3.39h-3.92zM285.8 529.9l1.96 3.4h-3.92zM285.8 537.2l-1.95 -3.38h3.9zM288.1 534l1.96 3.39h-3.92zM288.1 541.3l-1.96 -3.39h3.92zM292.9 549.5l-1.96 -3.4h3.92zM240.8 443.9l1.96 3.4h-3.92zM245.6 452.1l1.96 3.39h-3.92zM245.6 459.4l-1.96 -3.39h3.92zM247.9 456.2l1.95 3.38h-3.9zM247.9 463.5l-1.96 -3.4h3.92zM250.3 467.6l-1.96 -3.39h3.92zM252.7 464.4l1.94 3.36h-3.88zM252.7 471.7l-1.95 -3.38h3.9zM257.4 479.8l-1.94 -3.36h3.88zM259.8 483.9l-1.94 -3.36h3.88zM276.3 512.6l-1.94 -3.36h3.88zM278.7 516.7l-1.94 -3.36h3.88zM283.4 524.9l-1.95 -3.38h3.9zM285.8 521.8l1.94 3.36h-3.88zM285.8 529l-1.96 -3.39h3.92zM288.1 533.1l-1.96 -3.4h3.92zM290.5 529.9l1.95 3.38h-3.9zM290.5 537.2l-1.96 -3.39h3.92zM292.9 534l1.96 3.39h-3.92zM297.6 542.2l1.96 3.4h-3.92zM245.6 451.2l-1.97 -3.41h3.94zM250.3 452.1l1.96 3.4h-3.92zM250.3 459.4l-1.97 -3.41h3.93zM252.7 463.5l-1.96 -3.39h3.91zM255 467.6l-1.96 -3.4h3.92zM257.4 464.4l1.94 3.36h-3.89zM257.4 471.7l-1.95 -3.38h3.91zM259.8 475.7l-1.95 -3.38h3.9zM283.4 516.7l-1.95 -3.38h3.9zM285.8 520.8l-1.95 -3.38h3.91zM288.1 517.7l1.94 3.36h-3.89zM288.1 524.9l-1.96 -3.4h3.92zM290.5 529l-1.96 -3.39h3.91zM292.9 533.1l-1.97 -3.41h3.93zM295.2 529.9l1.96 3.4h-3.92zM297.6 541.3l-1.97 -3.41h3.94zM252.7 448l1.95 3.38h-3.9zM255 452.1l1.97 3.4h-3.93zM255 459.4l-1.95 -3.38h3.9zM257.4 463.5l-1.96 -3.39h3.92zM259.8 460.3l1.95 3.38h-3.91zM262.1 464.4l1.94 3.37h-3.89zM264.5 468.5l1.94 3.37h-3.89zM264.5 475.7l-1.95 -3.37h3.89zM266.9 479.8l-1.94 -3.37h3.89zM283.4 508.5l-1.94 -3.37h3.89zM285.8 512.6l-1.95 -3.37h3.89zM288.1 509.5l1.94 3.37h-3.89zM290.5 513.6l1.94 3.37h-3.89zM292.9 517.7l1.95 3.38h-3.91zM292.9 524.9l-1.96 -3.39h3.92zM295.2 529l-1.95 -3.38h3.9zM297.6 525.8l1.97 3.4h-3.93zM299.9 529.9l1.95 3.38h-3.9zM255 443.9l1.95 3.37h-3.9zM257.4 455.3l-1.96 -3.39h3.92zM259.8 452.1l1.97 3.41h-3.94zM262.1 463.5l-1.97 -3.42h3.94zM264.5 460.3l1.94 3.36h-3.88zM264.5 467.6l-1.95 -3.38h3.9zM266.9 464.4l1.95 3.37h-3.89zM266.9 471.6l-1.95 -3.37h3.9zM269.2 468.5l1.94 3.37h-3.89zM269.2 475.7l-1.95 -3.37h3.89zM273.9 483.9l-1.94 -3.36h3.88zM276.3 480.8l1.94 3.36h-3.88zM283.4 493.1l1.94 3.36h-3.88zM283.4 500.3l-1.94 -3.36h3.88zM288.1 508.5l-1.95 -3.37h3.89zM290.5 505.4l1.94 3.37h-3.89zM290.5 512.6l-1.95 -3.37h3.9zM292.9 509.5l1.95 3.37h-3.89zM292.9 516.7l-1.95 -3.38h3.9zM295.2 513.6l1.94 3.36h-3.88zM295.2 520.8l-1.97 -3.42h3.94zM299.9 521.7l1.97 3.41h-3.94zM299.9 529l-1.96 -3.39h3.92zM304.7 529.9l1.95 3.37h-3.9zM262.1 448l1.96 3.39h-3.91zM264.5 452.1l1.95 3.38h-3.9zM266.9 463.5l-1.96 -3.4h3.93zM269.2 460.3l1.94 3.36h-3.88zM269.2 467.6l-1.95 -3.38h3.9zM271.6 464.4l1.94 3.37h-3.89zM273.9 475.7l-1.95 -3.38h3.9zM276.3 479.8l-1.94 -3.36h3.88zM278.7 476.7l1.94 3.36h-3.88zM283.4 484.9l1.94 3.37h-3.89zM288.1 493.1l1.94 3.36h-3.88zM288.1 500.3l-1.94 -3.36h3.88zM290.5 504.4l-1.95 -3.38h3.9zM295.2 505.4l1.94 3.37h-3.89zM295.2 512.6l-1.95 -3.38h3.9zM297.6 509.5l1.94 3.36h-3.88zM297.6 516.7l-1.96 -3.4h3.93zM302.3 517.7l1.95 3.38h-3.9zM304.7 521.7l1.96 3.39h-3.91zM262.1 439.8l1.97 3.41h-3.93zM264.5 443.9l1.96 3.39h-3.92zM266.9 455.3l-1.96 -3.4h3.93zM269.2 452.1l1.95 3.38h-3.9zM271.6 463.5l-1.97 -3.42h3.94zM273.9 460.3l1.95 3.38h-3.91zM276.3 464.4l1.94 3.36h-3.89zM276.3 471.7l-1.95 -3.38h3.91zM283.4 476.7l1.95 3.38h-3.9zM285.8 480.8l1.95 3.37h-3.89zM288.1 484.9l1.95 3.37h-3.89zM290.5 489l1.95 3.38h-3.9zM295.2 504.4l-1.95 -3.38h3.91zM297.6 501.3l1.94 3.36h-3.89zM299.9 505.4l1.95 3.38h-3.91zM299.9 512.6l-1.97 -3.42h3.94zM304.7 513.6l1.95 3.38h-3.9zM304.7 520.8l-1.96 -3.4h3.93zM309.4 521.7l1.96 3.39h-3.92zM311.8 525.8l1.97 3.41h-3.93zM269.2 443.9l1.96 3.39h-3.92zM271.6 448l1.96 3.39h-3.91zM273.9 452.1l1.97 3.41h-3.94zM276.3 463.5l-1.96 -3.39h3.92zM278.7 467.6l-1.96 -3.4h3.92zM281 464.4l1.94 3.36h-3.88zM281 471.7l-1.95 -3.38h3.9zM283.4 468.5l1.95 3.38h-3.9zM285.8 472.6l1.95 3.38h-3.91zM288.1 483.9l-1.94 -3.37h3.89zM290.5 480.8l1.95 3.37h-3.9zM290.5 488l-1.94 -3.37h3.89zM295.2 489l1.95 3.38h-3.91zM297.6 493.1l1.95 3.38h-3.9zM297.6 500.3l-1.95 -3.38h3.9zM299.9 497.2l1.94 3.36h-3.88zM299.9 504.4l-1.96 -3.4h3.92zM302.3 508.5l-1.96 -3.39h3.92zM307 509.4l1.97 3.41h-3.94zM309.4 513.6l1.96 3.39h-3.91zM311.8 517.6l1.96 3.39h-3.92zM271.6 439.8l1.97 3.41h-3.93zM276.3 455.3l-1.96 -3.39h3.92zM278.7 452.1l1.97 3.4h-3.93zM278.7 459.4l-1.95 -3.38h3.9zM281 463.5l-1.96 -3.39h3.91zM283.4 467.6l-1.96 -3.39h3.92zM285.8 464.4l1.96 3.39h-3.92zM285.8 471.6l-1.94 -3.36h3.88zM288.1 468.5l1.96 3.4h-3.92zM288.1 475.7l-1.94 -3.36h3.89zM290.5 479.8l-1.94 -3.37h3.89zM292.9 476.7l1.95 3.38h-3.9zM292.9 483.9l-1.95 -3.37h3.89zM295.2 480.8l1.95 3.38h-3.9zM295.2 488l-1.94 -3.37h3.89zM297.6 492.1l-1.94 -3.36h3.89zM299.9 489l1.96 3.4h-3.92zM299.9 496.2l-1.94 -3.36h3.88zM302.3 493.1l1.96 3.39h-3.92zM302.3 500.3l-1.96 -3.39h3.92zM304.7 504.4l-1.96 -3.39h3.91zM307 508.5l-1.95 -3.38h3.9zM309.4 505.4l1.97 3.4h-3.93zM309.4 512.6l-1.96 -3.39h3.92zM316.5 517.6l1.97 3.41h-3.93zM278.7 443.9l1.95 3.37h-3.9zM281 448l1.95 3.38h-3.9zM283.4 452.1l1.96 3.4h-3.92zM283.4 459.4l-1.97 -3.41h3.93zM285.8 456.2l1.95 3.38h-3.9zM285.8 463.5l-1.96 -3.4h3.92zM288.1 460.3l1.96 3.4h-3.92zM290.5 464.4l1.96 3.39h-3.91zM292.9 468.5l1.96 3.39h-3.92zM292.9 475.7l-1.95 -3.38h3.91zM295.2 472.6l1.97 3.42h-3.94zM295.2 479.8l-1.94 -3.36h3.88zM297.6 476.7l1.96 3.4h-3.93zM297.6 483.9l-1.94 -3.36h3.88zM299.9 480.8l1.97 3.42h-3.94zM299.9 488l-1.95 -3.38h3.91zM302.3 484.9l1.96 3.39h-3.92zM304.7 489l1.96 3.39h-3.91zM307 493.1l1.96 3.4h-3.92zM307 500.3l-1.96 -3.4h3.92zM309.4 497.2l1.95 3.38h-3.9zM309.4 504.4l-1.97 -3.41h3.93zM311.8 501.3l1.96 3.4h-3.92zM314.1 505.4l1.95 3.38h-3.9zM316.5 509.5l1.95 3.37h-3.9zM288.1 452.1l1.96 3.39h-3.92zM288.1 459.4l-1.96 -3.39h3.92zM290.5 456.2l1.96 3.39h-3.92zM290.5 463.5l-1.95 -3.38h3.9zM292.9 460.3l1.97 3.41h-3.93zM295.2 464.4l1.95 3.38h-3.9zM307 484.9l1.95 3.38h-3.9zM309.4 489l1.97 3.41h-3.93zM309.4 496.2l-1.95 -3.38h3.9zM311.8 493.1l1.96 3.39h-3.92zM311.8 500.3l-1.96 -3.39h3.92zM314.1 497.2l1.96 3.39h-3.92zM288.1 451.2l-1.97 -3.41h3.94zM292.9 459.4l-1.96 -3.39h3.92zM295.2 463.5l-1.96 -3.4h3.92zM297.6 467.6l-1.97 -3.4h3.93zM299.9 464.4l1.96 3.39h-3.92zM299.9 471.7l-1.97 -3.41h3.94zM302.3 475.7l-1.95 -3.38h3.9zM304.7 472.6l1.96 3.4h-3.93zM304.7 479.8l-1.95 -3.38h3.9zM307 484l-1.97 -3.41h3.94zM309.4 480.8l1.96 3.39h-3.92zM309.4 488l-1.97 -3.4h3.93zM311.8 492.1l-1.96 -3.4h3.92zM314.1 496.2l-1.96 -3.39h3.92zM318.9 504.4l-1.97 -3.41h3.94zM292.9 443.9l1.96 3.4h-3.92zM297.6 452.1l1.97 3.41h-3.94zM299.9 463.5l-1.95 -3.38h3.9zM304.7 471.7l-1.96 -3.39h3.91zM309.4 479.8l-1.96 -3.39h3.91zM314.1 488l-1.95 -3.38h3.9zM318.9 489l1.97 3.41h-3.94zM323.6 497.2l1.96 3.4h-3.92zM297.6 451.2l-1.96 -3.4h3.92zM304.7 463.5l-1.95 -3.37h3.9zM309.4 471.7l-1.96 -3.39h3.92zM311.8 475.8l-1.96 -3.39h3.92zM316.5 483.9l-1.95 -3.37h3.9zM323.6 496.2l-1.96 -3.4h3.92zM311.8 467.6l-1.97 -3.41h3.93zM316.5 475.8l-1.97 -3.41h3.93z"/><path fill="#fff7ef" d="M200.7 497.1l1.99 3.45h-3.98zM203 501.2l1.98 3.43h-3.96zM210.1 513.5l2 3.46h-3.99zM221.9 534l2 3.46h-3.99zM229 546.3l1.98 3.43h-3.96zM231.4 550.4l1.99 3.45h-3.98zM200.7 496.3l-1.99 -3.45h3.98zM205.4 497.1l1.99 3.45h-3.99zM214.8 513.5l1.98 3.42h-3.95zM219.6 521.7l1.97 3.42h-3.95zM224.3 529.9l1.98 3.42h-3.95zM233.8 546.3l1.99 3.45h-3.99zM236.1 557.7l-1.99 -3.45h3.98zM203 492.2l-1.98 -3.43h3.96zM205.4 496.3l-1.99 -3.45h3.99zM212.5 501.2l2 3.46h-3.99zM214.8 505.3l1.98 3.43h-3.95zM214.8 512.6l-1.98 -3.44h3.97zM219.6 513.5l1.98 3.44h-3.97zM221.9 524.9l-1.99 -3.45h3.99zM226.7 525.8l1.98 3.44h-3.97zM229 537.2l-1.98 -3.44h3.97zM231.4 534l1.98 3.43h-3.95zM233.8 538.1l2 3.46h-3.99zM238.5 553.6l-1.99 -3.45h3.99zM240.8 557.7l-1.98 -3.43h3.96zM214.8 497.1l1.98 3.43h-3.96zM217.2 501.2l1.98 3.44h-3.97zM217.2 508.6l-1.99 -3.44h3.98zM219.6 512.6l-1.98 -3.44h3.97zM221.9 509.4l1.97 3.42h-3.95zM224.3 520.8l-1.99 -3.45h3.98zM226.7 517.6l1.98 3.42h-3.95zM226.7 524.9l-1.99 -3.45h3.98zM231.4 525.8l1.97 3.42h-3.95zM231.4 533.1l-1.98 -3.44h3.97zM233.8 537.2l-1.99 -3.44h3.98zM236.1 534l1.98 3.44h-3.97zM238.5 538.1l1.98 3.43h-3.96zM212.5 492.2l-2 -3.46h3.99zM214.8 496.3l-1.98 -3.43h3.96zM217.2 493l1.98 3.43h-3.96zM217.2 500.4l-1.98 -3.43h3.96zM219.6 504.4l-1.97 -3.42h3.95zM221.9 508.5l-1.98 -3.43h3.97zM226.7 516.7l-1.99 -3.45h3.99zM231.4 524.9l-1.99 -3.45h3.99zM236.1 533.1l-1.98 -3.43h3.97zM238.5 537.2l-1.97 -3.42h3.95zM240.8 541.3l-1.98 -3.43h3.96zM243.2 538.1l1.98 3.43h-3.96zM243.2 545.4l-1.98 -3.43h3.96zM245.6 549.5l-2 -3.46h3.99zM210.1 479.9l-2 -3.46h3.99zM214.8 480.8l1.98 3.44h-3.97zM214.8 488.1l-1.98 -3.43h3.95zM217.2 484.8l1.99 3.44h-3.98zM217.2 492.2l-1.98 -3.44h3.97zM219.6 489l1.97 3.42h-3.95zM229 512.6l-1.98 -3.44h3.97zM231.4 516.7l-1.99 -3.44h3.97zM233.8 520.8l-1.99 -3.44h3.97zM236.1 524.9l-1.98 -3.44h3.97zM247.9 538.1l1.97 3.42h-3.95zM247.9 545.4l-1.98 -3.44h3.97zM250.3 542.2l1.99 3.44h-3.98zM250.3 549.5l-1.98 -3.43h3.95zM252.7 546.3l1.98 3.44h-3.97zM255 557.7l-2 -3.46h3.99zM214.8 479.9l-1.98 -3.42h3.95zM219.6 480.8l1.98 3.44h-3.97zM221.9 484.9l1.98 3.43h-3.97zM252.7 538.1l1.98 3.43h-3.97zM255 542.2l1.98 3.44h-3.97zM257.4 553.6l-1.98 -3.42h3.95zM219.6 479.9l-1.98 -3.44h3.97zM221.9 484l-1.97 -3.42h3.95zM257.4 545.4l-1.97 -3.42h3.95zM259.8 549.5l-1.98 -3.44h3.97zM219.6 471.7l-1.97 -3.42h3.95zM221.9 468.5l1.99 3.45h-3.99zM224.3 472.6l1.99 3.45h-3.98zM226.7 476.7l1.99 3.45h-3.99zM229 480.8l1.98 3.44h-3.97zM259.8 534l1.98 3.44h-3.97zM262.1 538.1l1.99 3.45h-3.99zM264.5 542.2l1.99 3.45h-3.98zM266.9 546.3l1.99 3.45h-3.99zM266.9 553.6l-1.97 -3.42h3.95zM226.7 468.5l1.99 3.45h-3.98zM226.7 475.8l-1.98 -3.42h3.95zM231.4 476.7l1.99 3.44h-3.97zM264.5 534l1.99 3.44h-3.97zM266.9 545.4l-1.98 -3.42h3.95zM269.2 542.2l1.99 3.45h-3.98zM221.9 459.4l-2 -3.46h3.99zM224.3 463.5l-1.98 -3.42h3.95zM226.7 467.6l-1.98 -3.44h3.97zM231.4 468.5l1.99 3.45h-3.99zM233.8 472.6l1.99 3.44h-3.97zM269.2 534l1.99 3.44h-3.97zM271.6 538.1l1.99 3.45h-3.99zM273.9 549.5l-1.98 -3.44h3.97zM276.3 553.6l-1.98 -3.42h3.95zM278.7 557.7l-2 -3.46h3.99zM229 456.2l1.98 3.44h-3.97zM231.4 460.3l1.98 3.44h-3.97zM231.4 467.6l-1.97 -3.42h3.95zM236.1 468.5l1.98 3.44h-3.97zM273.9 534l1.98 3.44h-3.97zM276.3 545.4l-1.97 -3.42h3.95zM278.7 542.2l1.98 3.44h-3.97zM281 546.3l1.98 3.44h-3.97zM231.4 459.4l-1.98 -3.43h3.95zM233.8 456.2l1.99 3.44h-3.98zM236.1 460.3l1.98 3.43h-3.97zM281 538.1l1.98 3.43h-3.97zM283.4 542.2l1.99 3.44h-3.98zM283.4 549.5l-1.98 -3.43h3.95zM229 447.1l-1.98 -3.43h3.96zM233.8 455.3l-2 -3.46h3.99zM236.1 459.4l-1.98 -3.44h3.97zM238.5 456.2l1.97 3.42h-3.95zM285.8 538.1l1.97 3.42h-3.95zM285.8 545.4l-1.98 -3.44h3.97zM288.1 549.5l-2 -3.46h3.99zM292.9 557.7l-1.98 -3.43h3.96zM231.4 443l-1.99 -3.45h3.98zM233.8 447.1l-1.99 -3.45h3.99zM238.5 455.3l-1.98 -3.43h3.96zM240.8 452.1l1.98 3.43h-3.96zM290.5 538.1l1.98 3.43h-3.96zM290.5 545.4l-1.98 -3.43h3.96zM295.2 553.6l-1.99 -3.45h3.99zM297.6 557.7l-1.99 -3.45h3.98zM236.1 435.7l1.99 3.45h-3.98zM238.5 439.8l1.99 3.45h-3.99zM243.2 448l1.98 3.43h-3.96zM243.2 455.3l-1.98 -3.43h3.96zM292.9 541.3l-1.98 -3.43h3.96zM295.2 538.1l1.98 3.43h-3.96zM299.9 546.3l1.99 3.45h-3.99zM302.3 550.4l1.99 3.45h-3.98zM240.8 435.7l1.98 3.43h-3.96zM245.6 443.9l2 3.46h-3.99zM247.9 448l1.98 3.44h-3.97zM247.9 455.3l-1.97 -3.42h3.95zM295.2 537.2l-1.97 -3.42h3.95zM297.6 534l1.98 3.44h-3.97zM299.9 538.1l2 3.46h-3.99zM304.7 546.3l1.98 3.43h-3.96zM250.3 443.9l1.98 3.43h-3.95zM250.3 451.2l-1.99 -3.44h3.98zM252.7 455.3l-1.98 -3.43h3.97zM297.6 533.1l-1.98 -3.43h3.97zM299.9 537.2l-1.99 -3.44h3.98zM302.3 534l1.98 3.43h-3.95zM252.7 447.1l-1.98 -3.44h3.97zM255 451.2l-1.98 -3.44h3.97zM257.4 448l1.97 3.42h-3.95zM259.8 459.4l-1.98 -3.44h3.97zM297.6 524.9l-1.98 -3.44h3.97zM302.3 525.8l1.97 3.42h-3.95zM302.3 533.1l-1.98 -3.44h3.97zM304.7 537.2l-1.98 -3.44h3.97zM255 435.7l2 3.46h-3.99zM257.4 439.8l1.98 3.42h-3.95zM259.8 443.9l1.98 3.44h-3.97zM262.1 455.3l-1.99 -3.45h3.99zM264.5 459.4l-1.99 -3.44h3.97zM299.9 520.8l-1.99 -3.44h3.97zM302.3 524.9l-1.99 -3.45h3.99zM307 525.8l1.98 3.44h-3.97zM309.4 529.9l1.98 3.42h-3.95zM311.8 534l2 3.46h-3.99zM264.5 451.2l-1.99 -3.45h3.98zM266.9 448l1.98 3.42h-3.95zM269.2 459.4l-1.99 -3.44h3.97zM302.3 516.7l-1.99 -3.44h3.97zM307 517.6l1.98 3.42h-3.95zM307 524.9l-1.99 -3.45h3.98zM266.9 439.8l1.97 3.42h-3.95zM266.9 447.1l-1.99 -3.45h3.99zM269.2 451.2l-1.99 -3.45h3.98zM271.6 455.3l-1.99 -3.45h3.99zM273.9 459.4l-1.98 -3.44h3.97zM304.7 512.6l-1.98 -3.44h3.97zM307 516.7l-1.99 -3.45h3.99zM309.4 520.8l-1.99 -3.45h3.98zM311.8 524.9l-1.99 -3.45h3.99zM314.1 521.7l1.97 3.42h-3.95zM273.9 443.9l1.98 3.44h-3.97zM276.3 448l1.97 3.42h-3.95zM311.8 509.4l1.97 3.42h-3.95zM314.1 513.5l1.98 3.44h-3.97zM276.3 439.8l1.98 3.42h-3.95zM278.7 451.2l-1.98 -3.44h3.97zM281 455.3l-1.98 -3.43h3.97zM311.8 508.5l-1.98 -3.43h3.97zM314.1 512.6l-1.98 -3.44h3.97zM318.9 513.5l1.98 3.42h-3.95zM278.7 435.7l2 3.46h-3.99zM281 447.1l-1.98 -3.44h3.97zM283.4 443.9l1.98 3.43h-3.95zM283.4 451.2l-1.99 -3.44h3.98zM285.8 448l1.98 3.44h-3.97zM285.8 455.3l-1.97 -3.42h3.95zM297.6 468.5l1.98 3.44h-3.97zM299.9 472.6l1.99 3.44h-3.97zM302.3 476.7l1.99 3.44h-3.97zM304.7 480.8l1.98 3.44h-3.97zM314.1 504.4l-1.97 -3.42h3.95zM316.5 501.2l1.98 3.44h-3.97zM316.5 508.6l-1.99 -3.44h3.98zM318.9 505.3l1.98 3.43h-3.95zM318.9 512.6l-1.98 -3.44h3.97zM323.6 513.5l2 3.46h-3.99zM288.1 443.9l2 3.46h-3.99zM290.5 448l1.98 3.43h-3.96zM290.5 455.3l-1.98 -3.43h3.96zM292.9 452.1l1.98 3.43h-3.96zM295.2 456.2l1.97 3.42h-3.95zM297.6 460.3l1.98 3.43h-3.97zM302.3 468.5l1.99 3.45h-3.99zM307 476.7l1.99 3.45h-3.99zM311.8 484.9l1.98 3.43h-3.97zM314.1 489l1.97 3.42h-3.95zM316.5 493l1.98 3.43h-3.96zM316.5 500.4l-1.98 -3.43h3.96zM318.9 497.1l1.98 3.43h-3.96zM321.2 501.2l2 3.46h-3.99zM295.2 455.3l-1.98 -3.43h3.96zM297.6 459.4l-1.98 -3.44h3.97zM299.9 456.2l1.99 3.44h-3.98zM302.3 460.3l1.98 3.44h-3.97zM302.3 467.6l-1.97 -3.42h3.95zM307 468.5l1.99 3.45h-3.98zM307 475.8l-1.98 -3.42h3.95zM309.4 472.6l1.99 3.45h-3.98zM311.8 484l-1.97 -3.42h3.95zM314.1 480.8l1.98 3.44h-3.97zM316.5 484.8l1.99 3.44h-3.98zM316.5 492.2l-1.98 -3.44h3.97zM318.9 496.3l-1.98 -3.43h3.96zM292.9 435.7l1.98 3.43h-3.96zM295.2 439.8l1.99 3.45h-3.99zM299.9 455.3l-2 -3.46h3.99zM302.3 459.4l-1.98 -3.43h3.95zM304.7 456.2l1.98 3.44h-3.97zM307 467.6l-1.98 -3.44h3.97zM311.8 468.5l1.99 3.45h-3.99zM314.1 479.9l-1.98 -3.44h3.97zM318.9 480.8l1.98 3.44h-3.97zM318.9 488.1l-1.98 -3.43h3.95zM321.2 492.2l-2 -3.46h3.99zM328.3 497.1l1.99 3.45h-3.99zM330.7 501.2l1.98 3.43h-3.96zM297.6 435.7l1.99 3.45h-3.98zM299.9 447.1l-1.99 -3.45h3.99zM309.4 463.5l-1.98 -3.42h3.95zM314.1 471.7l-1.97 -3.42h3.95zM318.9 479.9l-1.98 -3.42h3.95zM328.3 496.3l-1.99 -3.45h3.99zM333 497.1l1.99 3.45h-3.98zM302.3 443l-1.99 -3.45h3.98zM304.7 447.1l-1.98 -3.43h3.96zM311.8 459.4l-2 -3.46h3.99zM323.6 479.9l-2 -3.46h3.99zM330.7 492.2l-1.98 -3.43h3.96zM333 496.3l-1.99 -3.45h3.98z"/><path fill="#fff3e7" d="M210.1 505.3l2 3.47h-4.01zM212.5 509.4l2.01 3.49h-4.03zM226.7 534l2.01 3.49h-4.03zM229 538.1l2 3.47h-4.01zM207.7 493l2 3.46h-4zM207.7 500.4l-2 -3.46h4zM236.1 549.5l-2 -3.46h4zM238.5 546.3l2 3.46h-4zM212.5 493l2.01 3.48h-4.01zM212.5 500.4l-2.01 -3.48h4.01zM221.9 516.8l-2 -3.46h4zM229 529l-2 -3.46h4zM238.5 545.4l-2.01 -3.48h4.01zM240.8 542.2l2.01 3.48h-4.01zM210.1 488.1l-2 -3.47h4.01zM247.9 553.6l-2 -3.47h4.01zM212.5 484l-2.01 -3.49h4.03zM252.7 553.6l-2.01 -3.49h4.03zM221.9 476.6l2 3.46h-4zM259.8 542.2l2 3.46h-4zM229 464.4l2 3.46h-4zM273.9 542.2l2 3.46h-4zM226.7 459.4l-2.01 -3.49h4.03zM281 553.6l-2.01 -3.49h4.03zM229 455.3l-2 -3.47h4.01zM285.8 553.6l-2 -3.47h4.01zM236.1 443.9l2 3.46h-4zM238.5 448l2.01 3.48h-4.01zM292.9 542.2l2.01 3.48h-4.01zM295.2 546.3l2 3.46h-4zM238.5 447.1l-2 -3.46h4zM240.8 451.2l-2.01 -3.48h4.01zM295.2 545.4l-2.01 -3.48h4.01zM297.6 549.5l-2 -3.46h4zM247.9 439.8l2 3.47h-4.01zM304.7 538.1l2 3.47h-4.01zM252.7 439.8l2.01 3.49h-4.03zM307 534l2.01 3.49h-4.03zM259.8 451.2l-2 -3.46h4zM304.7 529l-2 -3.46h4zM273.9 451.2l-2 -3.46h4zM311.8 516.8l-2 -3.46h4zM281 439.8l2.01 3.49h-4.03zM321.2 509.4l2.01 3.49h-4.03zM285.8 439.8l2 3.47h-4.01zM323.6 505.3l2 3.47h-4.01zM292.9 451.2l-2.01 -3.48h4.01zM295.2 448l2.01 3.48h-4.01zM304.7 464.4l2 3.46h-4zM311.8 476.6l2 3.46h-4zM321.2 493l2.01 3.48h-4.01zM321.2 500.4l-2.01 -3.48h4.01zM295.2 447.1l-2 -3.46h4zM297.6 443.9l2 3.46h-4zM326 493l2 3.46h-4zM326 500.4l-2 -3.46h4zM304.7 455.3l-2 -3.47h4.01zM307 459.4l-2.01 -3.49h4.03zM321.2 484l-2.01 -3.49h4.03zM323.6 488.1l-2 -3.47h4.01z"/><path fill="#ffefdf" d="M195.9 497.1l2.03 3.51h-4.05zM229 554.4l2.03 3.51h-4.05zM195.9 496.3l-2.03 -3.51h4.05zM207.7 509.4l2.03 3.52h-4.07zM224.3 538l2.03 3.52h-4.07zM233.8 561.8l-2.03 -3.51h4.05zM207.7 501.2l2.02 3.49h-4.03zM207.7 508.6l-2.03 -3.52h4.06zM229 545.5l-2.03 -3.52h4.06zM231.4 542.1l2.02 3.49h-4.03zM210.1 504.5l-2.02 -3.5h4.04zM212.5 508.6l-2.02 -3.51h4.05zM217.2 516.8l-2.02 -3.49h4.03zM219.6 520.9l-2.03 -3.52h4.06zM224.3 529.1l-2.03 -3.52h4.06zM226.7 533.2l-2.02 -3.49h4.03zM231.4 541.4l-2.02 -3.51h4.05zM233.8 545.4l-2.02 -3.5h4.04zM207.7 484.8l2.03 3.52h-4.06zM207.7 492.2l-2.02 -3.49h4.03zM210.1 488.9l2.02 3.5h-4.04zM243.2 546.2l2.02 3.5h-4.04zM243.2 553.6l-2.02 -3.49h4.03zM245.6 550.3l2.03 3.52h-4.06zM207.7 484l-2.03 -3.52h4.07zM212.5 484.8l2.02 3.51h-4.05zM247.9 546.2l2.02 3.51h-4.05zM250.3 557.7l-2.03 -3.52h4.07zM217.2 476.6l2.02 3.49h-4.03zM257.4 546.2l2.02 3.49h-4.03zM219.6 472.5l2.03 3.52h-4.06zM262.1 546.2l2.03 3.52h-4.06zM224.3 464.3l2.03 3.52h-4.06zM271.6 546.2l2.03 3.52h-4.06zM226.7 460.2l2.02 3.49h-4.03zM276.3 546.2l2.02 3.49h-4.03zM224.3 455.4l-2.03 -3.52h4.07zM283.4 557.7l-2.03 -3.52h4.07zM229 447.9l2.03 3.52h-4.06zM231.4 452l2.02 3.51h-4.05zM285.8 546.2l2.02 3.51h-4.05zM288.1 550.3l2.03 3.52h-4.06zM231.4 451.3l-2.02 -3.49h4.03zM233.8 448l2.02 3.5h-4.04zM290.5 546.2l2.02 3.5h-4.04zM290.5 553.6l-2.02 -3.49h4.03zM229 439l-2.03 -3.51h4.05zM299.9 561.8l-2.03 -3.51h4.05zM233.8 431.6l2.03 3.51h-4.05zM304.7 554.4l2.03 3.51h-4.05zM243.2 439.8l2.02 3.49h-4.03zM243.2 447.2l-2.02 -3.5h4.04zM299.9 545.4l-2.02 -3.5h4.04zM302.3 542.1l2.02 3.49h-4.03zM245.6 443.1l-2.03 -3.52h4.06zM247.9 447.2l-2.02 -3.51h4.05zM302.3 541.4l-2.02 -3.51h4.05zM304.7 545.5l-2.03 -3.52h4.06zM250.3 435.7l2.03 3.52h-4.07zM309.4 538l2.03 3.52h-4.07zM257.4 447.2l-2.02 -3.49h4.03zM307 533.2l-2.02 -3.49h4.03zM262.1 447.2l-2.03 -3.52h4.06zM309.4 529.1l-2.03 -3.52h4.06zM271.6 447.2l-2.03 -3.52h4.06zM314.1 520.9l-2.03 -3.52h4.06zM276.3 447.2l-2.02 -3.49h4.03zM316.5 516.8l-2.02 -3.49h4.03zM283.4 435.7l2.03 3.52h-4.07zM285.8 447.2l-2.02 -3.51h4.05zM321.2 508.6l-2.02 -3.51h4.05zM326 509.4l2.03 3.52h-4.07zM288.1 443.1l-2.03 -3.52h4.06zM290.5 439.8l2.02 3.49h-4.03zM290.5 447.2l-2.02 -3.5h4.04zM323.6 504.5l-2.02 -3.5h4.04zM326 501.2l2.02 3.49h-4.03zM326 508.6l-2.03 -3.52h4.06zM299.9 448l2.02 3.5h-4.04zM302.3 452l2.02 3.51h-4.05zM307 460.2l2.02 3.49h-4.03zM309.4 464.3l2.03 3.52h-4.06zM314.1 472.5l2.03 3.52h-4.06zM316.5 476.6l2.02 3.49h-4.03zM321.2 484.8l2.02 3.51h-4.05zM323.6 488.9l2.02 3.5h-4.04zM302.3 451.3l-2.02 -3.49h4.03zM304.7 447.9l2.03 3.52h-4.06zM326 484.8l2.03 3.52h-4.06zM326 492.2l-2.02 -3.49h4.03zM299.9 431.6l2.03 3.51h-4.05zM309.4 455.4l-2.03 -3.52h4.07zM326 484l-2.03 -3.52h4.07zM337.8 497.1l2.03 3.51h-4.05zM304.7 439l-2.03 -3.51h4.05zM337.8 496.3l-2.03 -3.51h4.05z"/><path fill="#ffebd7" d="M212.5 517.5l2.05 3.54h-4.09zM219.6 529.8l2.05 3.54h-4.09zM214.8 520.9l-2.03 -3.52h4.07zM221.9 533.2l-2.03 -3.52h4.07zM212.5 475.9l-2.05 -3.54h4.09zM214.8 472.5l2.03 3.52h-4.07zM259.8 550.3l2.03 3.52h-4.07zM259.8 557.8l-2.05 -3.54h4.09zM219.6 463.6l-2.05 -3.54h4.09zM221.9 460.2l2.03 3.52h-4.07zM273.9 550.3l2.03 3.52h-4.07zM273.9 557.8l-2.05 -3.54h4.09zM259.8 435.6l2.05 3.54h-4.09zM259.8 443.1l-2.03 -3.52h4.07zM311.8 533.2l-2.03 -3.52h4.07zM314.1 529.8l2.05 3.54h-4.09zM273.9 435.6l2.05 3.54h-4.09zM273.9 443.1l-2.03 -3.52h4.07zM318.9 520.9l-2.03 -3.52h4.07zM321.2 517.5l2.05 3.54h-4.09zM311.8 460.2l2.03 3.52h-4.07zM318.9 472.5l2.03 3.52h-4.07zM314.1 463.6l-2.05 -3.54h4.09zM321.2 475.9l-2.05 -3.54h4.09z"/><path fill="#ffe7cf" d="M207.7 525.7l2.06 3.57h-4.12zM210.1 529.8l2.06 3.57h-4.12zM200.7 505.2l2.06 3.57h-4.12zM205.4 513.4l2.05 3.55h-4.1zM210.1 521.6l2.06 3.57h-4.12zM214.8 529.8l2.06 3.57h-4.12zM219.6 538l2.05 3.55h-4.1zM224.3 546.2l2.06 3.57h-4.12zM205.4 505.2l2.06 3.57h-4.12zM214.8 521.6l2.05 3.56h-4.11zM217.2 525.7l2.05 3.56h-4.11zM226.7 542.1l2.06 3.57h-4.12zM205.4 504.5l-2.06 -3.57h4.12zM210.1 512.7l-2.06 -3.57h4.12zM212.5 516.8l-2.06 -3.57h4.12zM224.3 537.3l-2.06 -3.57h4.12zM226.7 541.4l-2.06 -3.57h4.12zM231.4 549.6l-2.06 -3.57h4.12zM200.7 488.2l-2.06 -3.57h4.12zM205.4 488.9l2.06 3.57h-4.12zM240.8 550.3l2.06 3.57h-4.12zM243.2 561.9l-2.06 -3.57h4.12zM205.4 488.2l-2.06 -3.57h4.12zM245.6 557.8l-2.06 -3.57h4.12zM205.4 480l-2.05 -3.55h4.1zM210.1 480.7l2.06 3.57h-4.12zM250.3 550.3l2.06 3.57h-4.12zM252.7 561.9l-2.05 -3.55h4.1zM212.5 476.6l2.06 3.57h-4.12zM255 550.3l2.06 3.57h-4.12zM207.7 467.7l-2.06 -3.57h4.12zM210.1 471.8l-2.06 -3.57h4.12zM262.1 561.9l-2.06 -3.57h4.12zM264.5 566l-2.06 -3.57h4.12zM210.1 463.6l-2.06 -3.57h4.12zM214.8 471.8l-2.05 -3.56h4.11zM264.5 557.8l-2.05 -3.56h4.11zM269.2 566l-2.06 -3.57h4.12zM214.8 463.6l-2.06 -3.57h4.12zM217.2 467.7l-2.05 -3.56h4.11zM269.2 557.8l-2.05 -3.56h4.11zM271.6 561.9l-2.06 -3.57h4.12zM219.6 455.4l-2.05 -3.55h4.1zM224.3 456.1l2.06 3.57h-4.12zM278.7 550.3l2.06 3.57h-4.12zM281 561.9l-2.05 -3.55h4.1zM226.7 452l2.06 3.57h-4.12zM283.4 550.3l2.06 3.57h-4.12zM224.3 447.2l-2.06 -3.57h4.12zM226.7 451.3l-2.06 -3.57h4.12zM288.1 557.8l-2.06 -3.57h4.12zM290.5 561.9l-2.06 -3.57h4.12zM231.4 443.8l2.06 3.57h-4.12zM292.9 550.3l2.06 3.57h-4.12zM240.8 443.1l-2.06 -3.57h4.12zM302.3 549.6l-2.06 -3.57h4.12zM243.2 431.5l2.06 3.57h-4.12zM245.6 435.6l2.06 3.57h-4.12zM307 542.1l2.06 3.57h-4.12zM309.4 546.2l2.06 3.57h-4.12zM250.3 443.1l-2.06 -3.57h4.12zM307 541.4l-2.06 -3.57h4.12zM252.7 431.5l2.05 3.55h-4.1zM255 443.1l-2.06 -3.57h4.12zM309.4 537.3l-2.06 -3.57h4.12zM314.1 538l2.05 3.55h-4.1zM262.1 431.5l2.06 3.57h-4.12zM264.5 435.6l2.05 3.56h-4.11zM316.5 525.7l2.05 3.56h-4.11zM318.9 529.8l2.06 3.57h-4.12zM264.5 427.4l2.06 3.57h-4.12zM269.2 435.6l2.05 3.56h-4.11zM318.9 521.6l2.05 3.56h-4.11zM323.6 529.8l2.06 3.57h-4.12zM269.2 427.4l2.06 3.57h-4.12zM271.6 431.5l2.06 3.57h-4.12zM323.6 521.6l2.06 3.57h-4.12zM326 525.7l2.06 3.57h-4.12zM278.7 443.1l-2.06 -3.57h4.12zM321.2 516.8l-2.06 -3.57h4.12zM281 431.5l2.05 3.55h-4.1zM283.4 443.1l-2.06 -3.57h4.12zM323.6 512.7l-2.06 -3.57h4.12zM328.3 513.4l2.05 3.55h-4.1zM288.1 435.6l2.06 3.57h-4.12zM328.3 505.2l2.06 3.57h-4.12zM290.5 431.5l2.06 3.57h-4.12zM292.9 443.1l-2.06 -3.57h4.12zM328.3 504.5l-2.06 -3.57h4.12zM333 505.2l2.06 3.57h-4.12zM302.3 443.8l2.06 3.57h-4.12zM307 452l2.06 3.57h-4.12zM309.4 456.1l2.06 3.57h-4.12zM321.2 476.6l2.06 3.57h-4.12zM323.6 480.7l2.06 3.57h-4.12zM328.3 488.9l2.06 3.57h-4.12zM307 451.3l-2.06 -3.57h4.12zM316.5 467.7l-2.05 -3.56h4.11zM318.9 471.8l-2.05 -3.56h4.11zM328.3 488.2l-2.06 -3.57h4.12zM309.4 447.2l-2.06 -3.57h4.12zM314.1 455.4l-2.05 -3.55h4.1zM318.9 463.6l-2.06 -3.57h4.12zM323.6 471.8l-2.06 -3.57h4.12zM328.3 480l-2.05 -3.55h4.1zM333 488.2l-2.06 -3.57h4.12zM323.6 463.6l-2.06 -3.57h4.12zM326 467.7l-2.06 -3.57h4.12z"/><path fill="#ffe3c7" d="M198.3 501.1l2.07 3.58h-4.13zM212.5 525.7l2.07 3.58h-4.14zM226.7 550.3l2.07 3.58h-4.13zM200.7 504.5l-2.06 -3.57h4.12zM210.1 520.9l-2.07 -3.58h4.14zM219.6 537.3l-2.07 -3.58h4.14zM229 553.7l-2.06 -3.57h4.12zM198.3 492.3l-2.07 -3.58h4.13zM200.7 488.9l2.06 3.57h-4.12zM203 493l2.06 3.57h-4.13zM203 500.4l-2.06 -3.57h4.13zM217.2 525l-2.06 -3.57h4.13zM219.6 529.1l-2.06 -3.57h4.13zM233.8 553.7l-2.06 -3.57h4.13zM236.1 550.3l2.06 3.57h-4.13zM238.5 554.4l2.06 3.57h-4.12zM238.5 561.9l-2.07 -3.58h4.13zM210.1 472.5l2.07 3.58h-4.14zM257.4 554.4l2.07 3.58h-4.14zM212.5 467.7l-2.07 -3.58h4.14zM217.2 468.4l2.06 3.57h-4.13zM264.5 550.3l2.06 3.57h-4.13zM266.9 561.9l-2.07 -3.58h4.14zM219.6 464.3l2.06 3.57h-4.13zM269.2 550.3l2.06 3.57h-4.13zM219.6 456.1l2.07 3.58h-4.14zM276.3 554.4l2.07 3.58h-4.14zM226.7 443.1l-2.07 -3.58h4.13zM229 439.7l2.06 3.57h-4.12zM295.2 554.4l2.06 3.57h-4.12zM295.2 561.9l-2.07 -3.58h4.13zM233.8 439.7l2.06 3.57h-4.13zM297.6 550.3l2.06 3.57h-4.13zM236.1 443.1l-2.06 -3.57h4.13zM299.9 553.7l-2.06 -3.57h4.13zM238.5 431.5l2.07 3.58h-4.13zM238.5 439l-2.06 -3.57h4.12zM304.7 553.7l-2.06 -3.57h4.12zM307 550.3l2.07 3.58h-4.13zM257.4 439l-2.07 -3.58h4.14zM314.1 537.3l-2.07 -3.58h4.14zM264.5 443.1l-2.06 -3.57h4.13zM314.1 529.1l-2.06 -3.57h4.13zM266.9 431.5l2.07 3.58h-4.14zM269.2 443.1l-2.06 -3.57h4.13zM316.5 525l-2.06 -3.57h4.13zM321.2 525.7l2.07 3.58h-4.14zM276.3 439l-2.07 -3.58h4.14zM323.6 520.9l-2.07 -3.58h4.14zM295.2 431.5l2.07 3.58h-4.13zM295.2 439l-2.06 -3.57h4.12zM297.6 443.1l-2.06 -3.57h4.13zM299.9 439.7l2.06 3.57h-4.13zM314.1 464.3l2.06 3.57h-4.13zM316.5 468.4l2.06 3.57h-4.13zM330.7 493l2.06 3.57h-4.13zM330.7 500.4l-2.06 -3.57h4.13zM333 504.5l-2.06 -3.57h4.12zM335.4 501.1l2.07 3.58h-4.13zM304.7 439.7l2.06 3.57h-4.12zM314.1 456.1l2.07 3.58h-4.14zM323.6 472.5l2.07 3.58h-4.14zM333 488.9l2.06 3.57h-4.12zM307 443.1l-2.07 -3.58h4.13zM321.2 467.7l-2.07 -3.58h4.14zM335.4 492.3l-2.07 -3.58h4.13z"/><path fill="#ffdfbf" d="M203 517.5l2.09 3.61h-4.17zM214.8 538l2.09 3.61h-4.17zM203 509.3l2.08 3.61h-4.16zM221.9 542.1l2.08 3.61h-4.16zM203 508.7l-2.08 -3.6h4.15zM226.7 549.6l-2.08 -3.6h4.15zM203 484.7l2.08 3.6h-4.15zM243.2 554.4l2.08 3.6h-4.15zM203 484.1l-2.08 -3.61h4.16zM247.9 561.9l-2.08 -3.61h4.16zM203 475.9l-2.09 -3.61h4.17zM255 566l-2.09 -3.61h4.17zM214.8 455.4l-2.09 -3.61h4.17zM278.7 566l-2.09 -3.61h4.17zM221.9 451.3l-2.08 -3.61h4.16zM285.8 561.9l-2.08 -3.61h4.16zM226.7 443.8l2.08 3.6h-4.15zM290.5 554.4l2.08 3.6h-4.15zM243.2 439l-2.08 -3.6h4.15zM307 549.6l-2.08 -3.6h4.15zM247.9 431.5l2.08 3.61h-4.16zM311.8 542.1l2.08 3.61h-4.16zM255 427.4l2.09 3.61h-4.17zM318.9 538l2.09 3.61h-4.17zM278.7 427.4l2.09 3.61h-4.17zM330.7 517.5l2.09 3.61h-4.17zM285.8 431.5l2.08 3.61h-4.16zM330.7 509.3l2.08 3.61h-4.16zM290.5 439l-2.08 -3.6h4.15zM330.7 508.7l-2.08 -3.6h4.15zM307 443.8l2.08 3.6h-4.15zM330.7 484.7l2.08 3.6h-4.15zM311.8 451.3l-2.08 -3.61h4.16zM330.7 484.1l-2.08 -3.61h4.16zM318.9 455.4l-2.09 -3.61h4.17zM330.7 475.9l-2.09 -3.61h4.17z"/><path fill="#ffdbb7" d="M200.7 529.8l2.09 3.62h-4.19zM203 533.9l2.09 3.62h-4.19zM198.3 508.7l-2.09 -3.62h4.18zM207.7 525l-2.09 -3.62h4.17zM214.8 537.3l-2.09 -3.62h4.17zM224.3 553.7l-2.09 -3.62h4.18zM198.3 492.9l2.1 3.63h-4.19zM198.3 500.5l-2.1 -3.63h4.19zM212.5 525l-2.09 -3.62h4.17zM217.2 533.2l-2.09 -3.62h4.17zM231.4 557.8l-2.1 -3.63h4.19zM233.8 554.3l2.1 3.63h-4.19zM198.3 484.7l2.09 3.62h-4.18zM240.8 558.4l2.09 3.62h-4.18zM200.7 463.6l-2.09 -3.62h4.19zM207.7 468.4l2.09 3.62h-4.17zM259.8 558.4l2.09 3.62h-4.17zM264.5 574.2l-2.09 -3.62h4.19zM203 459.5l-2.09 -3.62h4.19zM212.5 468.4l2.09 3.62h-4.17zM262.1 554.3l2.09 3.62h-4.17zM269.2 574.2l-2.09 -3.62h4.19zM214.8 456.1l2.09 3.62h-4.17zM217.2 460.2l2.09 3.62h-4.17zM271.6 554.3l2.09 3.62h-4.17zM273.9 558.4l2.09 3.62h-4.17zM224.3 439.7l2.09 3.62h-4.18zM292.9 558.4l2.09 3.62h-4.18zM231.4 435.6l2.1 3.63h-4.19zM299.9 554.3l2.1 3.63h-4.19zM233.8 439.1l-2.1 -3.63h4.19zM302.3 557.8l-2.1 -3.63h4.19zM240.8 435l-2.09 -3.62h4.18zM309.4 553.7l-2.09 -3.62h4.18zM259.8 435l-2.09 -3.62h4.17zM262.1 439.1l-2.09 -3.62h4.17zM316.5 533.2l-2.09 -3.62h4.17zM318.9 537.3l-2.09 -3.62h4.17zM264.5 419.2l2.09 3.62h-4.19zM271.6 439.1l-2.09 -3.62h4.17zM321.2 525l-2.09 -3.62h4.17zM330.7 533.9l2.09 3.62h-4.19zM269.2 419.2l2.09 3.62h-4.19zM273.9 435l-2.09 -3.62h4.17zM326 525l-2.09 -3.62h4.17zM333 529.8l2.09 3.62h-4.19zM292.9 435l-2.09 -3.62h4.18zM335.4 508.7l-2.09 -3.62h4.18zM299.9 439.1l-2.1 -3.63h4.19zM302.3 435.6l2.1 3.63h-4.19zM316.5 460.2l2.09 3.62h-4.17zM321.2 468.4l2.09 3.62h-4.17zM335.4 492.9l2.1 3.63h-4.19zM335.4 500.5l-2.1 -3.63h4.19zM309.4 439.7l2.09 3.62h-4.18zM318.9 456.1l2.09 3.62h-4.17zM326 468.4l2.09 3.62h-4.17zM335.4 484.7l2.09 3.62h-4.18zM330.7 459.5l-2.09 -3.62h4.19zM333 463.6l-2.09 -3.62h4.19z"/><path fill="#ffd7af" d="M207.7 517.5l2.1 3.64h-4.21zM217.2 533.9l2.1 3.64h-4.21zM207.7 475.9l-2.1 -3.64h4.21zM257.4 561.9l-2.1 -3.64h4.21zM217.2 459.5l-2.1 -3.64h4.21zM276.3 561.9l-2.1 -3.64h4.21zM257.4 431.5l2.1 3.64h-4.21zM316.5 533.9l2.1 3.64h-4.21zM276.3 431.5l2.1 3.64h-4.21zM326 517.5l2.1 3.64h-4.21zM316.5 459.5l-2.1 -3.64h4.21zM326 475.9l-2.1 -3.64h4.21z"/><path fill="#ffd3a7" d="M200.7 521.6l2.11 3.66h-4.23zM210.1 537.9l2.11 3.66h-4.23zM198.3 509.3l2.11 3.65h-4.22zM219.6 546.1l2.11 3.65h-4.22zM205.4 512.8l-2.11 -3.65h4.22zM214.8 529.2l-2.11 -3.66h4.23zM224.3 545.5l-2.11 -3.65h4.22zM198.3 484.1l-2.11 -3.65h4.22zM245.6 566l-2.11 -3.65h4.22zM205.4 480.6l2.11 3.65h-4.22zM247.9 554.3l2.11 3.65h-4.22zM200.7 471.8l-2.11 -3.66h4.23zM257.4 570.1l-2.11 -3.66h4.23zM214.8 464.2l2.11 3.66h-4.23zM266.9 554.3l2.11 3.66h-4.23zM210.1 455.5l-2.11 -3.66h4.23zM276.3 570.1l-2.11 -3.66h4.23zM219.6 447.3l-2.11 -3.65h4.22zM224.3 447.9l2.11 3.65h-4.22zM285.8 554.3l2.11 3.65h-4.22zM288.1 566l-2.11 -3.65h4.22zM245.6 427.4l2.11 3.65h-4.22zM247.9 439.1l-2.11 -3.65h4.22zM309.4 545.5l-2.11 -3.65h4.22zM314.1 546.1l2.11 3.65h-4.22zM257.4 423.3l2.11 3.66h-4.23zM323.6 537.9l2.11 3.66h-4.23zM266.9 439.1l-2.11 -3.66h4.23zM318.9 529.2l-2.11 -3.66h4.23zM276.3 423.3l2.11 3.66h-4.23zM333 521.6l2.11 3.66h-4.23zM285.8 439.1l-2.11 -3.65h4.22zM328.3 512.8l-2.11 -3.65h4.22zM288.1 427.4l2.11 3.65h-4.22zM335.4 509.3l2.11 3.65h-4.22zM309.4 447.9l2.11 3.65h-4.22zM318.9 464.2l2.11 3.66h-4.23zM328.3 480.6l2.11 3.65h-4.22zM314.1 447.3l-2.11 -3.65h4.22zM335.4 484.1l-2.11 -3.65h4.22zM323.6 455.5l-2.11 -3.66h4.23zM333 471.8l-2.11 -3.66h4.23z"/><path fill="#ffcf9f" d="M195.9 513.4l2.12 3.67h-4.24zM214.8 546.1l2.12 3.67h-4.24zM195.9 504.6l-2.13 -3.68h4.25zM226.7 557.8l-2.13 -3.68h4.25zM195.9 488.8l2.13 3.68h-4.25zM207.7 516.9l-2.12 -3.67h4.24zM221.9 541.5l-2.12 -3.67h4.24zM236.1 558.4l2.13 3.68h-4.25zM195.9 480l-2.12 -3.67h4.24zM247.9 570.1l-2.12 -3.67h4.24zM207.7 476.5l2.12 3.67h-4.24zM252.7 554.3l2.12 3.67h-4.24zM214.8 447.3l-2.12 -3.67h4.24zM221.9 451.9l2.12 3.67h-4.24zM281 554.3l2.12 3.67h-4.24zM285.8 570.1l-2.12 -3.67h4.24zM226.7 435.6l2.13 3.68h-4.25zM297.6 558.4l2.13 3.68h-4.25zM236.1 435l-2.13 -3.68h4.25zM307 557.8l-2.13 -3.68h4.25zM247.9 423.3l2.12 3.67h-4.24zM252.7 439.1l-2.12 -3.67h4.24zM311.8 541.5l-2.12 -3.67h4.24zM318.9 546.1l2.12 3.67h-4.24zM281 439.1l-2.12 -3.67h4.24zM326 516.9l-2.12 -3.67h4.24zM285.8 423.3l2.12 3.67h-4.24zM337.8 513.4l2.12 3.67h-4.24zM297.6 435l-2.13 -3.68h4.25zM311.8 451.9l2.12 3.67h-4.24zM326 476.5l2.12 3.67h-4.24zM337.8 504.6l-2.13 -3.68h4.25zM307 435.6l2.13 3.68h-4.25zM337.8 488.8l2.13 3.68h-4.25zM318.9 447.3l-2.12 -3.67h4.24zM337.8 480l-2.12 -3.67h4.24z"/><path fill="#ffcb97" d="M200.7 513.4l2.13 3.69h-4.26zM217.2 542l2.13 3.69h-4.26zM200.7 480l-2.13 -3.69h4.26zM250.3 566l-2.13 -3.69h4.26zM217.2 451.4l-2.13 -3.69h4.26zM283.4 566l-2.13 -3.69h4.26zM250.3 427.4l2.13 3.69h-4.26zM316.5 542l2.13 3.69h-4.26zM283.4 427.4l2.13 3.69h-4.26zM333 513.4l2.13 3.69h-4.26zM316.5 451.4l-2.13 -3.69h4.26zM333 480l-2.13 -3.69h4.26z"/><path fill="#ffc387" d="M205.4 521l-2.15 -3.73h4.31zM217.2 541.5l-2.15 -3.73h4.31zM205.4 472.4l2.15 3.73h-4.31zM255 558.4l2.15 3.73h-4.31zM217.2 451.9l2.15 3.73h-4.31zM278.7 558.4l2.15 3.73h-4.31zM255 435l-2.15 -3.73h4.31zM316.5 541.5l-2.15 -3.73h4.31zM278.7 435l-2.15 -3.73h4.31zM328.3 521l-2.15 -3.73h4.31zM316.5 451.9l2.15 3.73h-4.31zM328.3 472.4l2.15 3.73h-4.31z"/><path fill="#ffbf80" d="M193.6 501l2.16 3.74h-4.32zM224.3 554.3l2.16 3.74h-4.32zM193.6 492.4l-2.16 -3.74h4.32zM236.1 566.1l-2.16 -3.74h4.32zM224.3 439.1l-2.16 -3.74h4.32zM297.6 566.1l-2.16 -3.74h4.32zM236.1 427.3l2.16 3.74h-4.32zM309.4 554.3l2.16 3.74h-4.32zM297.6 427.3l2.16 3.74h-4.32zM340.1 501l2.16 3.74h-4.32zM309.4 439.1l-2.16 -3.74h4.32zM340.1 492.4l-2.16 -3.74h4.32z"/><path fill="#ffbb78" d="M191.2 504.7l-2.17 -3.75h4.34zM224.3 562l-2.17 -3.75h4.34zM191.2 488.7l2.17 3.75h-4.34zM203 516.9l-2.17 -3.75h4.34zM219.6 545.6l-2.17 -3.75h4.34zM233.8 562.4l2.17 3.75h-4.34zM203 476.5l2.17 3.75h-4.34zM250.3 558.4l2.17 3.75h-4.34zM219.6 447.8l2.17 3.75h-4.34zM283.4 558.4l2.17 3.75h-4.34zM224.3 431.4l2.17 3.75h-4.34zM299.9 562.4l2.17 3.75h-4.34zM233.8 431l-2.17 -3.75h4.34zM309.4 562l-2.17 -3.75h4.34zM250.3 435l-2.17 -3.75h4.34zM314.1 545.6l-2.17 -3.75h4.34zM283.4 435l-2.17 -3.75h4.34zM330.7 516.9l-2.17 -3.75h4.34zM299.9 431l-2.17 -3.75h4.34zM314.1 447.8l2.17 3.75h-4.34zM330.7 476.5l2.17 3.75h-4.34zM342.5 504.7l-2.17 -3.75h4.34zM309.4 431.4l2.17 3.75h-4.34zM342.5 488.7l2.17 3.75h-4.34z"/><path fill="#ffb770" d="M205.4 521.5l2.18 3.77h-4.35zM212.5 533.8l2.18 3.77h-4.35zM210.1 529.2l-2.18 -3.77h4.35zM212.5 533.3l-2.18 -3.77h4.35zM205.4 471.9l-2.18 -3.77h4.35zM259.8 566.1l-2.18 -3.77h4.35zM210.1 464.2l2.18 3.77h-4.35zM264.5 558.3l2.18 3.77h-4.35zM212.5 460.1l2.18 3.77h-4.35zM269.2 558.3l2.18 3.77h-4.35zM212.5 459.6l-2.18 -3.77h4.35zM273.9 566.1l-2.18 -3.77h4.35zM259.8 427.3l2.18 3.77h-4.35zM321.2 533.8l2.18 3.77h-4.35zM264.5 435.1l-2.18 -3.77h4.35zM321.2 533.3l-2.18 -3.77h4.35zM269.2 435.1l-2.18 -3.77h4.35zM323.6 529.2l-2.18 -3.77h4.35zM273.9 427.3l2.18 3.77h-4.35zM328.3 521.5l2.18 3.77h-4.35zM321.2 460.1l2.18 3.77h-4.35zM323.6 464.2l2.18 3.77h-4.35zM321.2 459.6l-2.18 -3.77h4.35zM328.3 471.9l-2.18 -3.77h4.35z"/><path fill="#ffb368" d="M191.2 513.3l2.18 3.77h-4.36zM212.5 550.1l2.18 3.77h-4.36zM191.2 480.1l-2.18 -3.77h4.36zM245.6 574.3l-2.18 -3.77h4.36zM212.5 443.3l-2.18 -3.77h4.36zM288.1 574.3l-2.18 -3.77h4.36zM245.6 419.1l2.18 3.77h-4.36zM321.2 550.1l2.18 3.77h-4.36zM288.1 419.1l2.18 3.77h-4.36zM342.5 513.3l2.18 3.77h-4.36zM321.2 443.3l-2.18 -3.77h4.36zM342.5 480.1l-2.18 -3.77h4.36z"/><path fill="#ffaf60" d="M200.7 512.9l-2.19 -3.8h4.39zM221.9 549.7l-2.19 -3.8h4.39zM200.7 480.5l2.19 3.8h-4.39zM245.6 558.3l2.19 3.8h-4.39zM221.9 443.7l2.19 3.8h-4.39zM288.1 558.3l2.19 3.8h-4.39zM245.6 435.1l-2.19 -3.8h4.39zM311.8 549.7l-2.19 -3.8h4.39zM288.1 435.1l-2.19 -3.8h4.39zM333 512.9l-2.19 -3.8h4.39zM311.8 443.7l2.19 3.8h-4.39zM333 480.5l2.19 3.8h-4.39z"/><path fill="#ffab58" d="M193.6 517.4l2.2 3.81h-4.4zM198.3 517.4l2.2 3.81h-4.4zM212.5 541.9l2.2 3.81h-4.4zM210.1 546l2.2 3.81h-4.4zM195.9 505.1l2.2 3.8h-4.39zM221.9 550.1l2.2 3.8h-4.39zM195.9 488.3l-2.2 -3.8h4.39zM240.8 566.1l-2.2 -3.8h4.39zM193.6 476l-2.2 -3.81h4.4zM250.3 574.3l-2.2 -3.81h4.4zM198.3 476l-2.2 -3.81h4.4zM252.7 570.2l-2.2 -3.81h4.4zM210.1 447.4l-2.2 -3.81h4.4zM212.5 451.5l-2.2 -3.81h4.4zM281 570.2l-2.2 -3.81h4.4zM283.4 574.3l-2.2 -3.81h4.4zM221.9 443.3l-2.2 -3.8h4.39zM292.9 566.1l-2.2 -3.8h4.39zM240.8 427.3l2.2 3.8h-4.39zM311.8 550.1l2.2 3.8h-4.39zM250.3 419.1l2.2 3.81h-4.4zM252.7 423.2l2.2 3.81h-4.4zM321.2 541.9l2.2 3.81h-4.4zM323.6 546l2.2 3.81h-4.4zM281 423.2l2.2 3.81h-4.4zM335.4 517.4l2.2 3.81h-4.4zM283.4 419.1l2.2 3.81h-4.4zM340.1 517.4l2.2 3.81h-4.4zM292.9 427.3l2.2 3.8h-4.39zM337.8 505.1l2.2 3.8h-4.39zM311.8 443.3l-2.2 -3.8h4.39zM337.8 488.3l-2.2 -3.8h4.39zM321.2 451.5l-2.2 -3.81h4.4zM335.4 476l-2.2 -3.81h4.4zM323.6 447.4l-2.2 -3.81h4.4zM340.1 476l-2.2 -3.81h4.4z"/><path fill="#ffa348" d="M191.2 505.1l2.21 3.83h-4.43zM219.6 554.2l2.21 3.83h-4.43zM191.2 496.9l2.21 3.83h-4.43zM226.7 558.3l2.21 3.83h-4.43zM191.2 496.5l-2.21 -3.83h4.43zM231.4 566.1l-2.21 -3.83h4.43zM191.2 488.3l-2.21 -3.83h4.43zM238.5 570.2l-2.21 -3.83h4.43zM219.6 439.2l-2.21 -3.83h4.43zM295.2 570.2l-2.21 -3.83h4.43zM226.7 435.1l-2.21 -3.83h4.43zM302.3 566.1l-2.21 -3.83h4.43zM231.4 427.3l2.21 3.83h-4.43zM307 558.3l2.21 3.83h-4.43zM238.5 423.2l2.21 3.83h-4.43zM314.1 554.2l2.21 3.83h-4.43zM295.2 423.2l2.21 3.83h-4.43zM342.5 505.1l2.21 3.83h-4.43zM302.3 427.3l2.21 3.83h-4.43zM342.5 496.9l2.21 3.83h-4.43zM307 435.1l-2.21 -3.83h4.43zM342.5 496.5l-2.21 -3.83h4.43zM314.1 439.2l-2.21 -3.83h4.43zM342.5 488.3l-2.21 -3.83h4.43z"/><path fill="#ff9f40" d="M198.3 525.5l2.22 3.84h-4.44zM205.4 537.8l2.22 3.84h-4.44zM193.6 492.8l2.22 3.85h-4.44zM193.6 500.6l-2.22 -3.85h4.44zM229 562.1l-2.22 -3.85h4.44zM231.4 558.3l2.22 3.85h-4.44zM198.3 467.9l-2.22 -3.84h4.44zM259.8 574.3l-2.22 -3.84h4.44zM205.4 455.6l-2.22 -3.84h4.44zM273.9 574.3l-2.22 -3.84h4.44zM229 431.3l2.22 3.85h-4.44zM302.3 558.3l2.22 3.85h-4.44zM231.4 435.1l-2.22 -3.85h4.44zM304.7 562.1l-2.22 -3.85h4.44zM259.8 419.1l2.22 3.84h-4.44zM328.3 537.8l2.22 3.84h-4.44zM273.9 419.1l2.22 3.84h-4.44zM335.4 525.5l2.22 3.84h-4.44zM302.3 435.1l-2.22 -3.85h4.44zM304.7 431.3l2.22 3.85h-4.44zM340.1 492.8l2.22 3.85h-4.44zM340.1 500.6l-2.22 -3.85h4.44zM328.3 455.6l-2.22 -3.84h4.44zM335.4 467.9l-2.22 -3.84h4.44z"/><path fill="#ff9328" d="M184.1 500.9l2.24 3.88h-4.48zM219.6 562.4l2.24 3.88h-4.48zM184.1 492.5l-2.24 -3.88h4.48zM231.4 574.4l-2.24 -3.88h4.48zM219.6 431l-2.24 -3.88h4.48zM302.3 574.4l-2.24 -3.88h4.48zM231.4 419l2.24 3.88h-4.48zM314.1 562.4l2.24 3.88h-4.48zM302.3 419l2.24 3.88h-4.48zM349.6 500.9l2.24 3.88h-4.48zM314.1 431l-2.24 -3.88h4.48zM349.6 492.5l-2.24 -3.88h4.48z"/><path fill="#ff8f20" d="M195.9 521.1l-2.25 -3.89h4.49zM195.9 521.4l2.25 3.89h-4.5zM207.7 541.9l2.25 3.89h-4.5zM212.5 549.8l-2.25 -3.89h4.49zM193.6 508.8l-2.25 -3.89h4.49zM221.9 558l-2.25 -3.89h4.49zM193.6 484.6l2.25 3.89h-4.49zM238.5 562.4l2.25 3.89h-4.49zM195.9 472.3l2.25 3.89h-4.49zM250.3 566.5l2.25 3.89h-4.49zM195.9 472l-2.25 -3.89h4.5zM255 574.4l-2.25 -3.89h4.5zM207.7 451.5l-2.25 -3.89h4.5zM278.7 574.4l-2.25 -3.89h4.5zM212.5 443.6l2.25 3.89h-4.49zM283.4 566.5l2.25 3.89h-4.49zM221.9 435.4l2.25 3.89h-4.49zM295.2 562.4l2.25 3.89h-4.49zM238.5 431l-2.25 -3.89h4.49zM311.8 558l-2.25 -3.89h4.49zM250.3 426.9l-2.25 -3.89h4.49zM321.2 549.8l-2.25 -3.89h4.49zM255 419l2.25 3.89h-4.5zM326 541.9l2.25 3.89h-4.5zM278.7 419l2.25 3.89h-4.5zM337.8 521.4l2.25 3.89h-4.5zM283.4 426.9l-2.25 -3.89h4.49zM337.8 521.1l-2.25 -3.89h4.49zM295.2 431l-2.25 -3.89h4.49zM340.1 508.8l-2.25 -3.89h4.49zM311.8 435.4l2.25 3.89h-4.49zM340.1 484.6l2.25 3.89h-4.49zM321.2 443.6l2.25 3.89h-4.49zM337.8 472.3l2.25 3.89h-4.49zM326 451.5l-2.25 -3.89h4.5zM337.8 472l-2.25 -3.89h4.5z"/><path fill="#ff8b18" d="M188.8 509.1l2.25 3.9h-4.5zM214.8 554.2l2.25 3.9h-4.5zM188.8 484.3l-2.25 -3.9h4.5zM240.8 574.4l-2.25 -3.9h4.5zM214.8 439.2l-2.25 -3.9h4.5zM292.9 574.4l-2.25 -3.9h4.5zM240.8 419l2.25 3.9h-4.5zM318.9 554.2l2.25 3.9h-4.5zM292.9 419l2.25 3.9h-4.5zM344.9 509.1l2.25 3.9h-4.5zM318.9 439.2l-2.25 -3.9h4.5zM344.9 484.3l-2.25 -3.9h4.5z"/><path fill="#ff8710" d="M195.9 513l-2.26 -3.91h4.52zM219.6 553.9l-2.26 -3.91h4.52zM195.9 480.4l2.26 3.91h-4.52zM243.2 562.3l2.26 3.91h-4.52zM219.6 439.5l2.26 3.91h-4.52zM290.5 562.3l2.26 3.91h-4.52zM243.2 431.1l-2.26 -3.91h4.52zM314.1 553.9l-2.26 -3.91h4.52zM290.5 431.1l-2.26 -3.91h4.52zM337.8 513l-2.26 -3.91h4.52zM314.1 439.5l2.26 3.91h-4.52zM337.8 480.4l2.26 3.91h-4.52z"/><path fill="#ff7c00" d="M186.5 505l2.27 3.94h-4.55zM203 533.5l-2.28 -3.95h4.56zM205.4 537.6l-2.28 -3.95h4.56zM217.2 558.2l2.27 3.94h-4.55zM203 525.3l-2.28 -3.95h4.56zM205.4 529.4l-2.27 -3.94h4.55zM207.7 533.5l-2.28 -3.94h4.55zM210.1 537.5l-2.27 -3.94h4.55zM212.5 541.6l-2.28 -3.95h4.56zM186.5 488.4l-2.27 -3.94h4.55zM236.1 574.4l-2.27 -3.94h4.55zM203 468.1l2.28 3.95h-4.56zM257.4 562.3l2.28 3.95h-4.56zM203 459.9l2.28 3.95h-4.56zM205.4 464l2.27 3.94h-4.55zM262.1 562.3l2.27 3.94h-4.55zM264.5 566.4l2.28 3.95h-4.56zM205.4 455.8l2.28 3.95h-4.56zM207.7 459.9l2.28 3.94h-4.55zM266.9 562.3l2.28 3.94h-4.55zM269.2 566.4l2.28 3.95h-4.56zM210.1 455.9l2.27 3.94h-4.55zM271.6 562.3l2.27 3.94h-4.55zM212.5 451.8l2.28 3.95h-4.56zM276.3 562.3l2.28 3.95h-4.56zM217.2 435.2l-2.27 -3.94h4.55zM297.6 574.4l-2.27 -3.94h4.55zM236.1 419l2.27 3.94h-4.55zM316.5 558.2l2.27 3.94h-4.55zM257.4 431.1l-2.28 -3.95h4.56zM321.2 541.6l-2.28 -3.95h4.56zM262.1 431.1l-2.27 -3.94h4.55zM323.6 537.5l-2.27 -3.94h4.55zM264.5 427l-2.28 -3.95h4.56zM266.9 431.1l-2.28 -3.94h4.55zM326 533.5l-2.28 -3.94h4.55zM328.3 537.6l-2.28 -3.95h4.56zM269.2 427l-2.28 -3.95h4.56zM271.6 431.1l-2.27 -3.94h4.55zM328.3 529.4l-2.27 -3.94h4.55zM330.7 533.5l-2.28 -3.95h4.56zM276.3 431.1l-2.28 -3.95h4.56zM330.7 525.3l-2.28 -3.95h4.56zM297.6 419l2.27 3.94h-4.55zM347.2 505l2.27 3.94h-4.55zM321.2 451.8l2.28 3.95h-4.56zM323.6 455.9l2.27 3.94h-4.55zM326 459.9l2.28 3.94h-4.55zM328.3 464l2.27 3.94h-4.55zM330.7 468.1l2.28 3.95h-4.56zM328.3 455.8l2.28 3.95h-4.56zM330.7 459.9l2.28 3.95h-4.56zM316.5 435.2l-2.27 -3.94h4.55zM347.2 488.4l-2.27 -3.94h4.55z"/><path fill="#ff7800" d="M191.2 513l-2.28 -3.95h4.56zM205.4 529.6l2.28 3.95h-4.57zM217.2 558l-2.28 -3.95h4.56zM198.3 517.1l-2.28 -3.95h4.56zM217.2 549.8l-2.28 -3.95h4.56zM191.2 480.4l2.28 3.95h-4.56zM240.8 566.4l2.28 3.95h-4.56zM198.3 476.3l2.28 3.95h-4.56zM247.9 562.3l2.28 3.95h-4.56zM205.4 463.8l-2.28 -3.95h4.57zM266.9 570.3l-2.28 -3.95h4.57zM217.2 443.6l2.28 3.95h-4.56zM285.8 562.3l2.28 3.95h-4.56zM217.2 435.4l2.28 3.95h-4.56zM292.9 566.4l2.28 3.95h-4.56zM240.8 427l-2.28 -3.95h4.56zM316.5 558l-2.28 -3.95h4.56zM247.9 431.1l-2.28 -3.95h4.56zM316.5 549.8l-2.28 -3.95h4.56zM266.9 423.1l2.28 3.95h-4.57zM328.3 529.6l2.28 3.95h-4.57zM285.8 431.1l-2.28 -3.95h4.56zM335.4 517.1l-2.28 -3.95h4.56zM292.9 427l-2.28 -3.95h4.56zM342.5 513l-2.28 -3.95h4.56zM316.5 443.6l2.28 3.95h-4.56zM335.4 476.3l2.28 3.95h-4.56zM316.5 435.4l2.28 3.95h-4.56zM328.3 463.8l-2.28 -3.95h4.57zM342.5 480.4l2.28 3.95h-4.56z"/><path fill="#ff7400" d="M200.7 521.2l-2.28 -3.96h4.57zM214.8 545.7l-2.28 -3.96h4.57zM200.7 472.2l2.28 3.96h-4.57zM252.7 562.3l2.28 3.96h-4.57zM214.8 447.7l2.28 3.96h-4.57zM281 562.3l2.28 3.96h-4.57zM252.7 431.1l-2.28 -3.96h4.57zM318.9 545.7l-2.28 -3.96h4.57zM281 431.1l-2.28 -3.96h4.57zM333 521.2l-2.28 -3.96h4.57zM318.9 447.7l2.28 3.96h-4.57zM333 472.2l2.28 3.96h-4.57z"/><path fill="#ff7000" d="M203 525.4l2.29 3.97h-4.59zM207.7 533.6l2.29 3.97h-4.59zM203 468l-2.29 -3.97h4.59zM262.1 570.3l-2.29 -3.97h4.59zM207.7 459.8l-2.29 -3.97h4.59zM271.6 570.3l-2.29 -3.97h4.59zM262.1 423.1l2.29 3.97h-4.59zM326 533.6l2.29 3.97h-4.59zM271.6 423.1l2.29 3.97h-4.59zM330.7 525.4l2.29 3.97h-4.59zM326 459.8l-2.29 -3.97h4.59zM330.7 468l-2.29 -3.97h4.59z"/><path fill="#ff6400" d="M193.6 509l2.31 4h-4.62zM217.2 550l2.31 4h-4.62zM193.6 484.4l-2.31 -4h4.62zM243.2 570.3l-2.31 -4h4.62zM217.2 443.4l-2.31 -4h4.62zM290.5 570.3l-2.31 -4h4.62zM243.2 423.1l2.31 4h-4.62zM316.5 550l2.31 4h-4.62zM290.5 423.1l2.31 4h-4.62zM340.1 509l2.31 4h-4.62zM316.5 443.4l-2.31 -4h4.62zM340.1 484.4l-2.31 -4h4.62z"/><path fill="#f84c00" d="M188.8 492.6l2.34 4.05h-4.68zM188.8 500.8l-2.34 -4.05h4.68zM226.7 566.3l-2.34 -4.05h4.68zM229 562.3l2.34 4.05h-4.68zM226.7 427.1l2.34 4.05h-4.68zM304.7 562.3l2.34 4.05h-4.68zM229 431.1l-2.34 -4.05h4.68zM307 566.3l-2.34 -4.05h4.68zM304.7 431.1l-2.34 -4.05h4.68zM307 427.1l2.34 4.05h-4.68zM344.9 492.6l2.34 4.05h-4.68zM344.9 500.8l-2.34 -4.05h4.68z"/><path fill="#f24400" d="M188.8 500.8l2.35 4.07h-4.7zM221.9 558.1l2.35 4.07h-4.7zM188.8 492.6l-2.35 -4.07h4.7zM233.8 570.4l-2.35 -4.07h4.7zM221.9 435.3l-2.35 -4.07h4.7zM299.9 570.4l-2.35 -4.07h4.7zM233.8 423l2.35 4.07h-4.7zM311.8 558.1l2.35 4.07h-4.7zM299.9 423l2.35 4.07h-4.7zM344.9 500.8l2.35 4.07h-4.7zM311.8 435.3l-2.35 -4.07h4.7zM344.9 492.6l-2.35 -4.07h4.7z"/><path fill="#ec3c00" d="M186.5 496.7l2.36 4.09h-4.72zM224.3 562.2l2.36 4.09h-4.72zM186.5 496.7l-2.36 -4.09h4.72zM229 570.4l-2.36 -4.09h4.72zM224.3 431.2l-2.36 -4.09h4.72zM304.7 570.4l-2.36 -4.09h4.72zM229 423l2.36 4.09h-4.72zM309.4 562.2l2.36 4.09h-4.72zM304.7 423l2.36 4.09h-4.72zM347.2 496.7l2.36 4.09h-4.72zM309.4 431.2l-2.36 -4.09h4.72zM347.2 496.7l-2.36 -4.09h4.72z"/><path fill="#da2400" d="M193.6 517.2l-2.39 -4.14h4.78zM214.8 554.1l-2.39 -4.14h4.78zM193.6 476.2l2.39 4.14h-4.78zM245.6 566.3l2.39 4.14h-4.78zM214.8 439.3l2.39 4.14h-4.78zM288.1 566.3l2.39 4.14h-4.78zM245.6 427.1l-2.39 -4.14h4.78zM318.9 554.1l-2.39 -4.14h4.78zM288.1 427.1l-2.39 -4.14h4.78zM340.1 517.2l-2.39 -4.14h4.78zM318.9 439.3l2.39 4.14h-4.78zM340.1 476.2l2.39 4.14h-4.78z"/><path fill="#d72000" d="M198.3 525.4l-2.39 -4.14h4.78zM210.1 545.9l-2.39 -4.14h4.78zM198.3 468l2.39 4.14h-4.78zM255 566.3l2.39 4.14h-4.78zM210.1 447.5l2.39 4.14h-4.78zM278.7 566.3l2.39 4.14h-4.78zM255 427.1l-2.39 -4.14h4.78zM323.6 545.9l-2.39 -4.14h4.78zM278.7 427.1l-2.39 -4.14h4.78zM335.4 525.4l-2.39 -4.14h4.78zM323.6 447.5l2.39 4.14h-4.78zM335.4 468l2.39 4.14h-4.78z"/><path fill="#cb1000" d="M186.5 504.9l-2.41 -4.17h4.82zM221.9 566.4l-2.41 -4.17h4.82zM186.5 488.5l2.41 4.17h-4.82zM231.4 566.3l2.41 4.17h-4.82zM221.9 427l2.41 4.17h-4.82zM302.3 566.3l2.41 4.17h-4.82zM231.4 427.1l-2.41 -4.17h4.82zM311.8 566.4l-2.41 -4.17h4.82zM302.3 427.1l-2.41 -4.17h4.82zM347.2 504.9l-2.41 -4.17h4.82zM311.8 427l2.41 4.17h-4.82zM347.2 488.5l2.41 4.17h-4.82z"/><path fill="#bf0000" d="M188.8 509.1l-2.43 -4.21h4.86zM219.6 562.3l-2.43 -4.21h4.86zM188.8 484.3l2.43 4.21h-4.86zM236.1 566.2l2.43 4.21h-4.86zM219.6 431.1l2.43 4.21h-4.86zM297.6 566.2l2.43 4.21h-4.86zM236.1 427.2l-2.43 -4.21h4.86zM314.1 562.3l-2.43 -4.21h4.86zM297.6 427.2l-2.43 -4.21h4.86zM344.9 509.1l-2.43 -4.21h4.86zM314.1 431.1l2.43 4.21h-4.86zM344.9 484.3l2.43 4.21h-4.86z"/><path fill="#bc0000" d="M191.2 521.3l-2.43 -4.21h4.86zM210.1 554.1l-2.43 -4.21h4.86zM191.2 472.1l2.43 4.21h-4.86zM247.9 570.3l2.43 4.21h-4.86zM210.1 439.3l2.43 4.21h-4.86zM285.8 570.3l2.43 4.21h-4.86zM247.9 423.1l-2.43 -4.21h4.86zM323.6 554.1l-2.43 -4.21h4.86zM285.8 423.1l-2.43 -4.21h4.86zM342.5 521.3l-2.43 -4.21h4.86zM323.6 439.3l2.43 4.21h-4.86zM342.5 472.1l2.43 4.21h-4.86z"/><path fill="#b30000" d="M181.7 496.8l-2.44 -4.23h4.88zM181.7 496.6l2.44 4.23h-4.88zM221.9 566.2l2.44 4.23h-4.88zM226.7 574.6l-2.44 -4.23h4.88zM221.9 427.2l-2.44 -4.23h4.88zM307 574.6l-2.44 -4.23h4.88zM226.7 418.8l2.44 4.23h-4.88zM311.8 566.2l2.44 4.23h-4.88zM307 418.8l2.44 4.23h-4.88zM352 496.6l2.44 4.23h-4.88zM311.8 427.2l-2.44 -4.23h4.88zM352 496.8l-2.44 -4.23h4.88z"/><path fill="#ad0000" d="M200.7 529.6l-2.45 -4.24h4.9zM207.7 541.8l-2.45 -4.24h4.9zM200.7 463.8l2.45 4.24h-4.9zM259.8 566.2l2.45 4.24h-4.9zM207.7 451.6l2.45 4.24h-4.9zM273.9 566.2l2.45 4.24h-4.9zM259.8 427.2l-2.45 -4.24h4.9zM326 541.8l-2.45 -4.24h4.9zM273.9 427.2l-2.45 -4.24h4.9zM333 529.6l-2.45 -4.24h4.9zM326 451.6l2.45 4.24h-4.9zM333 463.8l2.45 4.24h-4.9z"/><path fill="#8f0000" d="M184.1 509.1l-2.49 -4.31h4.98zM217.2 566.5l-2.49 -4.31h4.98zM184.1 484.3l2.49 4.31h-4.98zM233.8 570.3l2.49 4.31h-4.98zM217.2 426.9l2.49 4.31h-4.98zM299.9 570.3l2.49 4.31h-4.98zM233.8 423.1l-2.49 -4.31h4.98zM316.5 566.5l-2.49 -4.31h4.98zM299.9 423.1l-2.49 -4.31h4.98zM349.6 509.1l-2.49 -4.31h4.98zM316.5 426.9l2.49 4.31h-4.98zM349.6 484.3l2.49 4.31h-4.98z"/><path fill="#780000" d="M198.3 533.7l-2.52 -4.37h5.04zM203 541.9l-2.52 -4.37h5.04zM198.3 459.7l2.52 4.37h-5.04zM262.1 570.2l2.52 4.37h-5.04zM203 451.5l2.52 4.37h-5.04zM271.6 570.2l2.52 4.37h-5.04zM262.1 423.2l-2.52 -4.37h5.04zM330.7 541.9l-2.52 -4.37h5.04zM271.6 423.2l-2.52 -4.37h5.04zM335.4 533.7l-2.52 -4.37h5.04zM330.7 451.5l2.52 4.37h-5.04zM335.4 459.7l2.52 4.37h-5.04z"/><path fill="#360000" d="M188.8 517.4l-2.59 -4.49h5.18zM212.5 558.4l-2.59 -4.49h5.18zM188.8 476l2.59 4.49h-5.18zM243.2 570.1l2.59 4.49h-5.18zM212.5 435l2.59 4.49h-5.18zM290.5 570.1l2.59 4.49h-5.18zM243.2 423.3l-2.59 -4.49h5.18zM321.2 558.4l-2.59 -4.49h5.18zM290.5 423.3l-2.59 -4.49h5.18zM344.9 517.4l-2.59 -4.49h5.18zM321.2 435l2.59 4.49h-5.18zM344.9 476l2.59 4.49h-5.18z"/><path fill="#000000" d="M184.1 492.3l2.65 4.59h-5.3zM184.1 501.1l-2.65 -4.59h5.3zM179.4 501.1l-2.65 -4.59h5.3zM179.4 492.3l2.65 4.59h-5.3zM181.7 505.2l-2.65 -4.59h5.3zM186.5 513.4l-2.65 -4.59h5.3zM193.6 525.7l-2.65 -4.59h5.3zM195.9 529.8l-2.65 -4.59h5.3zM200.7 538l-2.65 -4.59h5.3zM205.4 546.2l-2.65 -4.59h5.3zM207.7 550.3l-2.65 -4.59h5.3zM214.8 562.5l-2.65 -4.59h5.3zM224.3 570.7l-2.65 -4.59h5.3zM219.6 570.7l-2.65 -4.59h5.3zM226.7 566l2.65 4.59h-5.3zM224.3 570.1l2.65 4.59h-5.3zM221.9 574.8l-2.65 -4.59h5.3zM181.7 488.2l2.65 4.59h-5.3zM229 570.1l2.65 4.59h-5.3zM186.5 480l2.65 4.59h-5.3zM238.5 570.1l2.65 4.59h-5.3zM193.6 467.7l2.65 4.59h-5.3zM252.7 570.1l2.65 4.59h-5.3zM195.9 463.6l2.65 4.59h-5.3zM257.4 570.1l2.65 4.59h-5.3zM200.7 455.4l2.65 4.59h-5.3zM266.9 570.1l2.65 4.59h-5.3zM205.4 447.2l2.65 4.59h-5.3zM276.3 570.1l2.65 4.59h-5.3zM207.7 443.1l2.65 4.59h-5.3zM281 570.1l2.65 4.59h-5.3zM214.8 430.9l2.65 4.59h-5.3zM295.2 570.1l2.65 4.59h-5.3zM224.3 422.7l2.65 4.59h-5.3zM219.6 422.7l2.65 4.59h-5.3zM307 566l2.65 4.59h-5.3zM304.7 570.1l2.65 4.59h-5.3zM224.3 423.3l-2.65 -4.59h5.3zM226.7 427.4l-2.65 -4.59h5.3zM221.9 418.6l2.65 4.59h-5.3zM309.4 570.7l-2.65 -4.59h5.3zM311.8 574.8l-2.65 -4.59h5.3zM309.4 570.1l2.65 4.59h-5.3zM229 423.3l-2.65 -4.59h5.3zM314.1 570.7l-2.65 -4.59h5.3zM238.5 423.3l-2.65 -4.59h5.3zM318.9 562.5l-2.65 -4.59h5.3zM252.7 423.3l-2.65 -4.59h5.3zM326 550.3l-2.65 -4.59h5.3zM257.4 423.3l-2.65 -4.59h5.3zM328.3 546.2l-2.65 -4.59h5.3zM266.9 423.3l-2.65 -4.59h5.3zM333 538l-2.65 -4.59h5.3zM276.3 423.3l-2.65 -4.59h5.3zM337.8 529.8l-2.65 -4.59h5.3zM281 423.3l-2.65 -4.59h5.3zM340.1 525.7l-2.65 -4.59h5.3zM295.2 423.3l-2.65 -4.59h5.3zM347.2 513.4l-2.65 -4.59h5.3zM304.7 423.3l-2.65 -4.59h5.3zM307 427.4l-2.65 -4.59h5.3zM309.4 422.7l2.65 4.59h-5.3zM349.6 492.3l2.65 4.59h-5.3zM349.6 501.1l-2.65 -4.59h5.3zM352 505.2l-2.65 -4.59h5.3zM309.4 423.3l-2.65 -4.59h5.3zM311.8 418.6l2.65 4.59h-5.3zM314.1 422.7l2.65 4.59h-5.3zM318.9 430.9l2.65 4.59h-5.3zM326 443.1l2.65 4.59h-5.3zM328.3 447.2l2.65 4.59h-5.3zM333 455.4l2.65 4.59h-5.3zM337.8 463.6l2.65 4.59h-5.3zM340.1 467.7l2.65 4.59h-5.3zM347.2 480l2.65 4.59h-5.3zM352 488.2l2.65 4.59h-5.3zM354.3 492.3l2.65 4.59h-5.3zM354.3 501.1l-2.65 -4.59h5.3z"/></g>
<g><rect x="2.6" y="492.6" width="60.6" height="60.2" fill="#fff"/><clipPath id="cpin"><rect x="3.1" y="493.1" width="59.6" height="59.2"/></clipPath><g clip-path="url(#cpin)" fill="none"><path d="M5.65 559.38L14.7 564.6M14.7 564.6L14.7 575.05M14.7 575.05L5.65 580.27M5.65 580.27L-3.4 575.05M-3.4 575.05L-3.4 564.6M-3.4 564.6L5.65 559.38M5.65 528.02L14.7 533.25M14.7 533.25L14.7 543.7M14.7 543.7L5.65 548.92M5.65 548.92L-3.4 543.7M-3.4 543.7L-3.4 533.25M-3.4 533.25L5.65 528.02M5.65 496.67L14.7 501.9M14.7 501.9L14.7 512.35M14.7 512.35L5.65 517.57M5.65 517.57L-3.4 512.35M-3.4 512.35L-3.4 501.9M-3.4 501.9L5.65 496.67M32.8 543.7L41.85 548.92M41.85 548.92L41.85 559.38M41.85 559.38L32.8 564.6M32.8 564.6L23.75 559.38M23.75 559.38L23.75 548.92M23.75 548.92L32.8 543.7M5.65 465.32L14.7 470.55M14.7 470.55L14.7 481M14.7 481L5.65 486.22M5.65 486.22L-3.4 481M-3.4 481L-3.4 470.55M-3.4 470.55L5.65 465.32M32.8 512.35L41.85 517.57M41.85 517.57L41.85 528.02M41.85 528.02L32.8 533.25M32.8 533.25L23.75 528.02M23.75 528.02L23.75 517.57M23.75 517.57L32.8 512.35M59.95 559.38L69 564.6M69 564.6L69 575.05M69 575.05L59.95 580.27M59.95 580.27L50.9 575.05M50.9 575.05L50.9 564.6M50.9 564.6L59.95 559.38M32.8 481L41.85 486.22M41.85 486.22L41.85 496.67M41.85 496.67L32.8 501.9M32.8 501.9L23.75 496.67M23.75 496.67L23.75 486.22M23.75 486.22L32.8 481M59.95 528.02L69 533.25M69 533.25L69 543.7M69 543.7L59.95 548.92M59.95 548.92L50.9 543.7M50.9 543.7L50.9 533.25M50.9 533.25L59.95 528.02M59.95 496.67L69 501.9M69 501.9L69 512.35M69 512.35L59.95 517.57M59.95 517.57L50.9 512.35M50.9 512.35L50.9 501.9M50.9 501.9L59.95 496.67M59.95 465.32L69 470.55M69 470.55L69 481M69 481L59.95 486.22M59.95 486.22L50.9 481M50.9 481L50.9 470.55M50.9 470.55L59.95 465.32" stroke="#ff8000" stroke-width="4.4"/><path d="M5.65 548.92l0 0.01M5.65 517.57L5.65 528.02M14.7 543.7L23.75 548.92M5.65 496.67l0 -0.01M14.7 512.35L23.75 517.57M23.75 528.02L14.7 533.25M32.8 533.25L32.8 543.7M23.75 496.67L14.7 501.9M32.8 501.9L32.8 512.35M41.85 528.02L50.9 533.25M50.9 543.7L41.85 548.92M59.95 548.92l0 0.01M41.85 496.67L50.9 501.9M50.9 512.35L41.85 517.57M59.95 517.57L59.95 528.02M59.95 496.67l0 -0.01" stroke="#000" stroke-width="5.5" stroke-linecap="round"/><polygon points="50.9,522.8 41.85,538.47 23.75,538.47 14.7,522.8 23.75,507.12 41.85,507.12" stroke="#000" stroke-width="0.7"/></g><rect x="2.6" y="492.6" width="60.6" height="60.2" fill="none" stroke="#a8a8a8" stroke-width="1"/></g>
<defs><linearGradient id="cb" x1="0" x2="1" y1="0" y2="0"><stop offset="0" stop-color="#ffffff"/><stop offset="0.05" stop-color="#ffe5cc"/><stop offset="0.1" stop-color="#ffcc99"/><stop offset="0.15" stop-color="#ffb266"/><stop offset="0.2" stop-color="#ff9933"/><stop offset="0.25" stop-color="#ff8000"/><stop offset="0.3" stop-color="#ff6600"/><stop offset="0.35" stop-color="#f94d00"/><stop offset="0.4" stop-color="#e53300"/><stop offset="0.45" stop-color="#d21a00"/><stop offset="0.5" stop-color="#bf0000"/><stop offset="0.55" stop-color="#ac0000"/><stop offset="0.6" stop-color="#990000"/><stop offset="0.65" stop-color="#860000"/><stop offset="0.7" stop-color="#730000"/><stop offset="0.75" stop-color="#600000"/><stop offset="0.8" stop-color="#4c0000"/><stop offset="0.85" stop-color="#390000"/><stop offset="0.9" stop-color="#260000"/><stop offset="0.95" stop-color="#130000"/><stop offset="1" stop-color="#000000"/></linearGradient></defs><rect x="30.45" y="570" width="115.85" height="14.85" fill="url(#cb)" stroke="#555" stroke-width="0.55"/><text x="30.45" y="591.8" font-family="'DejaVu Sans','Liberation Sans',sans-serif" font-size="6.9" text-anchor="middle" font-weight="bold">−Δ′</text><text x="88.38" y="591.8" font-family="'DejaVu Sans','Liberation Sans',sans-serif" font-size="6.9" text-anchor="middle" font-weight="bold">0</text><text x="146.3" y="591.8" font-family="'DejaVu Sans','Liberation Sans',sans-serif" font-size="6.9" text-anchor="middle" font-weight="bold">Δ′</text>
<g><clipPath id="cp39"><rect x="392.4" y="39.7" width="182.1" height="135.7"/></clipPath><g clip-path="url(#cp39)" fill="none" stroke-linejoin="round" stroke-linecap="square"><path d="M400.4 108.14L402.81 108.25L405.21 108.52L407.62 109.29L410.03 110.85L412.43 112.86L414.84 114.99L417.25 117.58L419.65 120.69L422.06 124.07L424.47 127.45L426.87 130.59L429.28 133.51L431.68 136.39L434.09 139.25L436.5 142.16L438.9 145.19L441.31 148.15L443.72 150.81L446.12 153.23L448.53 155.58L450.94 157.48L453.34 158.6L455.75 159.3L458.16 159.16L460.56 157.2L462.97 154.58L465.38 150.88L467.78 146.89L470.19 143.14L472.6 139.3L475 135.91L477.41 133.4L479.82 131.38L482.22 129.24L484.63 126.42L487.03 122.89L489.44 118.99L491.85 115.08L494.25 111.2L496.66 107.17L499.07 103.29L501.47 99.85L503.88 96.77L506.29 93.93L508.69 91.24L511.1 88.62L513.51 86.14L515.91 84.19L518.32 82.54L520.73 81.09L523.13 79.85L525.54 78.81L527.95 77.86L530.35 76.98L532.76 76.17L535.17 75.45L537.57 74.83L539.98 74.33L542.38 73.96L544.79 73.62L547.2 73.29L549.6 72.99L552.01 72.71L554.42 72.45L556.82 72.24L559.23 72.06L561.64 71.93L564.04 71.84L566.45 71.82M400.4 71.82L402.81 71.84L405.21 71.93L407.62 72.06L410.03 72.24L412.43 72.45L414.84 72.71L417.25 72.99L419.65 73.29L422.06 73.62L424.47 73.96L426.87 74.33L429.28 74.83L431.68 75.45L434.09 76.17L436.5 76.98L438.9 77.86L441.31 78.81L443.72 79.85L446.12 81.09L448.53 82.54L450.94 84.19L453.34 86.14L455.75 88.62L458.16 91.24L460.56 93.93L462.97 96.77L465.38 99.85L467.78 103.29L470.19 107.17L472.6 111.2L475 115.08L477.41 118.99L479.82 122.89L482.22 126.42L484.63 129.24L487.03 131.38L489.44 133.4L491.85 135.91L494.25 139.3L496.66 143.14L499.07 146.89L501.47 150.88L503.88 154.58L506.29 157.2L508.69 159.16L511.1 159.3L513.51 158.6L515.91 157.48L518.32 155.58L520.73 153.23L523.13 150.81L525.54 148.15L527.95 145.19L530.35 142.16L532.76 139.25L535.17 136.39L537.57 133.51L539.98 130.59L542.38 127.45L544.79 124.07L547.2 120.69L549.6 117.58L552.01 114.99L554.42 112.86L556.82 110.85L559.23 109.29L561.64 108.52L564.04 108.25L566.45 108.14M400.4 107.69L402.81 105.76L405.21 104.44L407.62 103.74L410.03 103.68L412.43 104.43L414.84 105.72L417.25 107.23L419.65 108.88L422.06 111L424.47 113.36L426.87 115.71L429.28 118.06L431.68 120.48L434.09 122.92L436.5 125.35L438.9 127.83L441.31 130.27L443.72 132.56L446.12 134.73L448.53 136.83L450.94 138.69L453.34 140.12L455.75 141.36L458.16 142.41L460.56 143.13L462.97 143.47L465.38 143.59L467.78 142.82L470.19 141.11L472.6 138.99L475 136.98L477.41 135L479.82 132.86L482.22 130.58L484.63 128.18L487.03 125.54L489.44 122.81L491.85 120.15L494.25 117.69L496.66 115.32L499.07 112.94L501.47 110.46L503.88 107.8L506.29 105.09L508.69 102.48L511.1 100.11L513.51 97.9L515.91 95.78L518.32 93.73L520.73 91.66L523.13 89.61L525.54 87.75L527.95 86.21L530.35 84.8L532.76 83.47L535.17 82.26L537.57 81.22L539.98 80.38L542.38 79.76L544.79 79.22L547.2 78.7L549.6 78.21L552.01 77.76L554.42 77.36L556.82 77.01L559.23 76.73L561.64 76.52L564.04 76.38L566.45 76.34M400.4 76.34L402.81 76.38L405.21 76.52L407.62 76.73L410.03 77.01L412.43 77.36L414.84 77.76L417.25 78.21L419.65 78.7L422.06 79.22L424.47 79.76L426.87 80.38L429.28 81.22L431.68 82.26L434.09 83.47L436.5 84.8L438.9 86.21L441.31 87.75L443.72 89.61L446.12 91.66L448.53 93.73L450.94 95.78L453.34 97.9L455.75 100.11L458.16 102.48L460.56 105.09L462.97 107.8L465.38 110.46L467.78 112.94L470.19 115.32L472.6 117.69L475 120.15L477.41 122.81L479.82 125.54L482.22 128.18L484.63 130.58L487.03 132.86L489.44 135L491.85 136.98L494.25 138.99L496.66 141.11L499.07 142.82L501.47 143.59L503.88 143.47L506.29 143.13L508.69 142.41L511.1 141.36L513.51 140.12L515.91 138.69L518.32 136.83L520.73 134.73L523.13 132.56L525.54 130.27L527.95 127.83L530.35 125.35L532.76 122.92L535.17 120.48L537.57 118.06L539.98 115.71L542.38 113.36L544.79 111L547.2 108.88L549.6 107.23L552.01 105.72L554.42 104.43L556.82 103.68L559.23 103.74L561.64 104.44L564.04 105.76L566.45 107.69M400.4 107.32L402.81 105.39L405.21 104.07L407.62 103.37L410.03 103.3L412.43 104.04L414.84 105.32L417.25 106.82L419.65 108.45L422.06 110.55L424.47 112.9L426.87 115.22L429.28 117.55L431.68 119.95L434.09 122.37L436.5 124.77L438.9 127.23L441.31 129.65L443.72 131.91L446.12 134.05L448.53 136.13L450.94 137.97L453.34 139.38L455.75 140.59L458.16 141.62L460.56 142.32L462.97 142.64L465.38 142.75L467.78 141.96L470.19 140.24L472.6 138.11L475 136.08L477.41 134.1L479.82 131.95L482.22 129.67L484.63 127.27L487.03 124.64L489.44 121.91L491.85 119.26L494.25 116.81L496.66 114.45L499.07 112.08L501.47 109.62L503.88 106.98L506.29 104.28L508.69 101.69L511.1 99.34L513.51 97.15L515.91 95.06L518.32 93.03L520.73 90.98L523.13 88.95L525.54 87.12L527.95 85.61L530.35 84.22L532.76 82.92L535.17 81.73L537.57 80.71L539.98 79.89L542.38 79.3L544.79 78.77L547.2 78.27L549.6 77.79L552.01 77.36L554.42 76.97L556.82 76.63L559.23 76.36L561.64 76.15L564.04 76.02L566.45 75.98M400.4 75.98L402.81 76.02L405.21 76.15L407.62 76.36L410.03 76.63L412.43 76.97L414.84 77.36L417.25 77.79L419.65 78.27L422.06 78.77L424.47 79.3L426.87 79.89L429.28 80.71L431.68 81.73L434.09 82.92L436.5 84.22L438.9 85.61L441.31 87.12L443.72 88.95L446.12 90.98L448.53 93.03L450.94 95.06L453.34 97.15L455.75 99.34L458.16 101.69L460.56 104.28L462.97 106.98L465.38 109.62L467.78 112.08L470.19 114.45L472.6 116.81L475 119.26L477.41 121.91L479.82 124.64L482.22 127.27L484.63 129.67L487.03 131.95L489.44 134.1L491.85 136.08L494.25 138.11L496.66 140.24L499.07 141.96L501.47 142.75L503.88 142.64L506.29 142.32L508.69 141.62L511.1 140.59L513.51 139.38L515.91 137.97L518.32 136.13L520.73 134.05L523.13 131.91L525.54 129.65L527.95 127.23L530.35 124.77L532.76 122.37L535.17 119.95L537.57 117.55L539.98 115.22L542.38 112.9L544.79 110.55L547.2 108.45L549.6 106.82L552.01 105.32L554.42 104.04L556.82 103.3L559.23 103.37L561.64 104.07L564.04 105.39L566.45 107.32M400.4 91.27L402.81 91.6L405.21 92.1L407.62 92.72L410.03 93.42L412.43 94.29L414.84 95.44L417.25 96.73L419.65 98.05L422.06 99.27L424.47 100.45L426.87 101.61L429.28 102.79L431.68 103.99L434.09 105.24L436.5 106.56L438.9 107.93L441.31 109.38L443.72 110.88L446.12 112.5L448.53 114.24L450.94 115.97L453.34 117.57L455.75 119.1L458.16 120.56L460.56 121.91L462.97 123.15L465.38 124.33L467.78 125.39L470.19 126.23L472.6 126.9L475 127.48L477.41 127.93L479.82 128.23L482.22 128.43L484.63 128.43L487.03 128.23L489.44 127.93L491.85 127.48L494.25 126.9L496.66 126.23L499.07 125.39L501.47 124.33L503.88 123.15L506.29 121.91L508.69 120.56L511.1 119.1L513.51 117.57L515.91 115.97L518.32 114.24L520.73 112.5L523.13 110.88L525.54 109.38L527.95 107.93L530.35 106.56L532.76 105.24L535.17 103.99L537.57 102.79L539.98 101.61L542.38 100.45L544.79 99.27L547.2 98.05L549.6 96.73L552.01 95.44L554.42 94.29L556.82 93.42L559.23 92.72L561.64 92.1L564.04 91.6L566.45 91.27M400.4 90.95L402.81 91.28L405.21 91.77L407.62 92.38L410.03 93.06L412.43 93.91L414.84 95.02L417.25 96.28L419.65 97.56L422.06 98.74L424.47 99.87L426.87 100.98L429.28 102.1L431.68 103.25L434.09 104.44L436.5 105.7L438.9 107.02L441.31 108.4L443.72 109.84L446.12 111.4L448.53 113.08L450.94 114.75L453.34 116.29L455.75 117.77L458.16 119.18L460.56 120.48L462.97 121.67L465.38 122.81L467.78 123.83L470.19 124.64L472.6 125.28L475 125.84L477.41 126.27L479.82 126.56L482.22 126.76L484.63 126.76L487.03 126.56L489.44 126.27L491.85 125.84L494.25 125.28L496.66 124.64L499.07 123.83L501.47 122.81L503.88 121.67L506.29 120.48L508.69 119.18L511.1 117.77L513.51 116.29L515.91 114.75L518.32 113.08L520.73 111.4L523.13 109.84L525.54 108.4L527.95 107.02L530.35 105.7L532.76 104.44L535.17 103.25L537.57 102.1L539.98 100.98L542.38 99.87L544.79 98.74L547.2 97.56L549.6 96.28L552.01 95.02L554.42 93.91L556.82 93.06L559.23 92.38L561.64 91.77L564.04 91.28L566.45 90.95M400.4 86.74L403.21 86.91L406.03 87.19L408.84 87.57L411.66 88.03L414.47 88.54L417.29 89.09L420.1 89.78L422.92 90.65L425.73 91.68L428.54 92.82L431.36 94.04L434.17 95.29L436.99 96.54L439.8 97.75L442.62 98.93L445.43 100.13L448.24 101.36L451.06 102.64L453.87 103.98L456.69 105.41L459.5 107.04L462.32 108.89L465.13 110.59L467.95 111.94L470.76 113.18L473.57 114.12L476.39 114.66L479.2 115.08L482.02 115.34L484.83 115.34L487.65 115.08L490.46 114.66L493.28 114.12L496.09 113.18L498.9 111.94L501.72 110.59L504.53 108.89L507.35 107.04L510.16 105.41L512.98 103.98L515.79 102.64L518.61 101.36L521.42 100.13L524.23 98.93L527.05 97.75L529.86 96.54L532.68 95.29L535.49 94.04L538.31 92.82L541.12 91.68L543.93 90.65L546.75 89.78L549.56 89.09L552.38 88.54L555.19 88.03L558.01 87.57L560.82 87.19L563.64 86.91L566.45 86.74M400.4 85.1L403.21 85.42L406.03 85.8L408.84 86.23L411.66 86.7L414.47 87.23L417.29 87.92L420.1 88.74L422.92 89.67L425.73 90.68L428.54 91.74L431.36 92.82L434.17 93.9L436.99 94.93L439.8 95.95L442.62 96.98L445.43 98.03L448.24 99.13L451.06 100.27L453.87 101.48L456.69 102.79L459.5 104.34L462.32 105.91L465.13 107.22L467.95 108.35L470.76 109.35L473.57 110.06L476.39 110.49L479.2 110.84L482.02 111.05L484.83 111.05L487.65 110.84L490.46 110.49L493.28 110.06L496.09 109.35L498.9 108.35L501.72 107.22L504.53 105.91L507.35 104.34L510.16 102.79L512.98 101.48L515.79 100.27L518.61 99.13L521.42 98.03L524.23 96.98L527.05 95.95L529.86 94.93L532.68 93.9L535.49 92.82L538.31 91.74L541.12 90.68L543.93 89.67L546.75 88.74L549.56 87.92L552.38 87.23L555.19 86.7L558.01 86.23L560.82 85.8L563.64 85.42L566.45 85.1M400.4 83.6L403.21 83.96L406.03 84.35L408.84 84.77L411.66 85.31L414.47 85.97L417.29 86.72L420.1 87.55L422.92 88.43L425.73 89.35L428.54 90.27L431.36 91.19L434.17 92.07L436.99 92.94L439.8 93.82L442.62 94.73L445.43 95.66L448.24 96.63L451.06 97.65L453.87 98.72L456.69 99.98L459.5 101.35L462.32 102.61L465.13 103.63L467.95 104.57L470.76 105.37L473.57 105.9L476.39 106.25L479.2 106.54L482.02 106.71L484.83 106.71L487.65 106.54L490.46 106.25L493.28 105.9L496.09 105.37L498.9 104.57L501.72 103.63L504.53 102.61L507.35 101.35L510.16 99.98L512.98 98.72L515.79 97.65L518.61 96.63L521.42 95.66L524.23 94.73L527.05 93.82L529.86 92.94L532.68 92.07L535.49 91.19L538.31 90.27L541.12 89.35L543.93 88.43L546.75 87.55L549.56 86.72L552.38 85.97L555.19 85.31L558.01 84.77L560.82 84.35L563.64 83.96L566.45 83.6M400.4 82.05L403.21 82.4L406.03 82.81L408.84 83.33L411.66 83.93L414.47 84.6L417.29 85.33L420.1 86.09L422.92 86.88L425.73 87.66L428.54 88.44L431.36 89.19L434.17 89.93L436.99 90.68L439.8 91.45L442.62 92.24L445.43 93.06L448.24 93.92L451.06 94.82L453.87 95.82L456.69 96.97L459.5 98.11L462.32 99.08L465.13 99.91L467.95 100.69L470.76 101.31L473.57 101.7L476.39 102L479.2 102.24L482.02 102.37L484.83 102.37L487.65 102.24L490.46 102L493.28 101.7L496.09 101.31L498.9 100.69L501.72 99.91L504.53 99.08L507.35 98.11L510.16 96.97L512.98 95.82L515.79 94.82L518.61 93.92L521.42 93.06L524.23 92.24L527.05 91.45L529.86 90.68L532.68 89.93L535.49 89.19L538.31 88.44L541.12 87.66L543.93 86.88L546.75 86.09L549.56 85.33L552.38 84.6L555.19 83.93L558.01 83.33L560.82 82.81L563.64 82.4L566.45 82.05M400.4 80.44L403.21 80.85L406.03 81.34L408.84 81.89L411.66 82.49L414.47 83.14L417.29 83.81L420.1 84.49L422.92 85.17L425.73 85.84L428.54 86.49L431.36 87.13L434.17 87.78L436.99 88.45L439.8 89.13L442.62 89.83L445.43 90.57L448.24 91.34L451.06 92.16L453.87 93.12L456.69 94.13L459.5 95.06L462.32 95.83L465.13 96.54L467.95 97.17L470.76 97.67L473.57 97.97L476.39 98.22L479.2 98.42L482.02 98.53L484.83 98.53L487.65 98.42L490.46 98.22L493.28 97.97L496.09 97.67L498.9 97.17L501.72 96.54L504.53 95.83L507.35 95.06L510.16 94.13L512.98 93.12L515.79 92.16L518.61 91.34L521.42 90.57L524.23 89.83L527.05 89.13L529.86 88.45L532.68 87.78L535.49 87.13L538.31 86.49L541.12 85.84L543.93 85.17L546.75 84.49L549.56 83.81L552.38 83.14L555.19 82.49L558.01 81.89L560.82 81.34L563.64 80.85L566.45 80.44M400.4 78.82L403.21 79.27L406.03 79.76L408.84 80.29L411.66 80.85L414.47 81.43L417.29 82.01L420.1 82.6L422.92 83.17L425.73 83.72L428.54 84.27L431.36 84.83L434.17 85.39L436.99 85.98L439.8 86.58L442.62 87.2L445.43 87.85L448.24 88.53L451.06 89.3L453.87 90.16L456.69 91.01L459.5 91.75L462.32 92.37L465.13 92.96L467.95 93.47L470.76 93.85L473.57 94.09L476.39 94.3L479.2 94.46L482.02 94.56L484.83 94.56L487.65 94.46L490.46 94.3L493.28 94.09L496.09 93.85L498.9 93.47L501.72 92.96L504.53 92.37L507.35 91.75L510.16 91.01L512.98 90.16L515.79 89.3L518.61 88.53L521.42 87.85L524.23 87.2L527.05 86.58L529.86 85.98L532.68 85.39L535.49 84.83L538.31 84.27L541.12 83.72L543.93 83.17L546.75 82.6L549.56 82.01L552.38 81.43L555.19 80.85L558.01 80.29L560.82 79.76L563.64 79.27L566.45 78.82M400.4 77.23L403.21 77.68L406.03 78.16L408.84 78.66L411.66 79.17L414.47 79.68L417.29 80.19L420.1 80.69L422.92 81.18L425.73 81.66L428.54 82.15L431.36 82.65L434.17 83.16L436.99 83.68L439.8 84.22L442.62 84.79L445.43 85.38L448.24 86.02L451.06 86.75L453.87 87.52L456.69 88.22L459.5 88.81L462.32 89.35L465.13 89.85L467.95 90.27L470.76 90.57L473.57 90.77L476.39 90.95L479.2 91.09L482.02 91.16L484.83 91.16L487.65 91.09L490.46 90.95L493.28 90.77L496.09 90.57L498.9 90.27L501.72 89.85L504.53 89.35L507.35 88.81L510.16 88.22L512.98 87.52L515.79 86.75L518.61 86.02L521.42 85.38L524.23 84.79L527.05 84.22L529.86 83.68L532.68 83.16L535.49 82.65L538.31 82.15L541.12 81.66L543.93 81.18L546.75 80.69L549.56 80.19L552.38 79.68L555.19 79.17L558.01 78.66L560.82 78.16L563.64 77.68L566.45 77.23M400.4 75.66L403.21 76.1L406.03 76.56L408.84 77.02L411.66 77.49L414.47 77.95L417.29 78.4L420.1 78.84L422.92 79.28L425.73 79.72L428.54 80.17L431.36 80.63L434.17 81.11L436.99 81.6L439.8 82.1L442.62 82.63L445.43 83.18L448.24 83.83L451.06 84.51L453.87 85.19L456.69 85.78L459.5 86.28L462.32 86.76L465.13 87.2L467.95 87.55L470.76 87.79L473.57 87.97L476.39 88.13L479.2 88.25L482.02 88.32L484.83 88.32L487.65 88.25L490.46 88.13L493.28 87.97L496.09 87.79L498.9 87.55L501.72 87.2L504.53 86.76L507.35 86.28L510.16 85.78L512.98 85.19L515.79 84.51L518.61 83.83L521.42 83.18L524.23 82.63L527.05 82.1L529.86 81.6L532.68 81.11L535.49 80.63L538.31 80.17L541.12 79.72L543.93 79.28L546.75 78.84L549.56 78.4L552.38 77.95L555.19 77.49L558.01 77.02L560.82 76.56L563.64 76.1L566.45 75.66M400.4 106.87L404.66 106.47L408.92 106.18L413.17 106.02L417.43 105.93L421.69 105.71L425.95 105.34L430.2 104.86L434.46 104.28L438.72 103.61L442.98 102.86L447.23 102.03L451.49 101.13L455.75 100.16L460.01 99.12L464.27 98.02L468.52 96.86L472.78 95.64L477.04 94.36L481.3 93.03L485.55 93.03L489.81 94.36L494.07 95.64L498.33 96.86L502.58 98.02L506.84 99.12L511.1 100.16L515.36 101.13L519.62 102.03L523.87 102.86L528.13 103.61L532.39 104.28L536.65 104.86L540.9 105.34L545.16 105.71L549.42 105.93L553.68 106.02L557.93 106.18L562.19 106.47L566.45 106.87M400.4 104.69L404.66 104.16L408.92 103.78L413.17 103.56L417.43 103.45L421.69 103.24L425.95 102.9L430.2 102.46L434.46 101.94L438.72 101.33L442.98 100.65L447.23 99.9L451.49 99.09L455.75 98.21L460.01 97.27L464.27 96.28L468.52 95.22L472.78 94.12L477.04 92.96L481.3 91.76L485.55 91.76L489.81 92.96L494.07 94.12L498.33 95.22L502.58 96.28L506.84 97.27L511.1 98.21L515.36 99.09L519.62 99.9L523.87 100.65L528.13 101.33L532.39 101.94L536.65 102.46L540.9 102.9L545.16 103.24L549.42 103.45L553.68 103.56L557.93 103.78L562.19 104.16L566.45 104.69M400.4 102.15L404.66 101.62L408.92 101.23L413.17 101.02L417.43 100.91L421.69 100.71L425.95 100.41L430.2 100.03L434.46 99.58L438.72 99.05L442.98 98.46L447.23 97.81L451.49 97.1L455.75 96.34L460.01 95.52L464.27 94.66L468.52 93.75L472.78 92.79L477.04 91.78L481.3 90.74L485.55 90.74L489.81 91.78L494.07 92.79L498.33 93.75L502.58 94.66L506.84 95.52L511.1 96.34L515.36 97.1L519.62 97.81L523.87 98.46L528.13 99.05L532.39 99.58L536.65 100.03L540.9 100.41L545.16 100.71L549.42 100.91L553.68 101.02L557.93 101.23L562.19 101.62L566.45 102.15M400.4 99.82L404.66 99.46L408.92 99.2L413.17 99.06L417.43 98.99L421.69 98.81L425.95 98.52L430.2 98.14L434.46 97.69L438.72 97.16L442.98 96.58L447.23 95.93L451.49 95.22L455.75 94.46L460.01 93.65L464.27 92.79L468.52 91.88L472.78 90.92L477.04 89.92L481.3 88.88L485.55 88.88L489.81 89.92L494.07 90.92L498.33 91.88L502.58 92.79L506.84 93.65L511.1 94.46L515.36 95.22L519.62 95.93L523.87 96.58L528.13 97.16L532.39 97.69L536.65 98.14L540.9 98.52L545.16 98.81L549.42 98.99L553.68 99.06L557.93 99.2L562.19 99.46L566.45 99.82M400.4 97.21L404.66 96.46L408.92 95.92L413.17 95.62L417.43 95.47L421.69 95.26L425.95 94.98L430.2 94.63L434.46 94.21L438.72 93.73L442.98 93.19L447.23 92.6L451.49 91.96L455.75 91.26L460.01 90.52L464.27 89.73L468.52 88.9L472.78 88.02L477.04 87.11L481.3 86.15L485.55 86.15L489.81 87.11L494.07 88.02L498.33 88.9L502.58 89.73L506.84 90.52L511.1 91.26L515.36 91.96L519.62 92.6L523.87 93.19L528.13 93.73L532.39 94.21L536.65 94.63L540.9 94.98L545.16 95.26L549.42 95.47L553.68 95.62L557.93 95.92L562.19 96.46L566.45 97.21M400.4 94.57L404.66 93.89L408.92 93.4L413.17 93.13L417.43 92.99L421.69 92.78L425.95 92.47L430.2 92.07L434.46 91.61L438.72 91.07L442.98 90.46L447.23 89.8L451.49 89.07L455.75 88.29L460.01 87.45L464.27 86.57L468.52 85.63L472.78 84.65L477.04 83.62L481.3 82.55L485.55 82.55L489.81 83.62L494.07 84.65L498.33 85.63L502.58 86.57L506.84 87.45L511.1 88.29L515.36 89.07L519.62 89.8L523.87 90.46L528.13 91.07L532.39 91.61L536.65 92.07L540.9 92.47L545.16 92.78L549.42 92.99L553.68 93.13L557.93 93.4L562.19 93.89L566.45 94.57M400.4 92.59L404.66 92.29L408.92 92.06L413.17 91.94L417.43 91.87L421.69 91.68L425.95 91.37L430.2 90.96L434.46 90.46L438.72 89.89L442.98 89.25L447.23 88.54L451.49 87.76L455.75 86.93L460.01 86.04L464.27 85.1L468.52 84.1L472.78 83.06L477.04 81.96L481.3 80.82L485.55 80.82L489.81 81.96L494.07 83.06L498.33 84.1L502.58 85.1L506.84 86.04L511.1 86.93L515.36 87.76L519.62 88.54L523.87 89.25L528.13 89.89L532.39 90.46L536.65 90.96L540.9 91.37L545.16 91.68L549.42 91.87L553.68 91.94L557.93 92.06L562.19 92.29L566.45 92.59M400.4 90.68L404.66 90.08L408.92 89.65L413.17 89.41L417.43 89.29L421.69 89.13L425.95 88.9L430.2 88.61L434.46 88.27L438.72 87.88L442.98 87.44L447.23 86.96L451.49 86.44L455.75 85.87L460.01 85.27L464.27 84.63L468.52 83.95L472.78 83.24L477.04 82.49L481.3 81.72L485.55 81.72L489.81 82.49L494.07 83.24L498.33 83.95L502.58 84.63L506.84 85.27L511.1 85.87L515.36 86.44L519.62 86.96L523.87 87.44L528.13 87.88L532.39 88.27L536.65 88.61L540.9 88.9L545.16 89.13L549.42 89.29L553.68 89.41L557.93 89.65L562.19 90.08L566.45 90.68M400.4 87.79L404.66 87.5L408.92 87.29L413.17 87.18L417.43 87.12L421.69 86.91L425.95 86.58L430.2 86.14L434.46 85.6L438.72 84.99L442.98 84.3L447.23 83.53L451.49 82.7L455.75 81.81L460.01 80.85L464.27 79.84L468.52 78.77L472.78 77.64L477.04 76.46L481.3 75.23L485.55 75.23L489.81 76.46L494.07 77.64L498.33 78.77L502.58 79.84L506.84 80.85L511.1 81.81L515.36 82.7L519.62 83.53L523.87 84.3L528.13 84.99L532.39 85.6L536.65 86.14L540.9 86.58L545.16 86.91L549.42 87.12L553.68 87.18L557.93 87.29L562.19 87.5L566.45 87.79M400.4 85.16L406.13 85.24L411.85 85.49L417.58 85.91L423.3 86.5L429.03 87.25L434.76 88.09L440.48 88.97L446.21 89.8L451.93 90.51L457.66 91.05L463.38 91.4L469.11 91.6L474.84 91.69L480.56 91.72L486.29 91.72L492.01 91.69L497.74 91.6L503.47 91.4L509.19 91.05L514.92 90.51L520.64 89.8L526.37 88.97L532.09 88.09L537.82 87.25L543.55 86.5L549.27 85.91L555 85.49L560.72 85.24L566.45 85.16M400.4 84.2L406.13 84.32L411.85 84.66L417.58 85.19L423.3 85.85L429.03 86.57L434.76 87.3L440.48 87.99L446.21 88.6L451.93 89.12L457.66 89.54L463.38 89.87L469.11 90.11L474.84 90.27L480.56 90.35L486.29 90.35L492.01 90.27L497.74 90.11L503.47 89.87L509.19 89.54L514.92 89.12L520.64 88.6L526.37 87.99L532.09 87.3L537.82 86.57L543.55 85.85L549.27 85.19L555 84.66L560.72 84.32L566.45 84.2M400.4 82.93L410.17 83.18L419.94 83.9L429.7 84.95L439.47 86.1L449.24 87.09L459.01 87.74L468.77 88.06L478.54 88.15L488.31 88.15L498.08 88.06L507.84 87.74L517.61 87.09L527.38 86.1L537.15 84.95L546.91 83.9L556.68 83.18L566.45 82.93M400.4 81.45L407.32 81.49L414.24 81.61L421.16 81.82L428.07 82.12L434.99 82.5L441.91 82.95L448.83 83.41L455.75 83.86L462.67 84.24L469.59 84.52L476.51 84.7L483.43 84.76L490.34 84.7L497.26 84.52L504.18 84.24L511.1 83.86L518.02 83.41L524.94 82.95L531.86 82.5L538.78 82.12L545.69 81.82L552.61 81.61L559.53 81.49L566.45 81.45M400.4 80.19L409.62 80.23L418.85 80.35L428.07 80.52L437.3 80.8L446.52 81.26L455.75 81.93L464.98 82.71L474.2 83.36L483.43 83.62L492.65 83.36L501.88 82.71L511.1 81.93L520.33 81.26L529.55 80.8L538.78 80.52L548 80.35L557.23 80.23L566.45 80.19M400.4 78.66L406.13 78.62L411.85 78.54L417.58 78.47L423.3 78.46L429.03 78.56L434.76 78.78L440.48 79.09L446.21 79.42L451.93 79.71L457.66 79.89L463.38 79.96L469.11 79.94L474.84 79.88L480.56 79.83L486.29 79.83L492.01 79.88L497.74 79.94L503.47 79.96L509.19 79.89L514.92 79.71L520.64 79.42L526.37 79.09L532.09 78.78L537.82 78.56L543.55 78.46L549.27 78.47L555 78.54L560.72 78.62L566.45 78.66M400.4 77.79L406.79 77.82L413.17 77.91L419.56 78.06L425.95 78.29L432.33 78.59L438.72 78.91L445.11 79.21L451.49 79.44L457.88 79.57L464.27 79.6L470.65 79.56L477.04 79.51L483.43 79.49L489.81 79.51L496.2 79.56L502.58 79.6L508.97 79.57L515.36 79.44L521.74 79.21L528.13 78.91L534.52 78.59L540.9 78.29L547.29 78.06L553.68 77.91L560.06 77.82L566.45 77.79M400.4 76.42L406.33 76.35L412.26 76.17L418.19 75.96L424.12 75.81L430.05 75.78L435.98 75.91L441.91 76.18L447.84 76.53L453.77 76.9L459.7 77.2L465.63 77.41L471.56 77.53L477.49 77.59L483.43 77.6L489.36 77.59L495.29 77.53L501.22 77.41L507.15 77.2L513.08 76.9L519.01 76.53L524.94 76.18L530.87 75.91L536.8 75.78L542.73 75.81L548.66 75.96L554.59 76.17L560.52 76.35L566.45 76.42M400.4 75.49L405.14 75.49L409.89 75.49L414.63 75.49L419.38 75.49L424.12 75.5L428.87 75.51L433.61 75.54L438.35 75.61L443.1 75.7L447.84 75.84L452.59 76.03L457.33 76.25L462.08 76.49L466.82 76.73L471.56 76.94L476.31 77.1L481.05 77.18L485.8 77.18L490.54 77.1L495.29 76.94L500.03 76.73L504.77 76.49L509.52 76.25L514.26 76.03L519.01 75.84L523.75 75.7L528.5 75.61L533.24 75.54L537.98 75.51L542.73 75.5L547.47 75.49L552.22 75.49L556.96 75.49L561.71 75.49L566.45 75.49M400.4 73.95L405.59 73.95L410.78 73.97L415.97 74.04L421.16 74.18L426.35 74.4L431.53 74.72L436.72 75.09L441.91 75.46L447.1 75.78L452.29 75.99L457.48 76.07L462.67 76.03L467.86 75.89L473.05 75.72L478.24 75.59L483.43 75.54L488.61 75.59L493.8 75.72L498.99 75.89L504.18 76.03L509.37 76.07L514.56 75.99L519.75 75.78L524.94 75.46L530.13 75.09L535.32 74.72L540.5 74.4L545.69 74.18L550.88 74.04L556.07 73.97L561.26 73.95L566.45 73.95M400.4 72.47L407.04 72.44L413.68 72.35L420.33 72.27L426.97 72.24L433.61 72.3L440.25 72.44L446.89 72.63L453.54 72.8L460.18 72.93L466.82 72.98L473.46 72.99L480.1 72.99L486.75 72.99L493.39 72.99L500.03 72.98L506.67 72.93L513.31 72.8L519.96 72.63L526.6 72.44L533.24 72.3L539.88 72.24L546.52 72.27L553.17 72.35L559.81 72.44L566.45 72.47M400.4 71.99L406.79 72.05L413.17 72.24L419.56 72.49L425.95 72.74L432.33 72.93L438.72 73.06L445.11 73.12L451.49 73.14L457.88 73.17L464.27 73.21L470.65 73.26L477.04 73.31L483.43 73.33L489.81 73.31L496.2 73.26L502.58 73.21L508.97 73.17L515.36 73.14L521.74 73.12L528.13 73.06L534.52 72.93L540.9 72.74L547.29 72.49L553.68 72.24L560.06 72.05L566.45 71.99M400.4 71.45L410.78 71.44L421.16 71.44L431.53 71.47L441.91 71.51L452.29 71.51L462.67 71.43L473.05 71.32L483.43 71.26L493.8 71.32L504.18 71.43L514.56 71.51L524.94 71.51L535.32 71.47L545.69 71.44L556.07 71.44L566.45 71.45M400.4 70.82L405.01 70.84L409.62 70.92L414.24 71.03L418.85 71.14L423.46 71.24L428.07 71.29L432.69 71.31L437.3 71.29L441.91 71.26L446.52 71.23L451.14 71.24L455.75 71.3L460.36 71.41L464.98 71.56L469.59 71.73L474.2 71.88L478.81 71.98L483.43 72.02L488.04 71.98L492.65 71.88L497.26 71.73L501.88 71.56L506.49 71.41L511.1 71.3L515.71 71.24L520.33 71.23L524.94 71.26L529.55 71.29L534.16 71.31L538.78 71.29L543.39 71.24L548 71.14L552.61 71.03L557.23 70.92L561.84 70.84L566.45 70.82M400.4 69.23L406.55 69.23L412.7 69.23L418.85 69.26L425 69.34L431.15 69.49L437.3 69.68L443.45 69.9L449.6 70.1L455.75 70.25L461.9 70.34L468.05 70.36L474.2 70.36L480.35 70.34L486.5 70.34L492.65 70.36L498.8 70.36L504.95 70.34L511.1 70.25L517.25 70.1L523.4 69.9L529.55 69.68L535.7 69.49L541.85 69.34L548 69.26L554.15 69.23L560.3 69.23L566.45 69.23M400.4 68.32L405.28 68.34L410.17 68.41L415.05 68.52L419.94 68.66L424.82 68.81L429.7 68.97L434.59 69.12L439.47 69.25L444.35 69.35L449.24 69.43L454.12 69.48L459.01 69.5L463.89 69.51L468.77 69.51L473.66 69.5L478.54 69.49L483.43 69.49L488.31 69.49L493.19 69.5L498.08 69.51L502.96 69.51L507.84 69.5L512.73 69.48L517.61 69.43L522.5 69.35L527.38 69.25L532.26 69.12L537.15 68.97L542.03 68.81L546.91 68.66L551.8 68.52L556.68 68.41L561.57 68.34L566.45 68.32M400.4 67.16L407.32 67.06L414.24 66.8L421.16 66.51L428.07 66.31L434.99 66.27L441.91 66.38L448.83 66.52L455.75 66.6L462.67 66.56L469.59 66.43L476.51 66.29L483.43 66.23L490.34 66.29L497.26 66.43L504.18 66.56L511.1 66.6L518.02 66.52L524.94 66.38L531.86 66.27L538.78 66.31L545.69 66.51L552.61 66.8L559.53 67.06L566.45 67.16M400.4 66.42L408.31 66.45L416.21 66.56L424.12 66.73L432.03 66.96L439.94 67.2L447.84 67.38L455.75 67.48L463.66 67.47L471.56 67.42L479.47 67.36L487.38 67.36L495.29 67.42L503.19 67.47L511.1 67.48L519.01 67.38L526.91 67.2L534.82 66.96L542.73 66.73L550.64 66.56L558.54 66.45L566.45 66.42M400.4 65.41L405.14 65.44L409.89 65.5L414.63 65.6L419.38 65.7L424.12 65.8L428.87 65.89L433.61 65.94L438.35 65.96L443.1 65.95L447.84 65.92L452.59 65.88L457.33 65.85L462.08 65.83L466.82 65.81L471.56 65.81L476.31 65.81L481.05 65.81L485.8 65.81L490.54 65.81L495.29 65.81L500.03 65.81L504.77 65.83L509.52 65.85L514.26 65.88L519.01 65.92L523.75 65.95L528.5 65.96L533.24 65.94L537.98 65.89L542.73 65.8L547.47 65.7L552.22 65.6L556.96 65.5L561.71 65.44L566.45 65.41M400.4 64.56L410.78 64.62L421.16 64.66L431.53 64.51L441.91 64.22L452.29 64.09L462.67 64.31L473.05 64.72L483.43 64.92L493.8 64.72L504.18 64.31L514.56 64.09L524.94 64.22L535.32 64.51L545.69 64.66L556.07 64.62L566.45 64.56M400.4 63.76L405.59 63.8L410.78 63.9L415.97 64.05L421.16 64.2L426.35 64.32L431.53 64.41L436.72 64.47L441.91 64.53L447.1 64.6L452.29 64.73L457.48 64.93L462.67 65.19L467.86 65.47L473.05 65.72L478.24 65.9L483.43 65.96L488.61 65.9L493.8 65.72L498.99 65.47L504.18 65.19L509.37 64.93L514.56 64.73L519.75 64.6L524.94 64.53L530.13 64.47L535.32 64.41L540.5 64.32L545.69 64.2L550.88 64.05L556.07 63.9L561.26 63.8L566.45 63.76M400.4 62.65L408.31 62.65L416.21 62.63L424.12 62.53L432.03 62.36L439.94 62.15L447.84 62.01L455.75 62.02L463.66 62.2L471.56 62.45L479.47 62.62L487.38 62.62L495.29 62.45L503.19 62.2L511.1 62.02L519.01 62.01L526.91 62.15L534.82 62.36L542.73 62.53L550.64 62.63L558.54 62.65L566.45 62.65M400.4 61.55L405.14 61.58L409.89 61.66L414.63 61.77L419.38 61.88L424.12 61.97L428.87 62.01L433.61 62.01L438.35 61.98L443.1 61.94L447.84 61.92L452.59 61.96L457.33 62.06L462.08 62.22L466.82 62.42L471.56 62.62L476.31 62.78L481.05 62.87L485.8 62.87L490.54 62.78L495.29 62.62L500.03 62.42L504.77 62.22L509.52 62.06L514.26 61.96L519.01 61.92L523.75 61.94L528.5 61.98L533.24 62.01L537.98 62.01L542.73 61.97L547.47 61.88L552.22 61.77L556.96 61.66L561.71 61.58L566.45 61.55M400.4 60.05L405.94 60.02L411.47 59.96L417 59.9L422.54 59.86L428.07 59.87L433.61 59.94L439.14 60.04L444.68 60.14L450.21 60.19L455.75 60.17L461.28 60.06L466.82 59.9L472.36 59.73L477.89 59.6L483.43 59.55L488.96 59.6L494.5 59.73L500.03 59.9L505.56 60.06L511.1 60.17L516.63 60.19L522.17 60.14L527.71 60.04L533.24 59.94L538.78 59.87L544.31 59.86L549.85 59.9L555.38 59.96L560.92 60.02L566.45 60.05M400.4 58.82L405.01 58.83L409.62 58.87L414.24 58.92L418.85 58.95L423.46 58.96L428.07 58.94L432.69 58.89L437.3 58.83L441.91 58.79L446.52 58.8L451.14 58.88L455.75 59.05L460.36 59.3L464.98 59.6L469.59 59.91L474.2 60.17L478.81 60.35L483.43 60.42L488.04 60.35L492.65 60.17L497.26 59.91L501.88 59.6L506.49 59.3L511.1 59.05L515.71 58.88L520.33 58.8L524.94 58.79L529.55 58.83L534.16 58.89L538.78 58.94L543.39 58.96L548 58.95L552.61 58.92L557.23 58.87L561.84 58.83L566.45 58.82M400.4 54.92L409.14 54.95L417.88 54.99L426.62 54.95L435.36 54.8L444.1 54.58L452.84 54.42L461.58 54.4L470.32 54.49L479.06 54.58L487.79 54.58L496.53 54.49L505.27 54.4L514.01 54.42L522.75 54.58L531.49 54.8L540.23 54.95L548.97 54.99L557.71 54.95L566.45 54.92M400.4 53.3L405.28 53.28L410.17 53.21L415.05 53.1L419.94 52.94L424.82 52.75L429.7 52.53L434.59 52.31L439.47 52.11L444.35 51.95L449.24 51.86L454.12 51.84L459.01 51.9L463.89 52.01L468.77 52.14L473.66 52.27L478.54 52.37L483.43 52.4L488.31 52.37L493.19 52.27L498.08 52.14L502.96 52.01L507.84 51.9L512.73 51.84L517.61 51.86L522.5 51.95L527.38 52.11L532.26 52.31L537.15 52.53L542.03 52.75L546.91 52.94L551.8 53.1L556.68 53.21L561.57 53.28L566.45 53.3M400.4 52.09L405.01 52.07L409.62 52.03L414.24 51.97L418.85 51.92L423.46 51.89L428.07 51.88L432.69 51.9L437.3 51.93L441.91 51.97L446.52 51.97L451.14 51.94L455.75 51.85L460.36 51.71L464.98 51.54L469.59 51.36L474.2 51.19L478.81 51.08L483.43 51.04L488.04 51.08L492.65 51.19L497.26 51.36L501.88 51.54L506.49 51.71L511.1 51.85L515.71 51.94L520.33 51.97L524.94 51.97L529.55 51.93L534.16 51.9L538.78 51.88L543.39 51.89L548 51.92L552.61 51.97L557.23 52.03L561.84 52.07L566.45 52.09M400.4 51.52L406.13 51.49L411.85 51.4L417.58 51.27L423.3 51.13L429.03 50.99L434.76 50.87L440.48 50.78L446.21 50.71L451.93 50.65L457.66 50.6L463.38 50.55L469.11 50.5L474.84 50.46L480.56 50.44L486.29 50.44L492.01 50.46L497.74 50.5L503.47 50.55L509.19 50.6L514.92 50.65L520.64 50.71L526.37 50.78L532.09 50.87L537.82 50.99L543.55 51.13L549.27 51.27L555 51.4L560.72 51.49L566.45 51.52M400.4 50.07L406.55 50.06L412.7 50.04L418.85 49.98L425 49.88L431.15 49.73L437.3 49.55L443.45 49.4L449.6 49.32L455.75 49.33L461.9 49.44L468.05 49.6L474.2 49.76L480.35 49.85L486.5 49.85L492.65 49.76L498.8 49.6L504.95 49.44L511.1 49.33L517.25 49.32L523.4 49.4L529.55 49.55L535.7 49.73L541.85 49.88L548 49.98L554.15 50.04L560.3 50.06L566.45 50.07M400.4 48.49L410.17 48.53L419.94 48.66L429.7 48.84L439.47 49.02L449.24 49.12L459.01 49.09L468.77 48.98L478.54 48.89L488.31 48.89L498.08 48.98L507.84 49.09L517.61 49.12L527.38 49.02L537.15 48.84L546.91 48.66L556.68 48.53L566.45 48.49M400.4 46.98L405.14 47.05L409.89 47.23L414.63 47.51L419.38 47.81L424.12 48.1L428.87 48.32L433.61 48.45L438.35 48.49L443.1 48.47L447.84 48.42L452.59 48.37L457.33 48.36L462.08 48.4L466.82 48.48L471.56 48.59L476.31 48.68L481.05 48.73L485.8 48.73L490.54 48.68L495.29 48.59L500.03 48.48L504.77 48.4L509.52 48.36L514.26 48.37L519.01 48.42L523.75 48.47L528.5 48.49L533.24 48.45L537.98 48.32L542.73 48.1L547.47 47.81L552.22 47.51L556.96 47.23L561.71 47.05L566.45 46.98M400.4 45.89L407.62 45.85L414.84 45.77L422.06 45.75L429.28 45.88L436.5 46.18L443.72 46.56L450.94 46.9L458.16 47.06L465.38 47.05L472.6 46.92L479.82 46.82L487.03 46.82L494.25 46.92L501.47 47.05L508.69 47.06L515.91 46.9L523.13 46.56L530.35 46.18L537.57 45.88L544.79 45.75L552.01 45.77L559.23 45.85L566.45 45.89M400.4 44.63L405.59 44.6L410.78 44.51L415.97 44.39L421.16 44.26L426.35 44.14L431.53 44.06L436.72 44L441.91 43.97L447.1 43.92L452.29 43.85L457.48 43.74L462.67 43.6L467.86 43.44L473.05 43.29L478.24 43.19L483.43 43.15L488.61 43.19L493.8 43.29L498.99 43.44L504.18 43.6L509.37 43.74L514.56 43.85L519.75 43.92L524.94 43.97L530.13 44L535.32 44.06L540.5 44.14L545.69 44.26L550.88 44.39L556.07 44.51L561.26 44.6L566.45 44.63M400.4 44L409.62 43.92L418.85 43.8L428.07 43.85L437.3 44.15L446.52 44.59L455.75 44.93L464.98 45.02L474.2 44.95L483.43 44.89L492.65 44.95L501.88 45.02L511.1 44.93L520.33 44.59L529.55 44.15L538.78 43.85L548 43.8L557.23 43.92L566.45 44M400.4 42.58L407.62 42.61L414.84 42.65L422.06 42.66L429.28 42.6L436.5 42.5L443.72 42.45L450.94 42.54L458.16 42.83L465.38 43.26L472.6 43.7L479.82 43.98L487.03 43.98L494.25 43.7L501.47 43.26L508.69 42.83L515.91 42.54L523.13 42.45L530.35 42.5L537.57 42.6L544.79 42.66L552.01 42.65L559.23 42.61L566.45 42.58M400.4 41.5L407.95 41.38L415.5 41.07L423.04 40.68L430.59 40.34L438.14 40.13L445.69 40.05L453.23 40.05L460.78 40.08L468.33 40.1L475.88 40.11L483.43 40.1L490.97 40.11L498.52 40.1L506.07 40.08L513.62 40.05L521.16 40.05L528.71 40.13L536.26 40.34L543.81 40.68L551.35 41.07L558.9 41.38L566.45 41.5M400.4 40.77L410.78 40.71L421.16 40.58L431.53 40.52L441.91 40.63L452.29 40.89L462.67 41.21L473.05 41.45L483.43 41.54L493.8 41.45L504.18 41.21L514.56 40.89L524.94 40.63L535.32 40.52L545.69 40.58L556.07 40.71L566.45 40.77M400.4 40.33L407.62 40.36L414.84 40.44L422.06 40.54L429.28 40.64L436.5 40.71L443.72 40.72L450.94 40.68L458.16 40.6L465.38 40.49L472.6 40.4L479.82 40.35L487.03 40.35L494.25 40.4L501.47 40.49L508.69 40.6L515.91 40.68L523.13 40.72L530.35 40.71L537.57 40.64L544.79 40.54L552.01 40.44L559.23 40.36L566.45 40.33" stroke="#808080" stroke-width="1"/><path d="M400.4 109.13L401.44 110.02L402.49 110.92L403.53 111.85L404.58 112.8L405.62 113.77L406.67 114.76L407.71 115.78L408.75 116.81L409.8 117.86L410.84 118.94L411.89 120.06L412.93 121.2L413.98 122.35L415.02 123.53L416.07 124.71L417.11 125.9L418.15 127.09L419.2 128.29L420.24 129.5L421.29 130.72L422.33 131.95L423.38 133.2L424.42 134.45L425.46 135.73L426.51 137.02L427.55 138.33L428.6 139.66L429.64 141.01L430.69 142.37L431.73 143.75L432.77 145.14L433.82 146.54L434.86 147.94L435.91 149.35L436.95 150.77L438 152.21L439.04 153.65L440.08 155.11L441.13 156.56L442.17 158.02L443.22 159.47L444.26 160.92L445.31 162.38L446.35 163.87L447.4 165.36L448.44 166.82L449.48 168.25L450.53 169.61L451.57 170.93L452.62 172.26L453.66 173.44L454.71 174.29L455.75 174.91L456.79 175.11L457.84 175.17L458.88 175.01L459.93 174.85L460.97 174.72L462.02 174.65L463.06 174.63L464.1 174.67L465.15 174.77L466.19 174.91L467.24 175.09L468.28 175.17L469.33 174.98L470.37 174.83L471.42 174.71L472.46 174.64L473.5 174.63L474.55 174.69L475.59 174.79L476.64 174.94L477.68 175.11L478.73 175.14L479.77 174.96L480.81 174.81L481.86 174.7L482.9 174.64L483.95 174.64L484.99 174.7L486.04 174.81L487.08 174.96L488.12 175.14L489.17 175.11L490.21 174.94L491.26 174.79L492.3 174.69L493.35 174.63L494.39 174.64L495.43 174.71L496.48 174.83L497.52 174.98L498.57 175.17L499.61 175.09L500.66 174.91L501.7 174.77L502.75 174.67L503.79 174.63L504.83 174.65L505.88 174.72L506.92 174.85L507.97 175.01L509.01 175.17L510.06 175.11L511.1 174.91L512.14 174.29L513.19 173.44L514.23 172.26L515.28 170.93L516.32 169.61L517.37 168.25L518.41 166.82L519.45 165.36L520.5 163.87L521.54 162.38L522.59 160.92L523.63 159.47L524.68 158.02L525.72 156.56L526.77 155.11L527.81 153.65L528.85 152.21L529.9 150.77L530.94 149.35L531.99 147.94L533.03 146.54L534.08 145.14L535.12 143.75L536.16 142.37L537.21 141.01L538.25 139.66L539.3 138.33L540.34 137.02L541.39 135.73L542.43 134.45L543.47 133.2L544.52 131.95L545.56 130.72L546.61 129.5L547.65 128.29L548.7 127.09L549.74 125.9L550.78 124.71L551.83 123.53L552.87 122.35L553.92 121.2L554.96 120.06L556.01 118.94L557.05 117.86L558.1 116.81L559.14 115.78L560.18 114.76L561.23 113.77L562.27 112.8L563.32 111.85L564.36 110.92L565.41 110.02L566.45 109.13" stroke="#ff0000" stroke-width="1.35"/></g><rect x="392.4" y="39.7" width="182.1" height="135.7" fill="none" stroke="#000" stroke-width="0.55"/><path d="M400.4 175.4v2.4M433.61 175.4v2.4M466.82 175.4v2.4M500.03 175.4v2.4M533.24 175.4v2.4M566.45 175.4v2.4M392.4 175.4h-2.4M392.4 152.78h-2.4M392.4 130.17h-2.4M392.4 107.55h-2.4M392.4 84.93h-2.4M392.4 62.32h-2.4M392.4 39.7h-2.4" stroke="#000" stroke-width="0.55" fill="none"/><g font-family="'DejaVu Sans','Liberation Sans',sans-serif" font-size="8.15" fill="#000" stroke="#000" stroke-width="0.15"><text x="400.4" y="185.85" text-anchor="middle">0.0</text><text x="433.61" y="185.85" text-anchor="middle">0.2</text><text x="466.82" y="185.85" text-anchor="middle">0.4</text><text x="500.03" y="185.85" text-anchor="middle">0.6</text><text x="533.24" y="185.85" text-anchor="middle">0.8</text><text x="566.45" y="185.85" text-anchor="middle">1.0</text><text x="388.1" y="178.35" text-anchor="end">0.00</text><text x="388.1" y="155.73" text-anchor="end">0.05</text><text x="388.1" y="133.12" text-anchor="end">0.10</text><text x="388.1" y="110.5" text-anchor="end">0.15</text><text x="388.1" y="87.88" text-anchor="end">0.20</text><text x="388.1" y="65.27" text-anchor="end">0.25</text><text x="388.1" y="42.65" text-anchor="end">0.30</text><text x="483.45" y="195.8" text-anchor="middle"><tspan font-style="italic">ϕ</tspan>/<tspan font-style="italic">π</tspan></text><text transform="translate(367.2 107.55) rotate(-90)" text-anchor="middle">E [t]</text></g></g>
<g><clipPath id="cp237"><rect x="392.4" y="237.55" width="182.1" height="135.7"/></clipPath><g clip-path="url(#cp237)" fill="none" stroke-linejoin="round" stroke-linecap="square"><path d="M400.4 364.16L402.81 361.65L405.21 358.94L407.62 356.04L410.03 352.98L412.43 349.77L414.84 346.28L417.25 342.43L419.65 338.45L422.06 334.57L424.47 330.94L426.87 327.37L429.28 323.89L431.68 320.63L434.09 317.68L436.5 315L438.9 312.49L441.31 310.17L443.72 308.04L446.12 306.08L448.53 304.21L450.94 302.49L453.34 300.98L455.75 299.7L458.16 298.57L460.56 297.55L462.97 296.66L465.38 295.93L467.78 295.32L470.19 294.77L472.6 294.31L475 293.94L477.41 293.66L479.82 293.42L482.22 293.24L484.63 293.24L487.03 293.42L489.44 293.66L491.85 293.94L494.25 294.31L496.66 294.77L499.07 295.32L501.47 295.93L503.88 296.66L506.29 297.55L508.69 298.57L511.1 299.7L513.51 300.98L515.91 302.49L518.32 304.21L520.73 306.08L523.13 308.04L525.54 310.17L527.95 312.49L530.35 315L532.76 317.68L535.17 320.63L537.57 323.89L539.98 327.37L542.38 330.94L544.79 334.57L547.2 338.45L549.6 342.43L552.01 346.28L554.42 349.77L556.82 352.98L559.23 356.04L561.64 358.94L564.04 361.65L566.45 364.16M400.4 359.36L402.81 355.03L405.21 351.45L407.62 348L410.03 344.59L412.43 341.19L414.84 337.65L417.25 333.88L419.65 330.11L422.06 326.54L424.47 323.27L426.87 320.12L429.28 317.1L431.68 314.31L434.09 311.83L436.5 309.59L438.9 307.52L441.31 305.62L443.72 303.88L446.12 302.29L448.53 300.8L450.94 299.42L453.34 298.22L455.75 297.21L458.16 296.31L460.56 295.51L462.97 294.81L465.38 294.24L467.78 293.76L470.19 293.34L472.6 292.98L475 292.69L477.41 292.47L479.82 292.28L482.22 292.15L484.63 292.15L487.03 292.28L489.44 292.47L491.85 292.69L494.25 292.98L496.66 293.34L499.07 293.76L501.47 294.24L503.88 294.81L506.29 295.51L508.69 296.31L511.1 297.21L513.51 298.22L515.91 299.42L518.32 300.8L520.73 302.29L523.13 303.88L525.54 305.62L527.95 307.52L530.35 309.59L532.76 311.83L535.17 314.31L537.57 317.1L539.98 320.12L542.38 323.27L544.79 326.54L547.2 330.11L549.6 333.88L552.01 337.65L554.42 341.19L556.82 344.59L559.23 348L561.64 351.45L564.04 355.03L566.45 359.36M400.4 352.62L402.81 351.58L405.21 350.07L407.62 348.25L410.03 346.16L412.43 343.83L414.84 341.17L417.25 338.09L419.65 334.78L422.06 331.43L424.47 328.22L426.87 324.99L429.28 321.77L431.68 318.69L434.09 315.87L436.5 313.26L438.9 310.8L441.31 308.5L443.72 306.36L446.12 304.38L448.53 302.48L450.94 300.72L453.34 299.16L455.75 297.85L458.16 296.66L460.56 295.6L462.97 294.67L465.38 293.91L467.78 293.27L470.19 292.69L472.6 292.2L475 291.81L477.41 291.51L479.82 291.26L482.22 291.08L484.63 291.08L487.03 291.26L489.44 291.51L491.85 291.81L494.25 292.2L496.66 292.69L499.07 293.27L501.47 293.91L503.88 294.67L506.29 295.6L508.69 296.66L511.1 297.85L513.51 299.16L515.91 300.72L518.32 302.48L520.73 304.38L523.13 306.36L525.54 308.5L527.95 310.8L530.35 313.26L532.76 315.87L535.17 318.69L537.57 321.77L539.98 324.99L542.38 328.22L544.79 331.43L547.2 334.78L549.6 338.09L552.01 341.17L554.42 343.83L556.82 346.16L559.23 348.25L561.64 350.07L564.04 351.58L566.45 352.62M400.4 347.01L402.81 345L405.21 342.82L407.62 340.49L410.03 338.02L412.43 335.44L414.84 332.64L417.25 329.54L419.65 326.34L422.06 323.21L424.47 320.3L426.87 317.42L429.28 314.63L431.68 312L434.09 309.63L436.5 307.47L438.9 305.46L441.31 303.59L443.72 301.88L446.12 300.3L448.53 298.8L450.94 297.42L453.34 296.2L455.75 295.17L458.16 294.26L460.56 293.44L462.97 292.72L465.38 292.14L467.78 291.64L470.19 291.21L472.6 290.83L475 290.53L477.41 290.31L479.82 290.12L482.22 289.98L484.63 289.98L487.03 290.12L489.44 290.31L491.85 290.53L494.25 290.83L496.66 291.21L499.07 291.64L501.47 292.14L503.88 292.72L506.29 293.44L508.69 294.26L511.1 295.17L513.51 296.2L515.91 297.42L518.32 298.8L520.73 300.3L523.13 301.88L525.54 303.59L527.95 305.46L530.35 307.47L532.76 309.63L535.17 312L537.57 314.63L539.98 317.42L542.38 320.3L544.79 323.21L547.2 326.34L549.6 329.54L552.01 332.64L554.42 335.44L556.82 338.02L559.23 340.49L561.64 342.82L564.04 345L566.45 347.01M400.4 340.05L402.81 339.49L405.21 338.54L407.62 337.31L410.03 335.83L412.43 334.11L414.84 332.09L417.25 329.69L419.65 327.05L422.06 324.33L424.47 321.68L426.87 318.96L429.28 316.23L431.68 313.58L434.09 311.14L436.5 308.86L438.9 306.69L441.31 304.66L443.72 302.76L446.12 300.98L448.53 299.28L450.94 297.7L453.34 296.28L455.75 295.09L458.16 294.01L460.56 293.04L462.97 292.2L465.38 291.5L467.78 290.91L470.19 290.38L472.6 289.94L475 289.58L477.41 289.3L479.82 289.07L482.22 288.9L484.63 288.9L487.03 289.07L489.44 289.3L491.85 289.58L494.25 289.94L496.66 290.38L499.07 290.91L501.47 291.5L503.88 292.2L506.29 293.04L508.69 294.01L511.1 295.09L513.51 296.28L515.91 297.7L518.32 299.28L520.73 300.98L523.13 302.76L525.54 304.66L527.95 306.69L530.35 308.86L532.76 311.14L535.17 313.58L537.57 316.23L539.98 318.96L542.38 321.68L544.79 324.33L547.2 327.05L549.6 329.69L552.01 332.09L554.42 334.11L556.82 335.83L559.23 337.31L561.64 338.54L564.04 339.49L566.45 340.05M400.4 333.76L402.81 331.49L405.21 329.37L407.62 327.23L410.03 325.04L412.43 322.82L414.84 320.46L417.25 317.91L419.65 315.32L422.06 312.83L424.47 310.53L426.87 308.29L429.28 306.14L431.68 304.13L434.09 302.34L436.5 300.71L438.9 299.19L441.31 297.8L443.72 296.52L446.12 295.35L448.53 294.24L450.94 293.23L453.34 292.33L455.75 291.58L458.16 290.91L460.56 290.31L462.97 289.79L465.38 289.36L467.78 289L470.19 288.69L472.6 288.42L475 288.2L477.41 288.03L479.82 287.89L482.22 287.79L484.63 287.79L487.03 287.89L489.44 288.03L491.85 288.2L494.25 288.42L496.66 288.69L499.07 289L501.47 289.36L503.88 289.79L506.29 290.31L508.69 290.91L511.1 291.58L513.51 292.33L515.91 293.23L518.32 294.24L520.73 295.35L523.13 296.52L525.54 297.8L527.95 299.19L530.35 300.71L532.76 302.34L535.17 304.13L537.57 306.14L539.98 308.29L542.38 310.53L544.79 312.83L547.2 315.32L549.6 317.91L552.01 320.46L554.42 322.82L556.82 325.04L559.23 327.23L561.64 329.37L564.04 331.49L566.45 333.76M400.4 326.8L402.81 326.48L405.21 325.88L407.62 325.07L410.03 324.04L412.43 322.83L414.84 321.36L417.25 319.59L419.65 317.59L422.06 315.51L424.47 313.45L426.87 311.32L429.28 309.16L431.68 307.05L434.09 305.08L436.5 303.24L438.9 301.48L441.31 299.81L443.72 298.25L446.12 296.79L448.53 295.38L450.94 294.07L453.34 292.9L455.75 291.9L458.16 291.01L460.56 290.2L462.97 289.49L465.38 288.9L467.78 288.41L470.19 287.97L472.6 287.59L475 287.29L477.41 287.06L479.82 286.86L482.22 286.72L484.63 286.72L487.03 286.86L489.44 287.06L491.85 287.29L494.25 287.59L496.66 287.97L499.07 288.41L501.47 288.9L503.88 289.49L506.29 290.2L508.69 291.01L511.1 291.9L513.51 292.9L515.91 294.07L518.32 295.38L520.73 296.79L523.13 298.25L525.54 299.81L527.95 301.48L530.35 303.24L532.76 305.08L535.17 307.05L537.57 309.16L539.98 311.32L542.38 313.45L544.79 315.51L547.2 317.59L549.6 319.59L552.01 321.36L554.42 322.83L556.82 324.04L559.23 325.07L561.64 325.88L564.04 326.48L566.45 326.8M400.4 321.77L402.81 320.86L405.21 319.73L407.62 318.44L410.03 317.04L412.43 315.52L414.84 313.83L417.25 311.93L419.65 309.93L422.06 307.95L424.47 306.08L426.87 304.21L429.28 302.38L431.68 300.64L434.09 299.06L436.5 297.61L438.9 296.25L441.31 294.99L443.72 293.83L446.12 292.75L448.53 291.72L450.94 290.77L453.34 289.93L455.75 289.23L458.16 288.59L460.56 288.02L462.97 287.53L465.38 287.12L467.78 286.78L470.19 286.48L472.6 286.22L475 286.01L477.41 285.85L479.82 285.72L482.22 285.62L484.63 285.62L487.03 285.72L489.44 285.85L491.85 286.01L494.25 286.22L496.66 286.48L499.07 286.78L501.47 287.12L503.88 287.53L506.29 288.02L508.69 288.59L511.1 289.23L513.51 289.93L515.91 290.77L518.32 291.72L520.73 292.75L523.13 293.83L525.54 294.99L527.95 296.25L530.35 297.61L532.76 299.06L535.17 300.64L537.57 302.38L539.98 304.21L542.38 306.08L544.79 307.95L547.2 309.93L549.6 311.93L552.01 313.83L554.42 315.52L556.82 317.04L559.23 318.44L561.64 319.73L564.04 320.86L566.45 321.77M400.4 314.45L402.81 314.3L405.21 313.99L407.62 313.51L410.03 312.89L412.43 312.12L414.84 311.15L417.25 309.94L419.65 308.55L422.06 307.06L424.47 305.56L426.87 303.98L429.28 302.36L431.68 300.75L434.09 299.24L436.5 297.81L438.9 296.43L441.31 295.12L443.72 293.88L446.12 292.72L448.53 291.59L450.94 290.53L453.34 289.59L455.75 288.78L458.16 288.05L460.56 287.39L462.97 286.81L465.38 286.33L467.78 285.93L470.19 285.57L472.6 285.26L475 285.01L477.41 284.82L479.82 284.66L482.22 284.54L484.63 284.54L487.03 284.66L489.44 284.82L491.85 285.01L494.25 285.26L496.66 285.57L499.07 285.93L501.47 286.33L503.88 286.81L506.29 287.39L508.69 288.05L511.1 288.78L513.51 289.59L515.91 290.53L518.32 291.59L520.73 292.72L523.13 293.88L525.54 295.12L527.95 296.43L530.35 297.81L532.76 299.24L535.17 300.75L537.57 302.36L539.98 303.98L542.38 305.56L544.79 307.06L547.2 308.55L549.6 309.94L552.01 311.15L554.42 312.12L556.82 312.89L559.23 313.51L561.64 313.99L564.04 314.3L566.45 314.45M400.4 307.48L402.81 307.17L405.21 306.67L407.62 306.05L410.03 305.3L412.43 304.46L414.84 303.47L417.25 302.32L419.65 301.05L422.06 299.76L424.47 298.51L426.87 297.24L429.28 295.96L431.68 294.73L434.09 293.6L436.5 292.55L438.9 291.55L441.31 290.62L443.72 289.75L446.12 288.94L448.53 288.16L450.94 287.44L453.34 286.79L455.75 286.25L458.16 285.76L460.56 285.32L462.97 284.94L465.38 284.62L467.78 284.35L470.19 284.11L472.6 283.91L475 283.75L477.41 283.62L479.82 283.52L482.22 283.44L484.63 283.44L487.03 283.52L489.44 283.62L491.85 283.75L494.25 283.91L496.66 284.11L499.07 284.35L501.47 284.62L503.88 284.94L506.29 285.32L508.69 285.76L511.1 286.25L513.51 286.79L515.91 287.44L518.32 288.16L520.73 288.94L523.13 289.75L525.54 290.62L527.95 291.55L530.35 292.55L532.76 293.6L535.17 294.73L537.57 295.96L539.98 297.24L542.38 298.51L544.79 299.76L547.2 301.05L549.6 302.32L552.01 303.47L554.42 304.46L556.82 305.3L559.23 306.05L561.64 306.67L564.04 307.17L566.45 307.48M400.4 299.7L402.81 299.66L405.21 299.54L407.62 299.35L410.03 299.08L412.43 298.72L414.84 298.25L417.25 297.64L419.65 296.91L422.06 296.1L424.47 295.27L426.87 294.38L429.28 293.44L431.68 292.49L434.09 291.59L436.5 290.73L438.9 289.89L441.31 289.09L443.72 288.32L446.12 287.59L448.53 286.88L450.94 286.21L453.34 285.61L455.75 285.1L458.16 284.63L460.56 284.2L462.97 283.83L465.38 283.52L467.78 283.26L470.19 283.02L472.6 282.82L475 282.66L477.41 282.54L479.82 282.43L482.22 282.36L484.63 282.36L487.03 282.43L489.44 282.54L491.85 282.66L494.25 282.82L496.66 283.02L499.07 283.26L501.47 283.52L503.88 283.83L506.29 284.2L508.69 284.63L511.1 285.1L513.51 285.61L515.91 286.21L518.32 286.88L520.73 287.59L523.13 288.32L525.54 289.09L527.95 289.89L530.35 290.73L532.76 291.59L535.17 292.49L537.57 293.44L539.98 294.38L542.38 295.27L544.79 296.1L547.2 296.91L549.6 297.64L552.01 298.25L554.42 298.72L556.82 299.08L559.23 299.35L561.64 299.54L564.04 299.66L566.45 299.7M400.4 292.96L404.77 292.98L409.14 293.02L413.51 293.09L417.88 293.18L422.25 293.26L426.62 293.31L430.99 293.28L435.36 293.1L439.73 292.74L444.1 292.18L448.47 291.42L452.84 290.52L457.21 289.65L461.58 288.81L465.95 288.1L470.32 287.52L474.69 287.06L479.06 286.76L483.43 286.58L487.79 286.76L492.16 287.06L496.53 287.52L500.9 288.1L505.27 288.81L509.64 289.65L514.01 290.52L518.38 291.42L522.75 292.18L527.12 292.74L531.49 293.1L535.86 293.28L540.23 293.31L544.6 293.26L548.97 293.18L553.34 293.09L557.71 293.02L562.08 292.98L566.45 292.96M400.4 291.73L403.93 291.72L407.47 291.69L411 291.65L414.53 291.6L418.06 291.54L421.6 291.47L425.13 291.38L428.66 291.25L432.2 291.06L435.73 290.79L439.26 290.43L442.8 289.97L446.33 289.42L449.86 288.77L453.39 288.11L456.93 287.5L460.46 286.93L463.99 286.44L467.53 286.05L471.06 285.71L474.59 285.44L478.13 285.25L481.66 285.11L485.19 285.11L488.72 285.25L492.26 285.44L495.79 285.71L499.32 286.05L502.86 286.44L506.39 286.93L509.92 287.5L513.46 288.11L516.99 288.77L520.52 289.42L524.05 289.97L527.59 290.43L531.12 290.79L534.65 291.06L538.19 291.25L541.72 291.38L545.25 291.47L548.79 291.54L552.32 291.6L555.85 291.65L559.38 291.69L562.92 291.72L566.45 291.73M400.4 290.32L405.14 290.34L409.89 290.4L414.63 290.49L419.38 290.6L424.12 290.69L428.87 290.72L433.61 290.61L438.35 290.31L443.1 289.78L447.84 289.03L452.59 288.1L457.33 287.19L462.08 286.31L466.82 285.58L471.56 284.99L476.31 284.56L481.05 284.29L485.8 284.29L490.54 284.56L495.29 284.99L500.03 285.58L504.77 286.31L509.52 287.19L514.26 288.1L519.01 289.03L523.75 289.78L528.5 290.31L533.24 290.61L537.98 290.72L542.73 290.69L547.47 290.6L552.22 290.49L556.96 290.4L561.71 290.34L566.45 290.32M400.4 288.31L405.01 288.3L409.62 288.25L414.24 288.17L418.85 288.07L423.46 287.94L428.07 287.77L432.69 287.5L437.3 287.1L441.91 286.55L446.52 285.86L451.14 285.05L455.75 284.27L460.36 283.56L464.98 282.98L469.59 282.55L474.2 282.21L478.81 281.98L483.43 281.83L488.04 281.98L492.65 282.21L497.26 282.55L501.88 282.98L506.49 283.56L511.1 284.27L515.71 285.05L520.33 285.86L524.94 286.55L529.55 287.1L534.16 287.5L538.78 287.77L543.39 287.94L548 288.07L552.61 288.17L557.23 288.25L561.84 288.3L566.45 288.31M400.4 287.06L403.93 287.05L407.47 287.01L411 286.96L414.53 286.89L418.06 286.8L421.6 286.7L425.13 286.57L428.66 286.39L432.2 286.15L435.73 285.82L439.26 285.4L442.8 284.89L446.33 284.3L449.86 283.63L453.39 282.95L456.93 282.35L460.46 281.79L463.99 281.31L467.53 280.94L471.06 280.62L474.59 280.37L478.13 280.2L481.66 280.06L485.19 280.06L488.72 280.2L492.26 280.37L495.79 280.62L499.32 280.94L502.86 281.31L506.39 281.79L509.92 282.35L513.46 282.95L516.99 283.63L520.52 284.3L524.05 284.89L527.59 285.4L531.12 285.82L534.65 286.15L538.19 286.39L541.72 286.57L545.25 286.7L548.79 286.8L552.32 286.89L555.85 286.96L559.38 287.01L562.92 287.05L566.45 287.06M400.4 285.73L404.45 285.73L408.5 285.73L412.55 285.72L416.6 285.7L420.65 285.67L424.7 285.61L428.75 285.49L432.8 285.26L436.85 284.9L440.9 284.39L444.95 283.75L449 282.98L453.05 282.15L457.1 281.39L461.15 280.68L465.2 280.09L469.25 279.62L473.3 279.23L477.35 278.96L481.4 278.77L485.45 278.77L489.5 278.96L493.55 279.23L497.6 279.62L501.65 280.09L505.7 280.68L509.75 281.39L513.8 282.15L517.85 282.98L521.9 283.75L525.95 284.39L530 284.9L534.05 285.26L538.1 285.49L542.15 285.61L546.2 285.67L550.25 285.7L554.3 285.72L558.35 285.73L562.4 285.73L566.45 285.73M400.4 284.28L404.89 284.29L409.38 284.31L413.86 284.35L418.35 284.39L422.84 284.4L427.33 284.34L431.81 284.12L436.3 283.71L440.79 283.09L445.28 282.26L449.77 281.26L454.25 280.21L458.74 279.26L463.23 278.41L467.72 277.73L472.21 277.18L476.69 276.79L481.18 276.53L485.67 276.53L490.16 276.79L494.64 277.18L499.13 277.73L503.62 278.41L508.11 279.26L512.6 280.21L517.08 281.26L521.57 282.26L526.06 283.09L530.55 283.71L535.04 284.12L539.52 284.34L544.01 284.4L548.5 284.39L552.99 284.35L557.47 284.31L561.96 284.29L566.45 284.28M400.4 283.48L403.86 283.49L407.32 283.53L410.78 283.58L414.24 283.64L417.7 283.72L421.16 283.78L424.62 283.83L428.07 283.81L431.53 283.71L434.99 283.5L438.45 283.17L441.91 282.71L445.37 282.14L448.83 281.45L452.29 280.7L455.75 279.97L459.21 279.27L462.67 278.61L466.13 278.06L469.59 277.59L473.05 277.19L476.51 276.89L479.97 276.68L483.43 276.55L486.88 276.68L490.34 276.89L493.8 277.19L497.26 277.59L500.72 278.06L504.18 278.61L507.64 279.27L511.1 279.97L514.56 280.7L518.02 281.45L521.48 282.14L524.94 282.71L528.4 283.17L531.86 283.5L535.32 283.71L538.78 283.81L542.23 283.83L545.69 283.78L549.15 283.72L552.61 283.64L556.07 283.58L559.53 283.53L562.99 283.49L566.45 283.48M400.4 282.15L404.35 282.16L408.31 282.2L412.26 282.25L416.21 282.31L420.17 282.36L424.12 282.38L428.07 282.32L432.03 282.12L435.98 281.76L439.94 281.23L443.89 280.53L447.84 279.69L451.8 278.74L455.75 277.83L459.7 276.98L463.66 276.22L467.61 275.6L471.56 275.08L475.52 274.69L479.47 274.42L483.43 274.27L487.38 274.42L491.33 274.69L495.29 275.08L499.24 275.6L503.19 276.22L507.15 276.98L511.1 277.83L515.05 278.74L519.01 279.69L522.96 280.53L526.91 281.23L530.87 281.76L534.82 282.12L538.78 282.32L542.73 282.38L546.68 282.36L550.64 282.31L554.59 282.25L558.54 282.2L562.5 282.16L566.45 282.15M400.4 280.63L403.79 280.64L407.18 280.67L410.57 280.72L413.96 280.78L417.34 280.85L420.73 280.91L424.12 280.94L427.51 280.9L430.9 280.77L434.29 280.52L437.68 280.14L441.07 279.64L444.45 279.01L447.84 278.28L451.23 277.46L454.62 276.66L458.01 275.91L461.4 275.2L464.79 274.57L468.18 274.06L471.56 273.61L474.95 273.25L478.34 273L481.73 272.82L485.12 272.82L488.51 273L491.9 273.25L495.29 273.61L498.67 274.06L502.06 274.57L505.45 275.2L508.84 275.91L512.23 276.66L515.62 277.46L519.01 278.28L522.4 279.01L525.78 279.64L529.17 280.14L532.56 280.52L535.95 280.77L539.34 280.9L542.73 280.94L546.12 280.91L549.51 280.85L552.89 280.78L556.28 280.72L559.67 280.67L563.06 280.64L566.45 280.63M400.4 278.84L404.45 278.85L408.5 278.88L412.55 278.92L416.6 278.97L420.65 279L424.7 278.98L428.75 278.86L432.8 278.59L436.85 278.14L440.9 277.51L444.95 276.73L449 275.81L453.05 274.82L457.1 273.92L461.15 273.08L465.2 272.36L469.25 271.79L473.3 271.32L477.35 270.99L481.4 270.77L485.45 270.77L489.5 270.99L493.55 271.32L497.6 271.79L501.65 272.36L505.7 273.08L509.75 273.92L513.8 274.82L517.85 275.81L521.9 276.73L525.95 277.51L530 278.14L534.05 278.59L538.1 278.86L542.15 278.98L546.2 279L550.25 278.97L554.3 278.92L558.35 278.88L562.4 278.85L566.45 278.84M400.4 278.19L404.66 278.2L408.92 278.23L413.17 278.28L417.43 278.32L421.69 278.35L425.95 278.32L430.2 278.17L434.46 277.86L438.72 277.37L442.98 276.7L447.23 275.88L451.49 274.93L455.75 274.02L460.01 273.17L464.27 272.42L468.52 271.83L472.78 271.35L477.04 271.01L481.3 270.78L485.55 270.78L489.81 271.01L494.07 271.35L498.33 271.83L502.58 272.42L506.84 273.17L511.1 274.02L515.36 274.93L519.62 275.88L523.87 276.7L528.13 277.37L532.39 277.86L536.65 278.17L540.9 278.32L545.16 278.35L549.42 278.32L553.68 278.28L557.93 278.23L562.19 278.2L566.45 278.19M400.4 277.2L403.93 277.2L407.47 277.21L411 277.22L414.53 277.23L418.06 277.24L421.6 277.22L425.13 277.17L428.66 277.04L432.2 276.81L435.73 276.48L439.26 276.02L442.8 275.46L446.33 274.8L449.86 274.05L453.39 273.28L456.93 272.59L460.46 271.93L463.99 271.35L467.53 270.88L471.06 270.48L474.59 270.16L478.13 269.94L481.66 269.77L485.19 269.77L488.72 269.94L492.26 270.16L495.79 270.48L499.32 270.88L502.86 271.35L506.39 271.93L509.92 272.59L513.46 273.28L516.99 274.05L520.52 274.8L524.05 275.46L527.59 276.02L531.12 276.48L534.65 276.81L538.19 277.04L541.72 277.17L545.25 277.22L548.79 277.24L552.32 277.23L555.85 277.22L559.38 277.21L562.92 277.2L566.45 277.2M400.4 276.55L404.26 276.56L408.12 276.58L411.98 276.62L415.85 276.66L419.71 276.69L423.57 276.69L427.43 276.61L431.29 276.42L435.15 276.09L439.02 275.62L442.88 275L446.74 274.26L450.6 273.41L454.46 272.57L458.32 271.79L462.19 271.07L466.05 270.47L469.91 269.98L473.77 269.57L477.63 269.29L481.49 269.09L485.36 269.09L489.22 269.29L493.08 269.57L496.94 269.98L500.8 270.47L504.66 271.07L508.53 271.79L512.39 272.57L516.25 273.41L520.11 274.26L523.97 275L527.83 275.62L531.7 276.09L535.56 276.42L539.42 276.61L543.28 276.69L547.14 276.69L551 276.66L554.87 276.62L558.73 276.58L562.59 276.56L566.45 276.55M400.4 274.74L404.17 274.72L407.95 274.68L411.72 274.62L415.5 274.53L419.27 274.41L423.04 274.25L426.82 274.01L430.59 273.66L434.36 273.19L438.14 272.61L441.91 271.91L445.69 271.14L449.46 270.3L453.23 269.46L457.01 268.74L460.78 268.09L464.56 267.55L468.33 267.15L472.1 266.81L475.88 266.56L479.65 266.37L483.43 266.25L487.2 266.37L490.97 266.56L494.75 266.81L498.52 267.15L502.29 267.55L506.07 268.09L509.84 268.74L513.62 269.46L517.39 270.3L521.16 271.14L524.94 271.91L528.71 272.61L532.49 273.19L536.26 273.66L540.03 274.01L543.81 274.25L547.58 274.41L551.35 274.53L555.13 274.62L558.9 274.68L562.68 274.72L566.45 274.74M400.4 273.11L404.55 273.12L408.7 273.17L412.85 273.23L417 273.3L421.16 273.34L425.31 273.31L429.46 273.12L433.61 272.74L437.76 272.17L441.91 271.4L446.06 270.48L450.22 269.41L454.37 268.35L458.52 267.38L462.67 266.5L466.82 265.78L470.97 265.19L475.12 264.74L479.27 264.44L483.43 264.26L487.58 264.44L491.73 264.74L495.88 265.19L500.03 265.78L504.18 266.5L508.33 267.38L512.48 268.35L516.63 269.41L520.79 270.48L524.94 271.4L529.09 272.17L533.24 272.74L537.39 273.12L541.54 273.31L545.69 273.34L549.85 273.3L554 273.23L558.15 273.17L562.3 273.12L566.45 273.11M400.4 272.54L404.77 272.53L409.14 272.49L413.51 272.43L417.88 272.33L422.25 272.19L426.62 271.98L430.99 271.63L435.36 271.14L439.73 270.5L444.1 269.74L448.47 268.89L452.84 267.99L457.21 267.21L461.58 266.52L465.95 265.97L470.32 265.55L474.69 265.23L479.06 265.01L483.43 264.87L487.79 265.01L492.16 265.23L496.53 265.55L500.9 265.97L505.27 266.52L509.64 267.21L514.01 267.99L518.38 268.89L522.75 269.74L527.12 270.5L531.49 271.14L535.86 271.63L540.23 271.98L544.6 272.19L548.97 272.33L553.34 272.43L557.71 272.49L562.08 272.53L566.45 272.54M400.4 270.45L403.79 270.45L407.18 270.48L410.57 270.51L413.96 270.55L417.34 270.59L420.73 270.62L424.12 270.61L427.51 270.54L430.9 270.38L434.29 270.12L437.68 269.75L441.07 269.28L444.45 268.72L447.84 268.07L451.23 267.35L454.62 266.65L458.01 266.01L461.4 265.39L464.79 264.86L468.18 264.41L471.56 264.03L474.95 263.72L478.34 263.5L481.73 263.35L485.12 263.35L488.51 263.5L491.9 263.72L495.29 264.03L498.67 264.41L502.06 264.86L505.45 265.39L508.84 266.01L512.23 266.65L515.62 267.35L519.01 268.07L522.4 268.72L525.78 269.28L529.17 269.75L532.56 270.12L535.95 270.38L539.34 270.54L542.73 270.61L546.12 270.62L549.51 270.59L552.89 270.55L556.28 270.51L559.67 270.48L563.06 270.45L566.45 270.45M400.4 268.38L404.09 268.37L407.78 268.35L411.47 268.31L415.16 268.26L418.85 268.18L422.54 268.06L426.23 267.88L429.92 267.6L433.61 267.22L437.3 266.74L440.99 266.16L444.68 265.5L448.37 264.77L452.06 264.01L455.75 263.33L459.44 262.72L463.13 262.17L466.82 261.75L470.51 261.4L474.2 261.12L477.89 260.93L481.58 260.78L485.27 260.78L488.96 260.93L492.65 261.12L496.34 261.4L500.03 261.75L503.72 262.17L507.41 262.72L511.1 263.33L514.79 264.01L518.48 264.77L522.17 265.5L525.86 266.16L529.55 266.74L533.24 267.22L536.93 267.6L540.62 267.88L544.31 268.06L548 268.18L551.69 268.26L555.38 268.31L559.07 268.35L562.76 268.37L566.45 268.38M400.4 266.81L404.89 266.82L409.38 266.83L413.86 266.83L418.35 266.81L422.84 266.72L427.33 266.51L431.81 266.1L436.3 265.49L440.79 264.68L445.28 263.73L449.77 262.65L454.25 261.58L458.74 260.64L463.23 259.81L467.72 259.17L472.21 258.65L476.69 258.29L481.18 258.05L485.67 258.05L490.16 258.29L494.64 258.65L499.13 259.17L503.62 259.81L508.11 260.64L512.6 261.58L517.08 262.65L521.57 263.73L526.06 264.68L530.55 265.49L535.04 266.1L539.52 266.51L544.01 266.72L548.5 266.81L552.99 266.83L557.47 266.83L561.96 266.82L566.45 266.81M400.4 265.31L404.35 265.31L408.31 265.3L412.26 265.28L416.21 265.25L420.17 265.19L424.12 265.07L428.07 264.87L432.03 264.53L435.98 264.08L439.94 263.51L443.89 262.83L447.84 262.08L451.8 261.26L455.75 260.52L459.7 259.84L463.66 259.26L467.61 258.8L471.56 258.42L475.52 258.13L479.47 257.93L483.43 257.81L487.38 257.93L491.33 258.13L495.29 258.42L499.24 258.8L503.19 259.26L507.15 259.84L511.1 260.52L515.05 261.26L519.01 262.08L522.96 262.83L526.91 263.51L530.87 264.08L534.82 264.53L538.78 264.87L542.73 265.07L546.68 265.19L550.64 265.25L554.59 265.28L558.54 265.3L562.5 265.31L566.45 265.31M400.4 264.56L403.79 264.56L407.18 264.57L410.57 264.58L413.96 264.59L417.34 264.59L420.73 264.56L424.12 264.5L427.51 264.36L430.9 264.13L434.29 263.81L437.68 263.39L441.07 262.88L444.45 262.29L447.84 261.63L451.23 260.92L454.62 260.25L458.01 259.63L461.4 259.05L464.79 258.56L468.18 258.15L471.56 257.8L474.95 257.53L478.34 257.33L481.73 257.19L485.12 257.19L488.51 257.33L491.9 257.53L495.29 257.8L498.67 258.15L502.06 258.56L505.45 259.05L508.84 259.63L512.23 260.25L515.62 260.92L519.01 261.63L522.4 262.29L525.78 262.88L529.17 263.39L532.56 263.81L535.95 264.13L539.34 264.36L542.73 264.5L546.12 264.56L549.51 264.59L552.89 264.59L556.28 264.58L559.67 264.57L563.06 264.56L566.45 264.56M400.4 264.04L404.66 264.03L408.92 264.02L413.17 264L417.43 263.95L421.69 263.86L425.95 263.69L430.2 263.39L434.46 262.94L438.72 262.35L442.98 261.63L447.23 260.82L451.49 259.93L455.75 259.12L460.01 258.39L464.27 257.77L468.52 257.3L472.78 256.91L477.04 256.64L481.3 256.45L485.55 256.45L489.81 256.64L494.07 256.91L498.33 257.3L502.58 257.77L506.84 258.39L511.1 259.12L515.36 259.93L519.62 260.82L523.87 261.63L528.13 262.35L532.39 262.94L536.65 263.39L540.9 263.69L545.16 263.86L549.42 263.95L553.68 264L557.93 264.02L562.19 264.03L566.45 264.04M400.4 262.68L404.66 262.69L408.92 262.71L413.17 262.75L417.43 262.77L421.69 262.73L425.95 262.58L430.2 262.25L434.46 261.73L438.72 261.02L442.98 260.14L447.23 259.15L451.49 258.06L455.75 257.05L460.01 256.13L464.27 255.34L468.52 254.72L472.78 254.22L477.04 253.86L481.3 253.63L485.55 253.63L489.81 253.86L494.07 254.22L498.33 254.72L502.58 255.34L506.84 256.13L511.1 257.05L515.36 258.06L519.62 259.15L523.87 260.14L528.13 261.02L532.39 261.73L536.65 262.25L540.9 262.58L545.16 262.73L549.42 262.77L553.68 262.75L557.93 262.71L562.19 262.69L566.45 262.68M400.4 262.09L415.5 262.12L430.59 262.19L445.69 262.3L460.78 262.39L475.88 262.45L490.97 262.45L506.07 262.39L521.16 262.3L536.26 262.19L551.35 262.12L566.45 262.09M400.4 261.28L410.78 261.3L421.16 261.35L431.53 261.42L441.91 261.51L452.29 261.6L462.67 261.67L473.05 261.72L483.43 261.74L493.8 261.72L504.18 261.67L514.56 261.6L524.94 261.51L535.32 261.42L545.69 261.35L556.07 261.3L566.45 261.28M400.4 260.39L411.47 260.36L422.54 260.29L433.61 260.18L444.68 260.05L455.75 259.93L466.82 259.83L477.89 259.78L488.96 259.78L500.03 259.83L511.1 259.93L522.17 260.05L533.24 260.18L544.31 260.29L555.38 260.36L566.45 260.39M400.4 259.84L418.85 259.85L437.3 259.88L455.75 259.92L474.2 259.94L492.65 259.94L511.1 259.92L529.55 259.88L548 259.85L566.45 259.84M400.4 258.59L414.24 258.59L428.07 258.58L441.91 258.58L455.75 258.58L469.59 258.57L483.43 258.57L497.26 258.57L511.1 258.58L524.94 258.58L538.78 258.58L552.61 258.59L566.45 258.59M400.4 257.37L414.24 257.35L428.07 257.3L441.91 257.23L455.75 257.16L469.59 257.11L483.43 257.1L497.26 257.11L511.1 257.16L524.94 257.23L538.78 257.3L552.61 257.35L566.45 257.37M400.4 255.5L411.47 255.48L422.54 255.41L433.61 255.31L444.68 255.2L455.75 255.09L466.82 255.01L477.89 254.96L488.96 254.96L500.03 255.01L511.1 255.09L522.17 255.2L533.24 255.31L544.31 255.41L555.38 255.48L566.45 255.5M400.4 252.93L418.85 252.98L437.3 253.11L455.75 253.26L474.2 253.36L492.65 253.36L511.1 253.26L529.55 253.11L548 252.98L566.45 252.93M400.4 251.39L418.85 251.39L437.3 251.4L455.75 251.41L474.2 251.42L492.65 251.42L511.1 251.41L529.55 251.4L548 251.39L566.45 251.39M400.4 250.08L415.5 250.03L430.59 249.91L445.69 249.75L460.78 249.61L475.88 249.52L490.97 249.52L506.07 249.61L521.16 249.75L536.26 249.91L551.35 250.03L566.45 250.08M400.4 248.5L412.26 248.53L424.12 248.61L435.98 248.73L447.84 248.86L459.7 248.98L471.56 249.06L483.43 249.09L495.29 249.06L507.15 248.98L519.01 248.86L530.87 248.73L542.73 248.61L554.59 248.53L566.45 248.5M400.4 247.26L417 247.32L433.61 247.47L450.22 247.65L466.82 247.8L483.43 247.86L500.03 247.8L516.63 247.65L533.24 247.47L549.85 247.32L566.45 247.26M400.4 246.31L417 246.3L433.61 246.29L450.22 246.28L466.82 246.27L483.43 246.27L500.03 246.27L516.63 246.28L533.24 246.29L549.85 246.3L566.45 246.31M400.4 244.19L411.47 244.21L422.54 244.27L433.61 244.36L444.68 244.46L455.75 244.55L466.82 244.63L477.89 244.67L488.96 244.67L500.03 244.63L511.1 244.55L522.17 244.46L533.24 244.36L544.31 244.27L555.38 244.21L566.45 244.19M400.4 242.07L410.78 242.06L421.16 242.04L431.53 242L441.91 241.96L452.29 241.92L462.67 241.89L473.05 241.86L483.43 241.85L493.8 241.86L504.18 241.89L514.56 241.92L524.94 241.96L535.32 242L545.69 242.04L556.07 242.06L566.45 242.07M400.4 240.2L421.16 240.27L441.91 240.45L462.67 240.62L483.43 240.69L504.18 240.62L524.94 240.45L545.69 240.27L566.45 240.2M400.4 238.55L413.17 238.55L425.95 238.56L438.72 238.57L451.49 238.57L464.27 238.58L477.04 238.59L489.81 238.59L502.58 238.58L515.36 238.57L528.13 238.57L540.9 238.56L553.68 238.55L566.45 238.55M400.4 237.54L421.16 237.45L441.91 237.23L462.67 237L483.43 236.91L504.18 237L524.94 237.23L545.69 237.45L566.45 237.54" stroke="#808080" stroke-width="1"/><path d="M400.4 366.87L401.8 367.29L403.19 367.69L404.59 368.09L405.98 368.48L407.38 368.87L408.77 369.25L410.17 369.61L411.56 369.97L412.96 370.32L414.35 370.66L415.75 370.99L417.14 371.3L418.54 371.61L419.94 371.89L421.33 372.16L422.73 372.42L424.12 372.64L425.52 372.84L426.91 372.98L428.31 372.98L429.7 372.98L431.1 372.98L432.49 372.98L433.89 372.98L435.28 372.98L436.68 372.98L438.08 372.98L439.47 372.98L440.87 372.98L442.26 372.98L443.66 372.98L445.05 372.98L446.45 372.98L447.84 372.98L449.24 372.98L450.63 372.98L452.03 372.98L453.42 372.98L454.82 372.98L456.22 372.98L457.61 372.98L459.01 372.98L460.4 372.98L461.8 372.98L463.19 372.98L464.59 372.98L465.98 372.98L467.38 372.98L468.77 372.98L470.17 372.98L471.56 372.98L472.96 372.98L474.36 372.98L475.75 372.98L477.15 372.98L478.54 372.98L479.94 372.98L481.33 372.98L482.73 372.98L484.12 372.98L485.52 372.98L486.91 372.98L488.31 372.98L489.7 372.98L491.1 372.98L492.49 372.98L493.89 372.98L495.29 372.98L496.68 372.98L498.08 372.98L499.47 372.98L500.87 372.98L502.26 372.98L503.66 372.98L505.05 372.98L506.45 372.98L507.84 372.98L509.24 372.98L510.63 372.98L512.03 372.98L513.43 372.98L514.82 372.98L516.22 372.98L517.61 372.98L519.01 372.98L520.4 372.98L521.8 372.98L523.19 372.98L524.59 372.98L525.98 372.98L527.38 372.98L528.77 372.98L530.17 372.98L531.57 372.98L532.96 372.98L534.36 372.98L535.75 372.98L537.15 372.98L538.54 372.98L539.94 372.98L541.33 372.84L542.73 372.64L544.12 372.42L545.52 372.16L546.91 371.89L548.31 371.61L549.71 371.3L551.1 370.99L552.5 370.66L553.89 370.32L555.29 369.97L556.68 369.61L558.08 369.25L559.47 368.87L560.87 368.48L562.26 368.09L563.66 367.69L565.05 367.29L566.45 366.87M400.4 368.23L401.8 368.44L403.19 368.65L404.59 368.87L405.98 369.08L407.38 369.3L408.77 369.52L410.17 369.74L411.56 369.96L412.96 370.18L414.35 370.41L415.75 370.63L417.14 370.86L418.54 371.1L419.94 371.33L421.33 371.57L422.73 371.82L424.12 372.07L425.52 372.33L426.91 372.6L428.31 372.89L429.7 372.98L431.1 372.98L432.49 372.98L433.89 372.98L435.28 372.98L436.68 372.98L438.08 372.98L439.47 372.98L440.87 372.98L442.26 372.98L443.66 372.98L445.05 372.98L446.45 372.98L447.84 372.98L449.24 372.98L450.63 372.98L452.03 372.98L453.42 372.98L454.82 372.98L456.22 372.98L457.61 372.98L459.01 372.98L460.4 372.98L461.8 372.98L463.19 372.98L464.59 372.98L465.98 372.98L467.38 372.98L468.77 372.98L470.17 372.98L471.56 372.98L472.96 372.98L474.36 372.98L475.75 372.98L477.15 372.98L478.54 372.98L479.94 372.98L481.33 372.98L482.73 372.98L484.12 372.98L485.52 372.98L486.91 372.98L488.31 372.98L489.7 372.98L491.1 372.98L492.49 372.98L493.89 372.98L495.29 372.98L496.68 372.98L498.08 372.98L499.47 372.98L500.87 372.98L502.26 372.98L503.66 372.98L505.05 372.98L506.45 372.98L507.84 372.98L509.24 372.98L510.63 372.98L512.03 372.98L513.43 372.98L514.82 372.98L516.22 372.98L517.61 372.98L519.01 372.98L520.4 372.98L521.8 372.98L523.19 372.98L524.59 372.98L525.98 372.98L527.38 372.98L528.77 372.98L530.17 372.98L531.57 372.98L532.96 372.98L534.36 372.98L535.75 372.98L537.15 372.98L538.54 372.89L539.94 372.6L541.33 372.33L542.73 372.07L544.12 371.82L545.52 371.57L546.91 371.33L548.31 371.1L549.71 370.86L551.1 370.63L552.5 370.41L553.89 370.18L555.29 369.96L556.68 369.74L558.08 369.52L559.47 369.3L560.87 369.08L562.26 368.87L563.66 368.65L565.05 368.44L566.45 368.23M400.4 367.32L401.8 367.74L403.19 368.15L404.59 368.56L405.98 368.98L407.38 369.39L408.77 369.8L410.17 370.22L411.56 370.63L412.96 371.04L414.35 371.46L415.75 371.87L417.14 372.28L418.54 372.7L419.94 372.98L421.33 372.98L422.73 372.98L424.12 372.98L425.52 372.98L426.91 372.98L428.31 372.98L429.7 372.98L431.1 372.98L432.49 372.98L433.89 372.98L435.28 372.98L436.68 372.98L438.08 372.98L439.47 372.98L440.87 372.98L442.26 372.98L443.66 372.98L445.05 372.98L446.45 372.98L447.84 372.98L449.24 372.98L450.63 372.98L452.03 372.98L453.42 372.98L454.82 372.98L456.22 372.98L457.61 372.98L459.01 372.98L460.4 372.98L461.8 372.98L463.19 372.98L464.59 372.98L465.98 372.98L467.38 372.98L468.77 372.98L470.17 372.98L471.56 372.98L472.96 372.98L474.36 372.98L475.75 372.98L477.15 372.98L478.54 372.98L479.94 372.98L481.33 372.98L482.73 372.98L484.12 372.98L485.52 372.98L486.91 372.98L488.31 372.98L489.7 372.98L491.1 372.98L492.49 372.98L493.89 372.98L495.29 372.98L496.68 372.98L498.08 372.98L499.47 372.98L500.87 372.98L502.26 372.98L503.66 372.98L505.05 372.98L506.45 372.98L507.84 372.98L509.24 372.98L510.63 372.98L512.03 372.98L513.43 372.98L514.82 372.98L516.22 372.98L517.61 372.98L519.01 372.98L520.4 372.98L521.8 372.98L523.19 372.98L524.59 372.98L525.98 372.98L527.38 372.98L528.77 372.98L530.17 372.98L531.57 372.98L532.96 372.98L534.36 372.98L535.75 372.98L537.15 372.98L538.54 372.98L539.94 372.98L541.33 372.98L542.73 372.98L544.12 372.98L545.52 372.98L546.91 372.98L548.31 372.7L549.71 372.28L551.1 371.87L552.5 371.46L553.89 371.04L555.29 370.63L556.68 370.22L558.08 369.8L559.47 369.39L560.87 368.98L562.26 368.56L563.66 368.15L565.05 367.74L566.45 367.32" stroke="#ff0000" stroke-width="1"/></g><rect x="392.4" y="237.55" width="182.1" height="135.7" fill="none" stroke="#000" stroke-width="0.55"/><path d="M400.4 373.25v2.4M433.61 373.25v2.4M466.82 373.25v2.4M500.03 373.25v2.4M533.24 373.25v2.4M566.45 373.25v2.4M392.4 373.25h-2.4M392.4 350.63h-2.4M392.4 328.02h-2.4M392.4 305.4h-2.4M392.4 282.78h-2.4M392.4 260.17h-2.4M392.4 237.55h-2.4" stroke="#000" stroke-width="0.55" fill="none"/><g font-family="'DejaVu Sans','Liberation Sans',sans-serif" font-size="8.15" fill="#000" stroke="#000" stroke-width="0.15"><text x="400.4" y="383.7" text-anchor="middle">0.0</text><text x="433.61" y="383.7" text-anchor="middle">0.2</text><text x="466.82" y="383.7" text-anchor="middle">0.4</text><text x="500.03" y="383.7" text-anchor="middle">0.6</text><text x="533.24" y="383.7" text-anchor="middle">0.8</text><text x="566.45" y="383.7" text-anchor="middle">1.0</text><text x="388.1" y="376.2" text-anchor="end">0.00</text><text x="388.1" y="353.58" text-anchor="end">0.05</text><text x="388.1" y="330.97" text-anchor="end">0.10</text><text x="388.1" y="308.35" text-anchor="end">0.15</text><text x="388.1" y="285.73" text-anchor="end">0.20</text><text x="388.1" y="263.12" text-anchor="end">0.25</text><text x="388.1" y="240.5" text-anchor="end">0.30</text><text x="483.45" y="393.65" text-anchor="middle"><tspan font-style="italic">ϕ</tspan>/<tspan font-style="italic">π</tspan></text><text transform="translate(367.2 305.4) rotate(-90)" text-anchor="middle">E [t]</text></g></g>
<g><clipPath id="cp436"><rect x="392.4" y="436.5" width="182.1" height="135.7"/></clipPath><g clip-path="url(#cp436)" fill="none" stroke-linejoin="round" stroke-linecap="square"><path d="M400.4 548.5L566.45 548.5M400.4 528.46L566.45 528.46M400.4 516.34L566.45 516.34M400.4 517.92L566.45 517.92M400.4 498.02L566.45 498.02M400.4 499.37L566.45 499.37M400.4 551.03L403.79 550.99L407.18 550.88L410.57 550.7L413.96 550.44L417.34 550.12L420.73 549.74L424.12 549.3L427.51 548.82L430.9 548.3L434.29 547.75L437.68 547.17L441.07 546.59L444.45 546L447.84 545.42L451.23 544.85L454.62 544.32L458.01 543.81L461.4 543.35L464.79 542.94L468.18 542.59L471.56 542.3L474.95 542.08L478.34 541.93L481.73 541.86L485.12 541.86L488.51 541.93L491.9 542.08L495.29 542.3L498.67 542.59L502.06 542.94L505.45 543.35L508.84 543.81L512.23 544.32L515.62 544.85L519.01 545.42L522.4 546L525.78 546.59L529.17 547.17L532.56 547.75L535.95 548.3L539.34 548.82L542.73 549.3L546.12 549.74L549.51 550.12L552.89 550.44L556.28 550.7L559.67 550.88L563.06 550.99L566.45 551.03M400.4 523.35L403.79 523.39L407.18 523.5L410.57 523.7L413.96 523.96L417.34 524.3L420.73 524.7L424.12 525.15L427.51 525.66L430.9 526.2L434.29 526.78L437.68 527.38L441.07 527.99L444.45 528.6L447.84 529.21L451.23 529.8L454.62 530.36L458.01 530.89L461.4 531.37L464.79 531.79L468.18 532.16L471.56 532.46L474.95 532.69L478.34 532.85L481.73 532.93L485.12 532.93L488.51 532.85L491.9 532.69L495.29 532.46L498.67 532.16L502.06 531.79L505.45 531.37L508.84 530.89L512.23 530.36L515.62 529.8L519.01 529.21L522.4 528.6L525.78 527.99L529.17 527.38L532.56 526.78L535.95 526.2L539.34 525.66L542.73 525.15L546.12 524.7L549.51 524.3L552.89 523.96L556.28 523.7L559.67 523.5L563.06 523.39L566.45 523.35M400.4 519.28L403.79 519.24L407.18 519.14L410.57 518.97L413.96 518.74L417.34 518.45L420.73 518.1L424.12 517.71L427.51 517.27L430.9 516.8L434.29 516.3L437.68 515.78L441.07 515.25L444.45 514.72L447.84 514.19L451.23 513.68L454.62 513.19L458.01 512.73L461.4 512.32L464.79 511.95L468.18 511.63L471.56 511.37L474.95 511.17L478.34 511.03L481.73 510.96L485.12 510.96L488.51 511.03L491.9 511.17L495.29 511.37L498.67 511.63L502.06 511.95L505.45 512.32L508.84 512.73L512.23 513.19L515.62 513.68L519.01 514.19L522.4 514.72L525.78 515.25L529.17 515.78L532.56 516.3L535.95 516.8L539.34 517.27L542.73 517.71L546.12 518.1L549.51 518.45L552.89 518.74L556.28 518.97L559.67 519.14L563.06 519.24L566.45 519.28M400.4 496.34L403.79 496.37L407.18 496.46L410.57 496.6L413.96 496.79L417.34 497.04L420.73 497.32L424.12 497.66L427.51 498.02L430.9 498.42L434.29 498.84L437.68 499.27L441.07 499.72L444.45 500.16L447.84 500.6L451.23 501.03L454.62 501.44L458.01 501.82L461.4 502.17L464.79 502.48L468.18 502.75L471.56 502.96L474.95 503.13L478.34 503.25L481.73 503.3L485.12 503.3L488.51 503.25L491.9 503.13L495.29 502.96L498.67 502.75L502.06 502.48L505.45 502.17L508.84 501.82L512.23 501.44L515.62 501.03L519.01 500.6L522.4 500.16L525.78 499.72L529.17 499.27L532.56 498.84L535.95 498.42L539.34 498.02L542.73 497.66L546.12 497.32L549.51 497.04L552.89 496.79L556.28 496.6L559.67 496.46L563.06 496.37L566.45 496.34M400.4 493.72L403.79 493.71L407.18 493.68L410.57 493.63L413.96 493.56L417.34 493.47L420.73 493.37L424.12 493.25L427.51 493.12L430.9 492.98L434.29 492.83L437.68 492.67L441.07 492.52L444.45 492.36L447.84 492.2L451.23 492.05L454.62 491.9L458.01 491.76L461.4 491.64L464.79 491.53L468.18 491.43L471.56 491.36L474.95 491.3L478.34 491.26L481.73 491.23L485.12 491.23L488.51 491.26L491.9 491.3L495.29 491.36L498.67 491.43L502.06 491.53L505.45 491.64L508.84 491.76L512.23 491.9L515.62 492.05L519.01 492.2L522.4 492.36L525.78 492.52L529.17 492.67L532.56 492.83L535.95 492.98L539.34 493.12L542.73 493.25L546.12 493.37L549.51 493.47L552.89 493.56L556.28 493.63L559.67 493.68L563.06 493.71L566.45 493.72M400.4 489.6L566.45 489.6M400.4 488.77L566.45 488.77M400.4 486.98L566.45 486.98M400.4 484.36L566.45 484.36M400.4 483.59L404.66 483.61L408.92 483.66L413.17 483.75L417.43 483.87L421.69 484.02L425.95 484.19L430.2 484.39L434.46 484.6L438.72 484.82L442.98 485.05L447.23 485.27L451.49 485.49L455.75 485.69L460.01 485.88L464.27 486.04L468.52 486.18L472.78 486.28L477.04 486.35L481.3 486.39L485.55 486.39L489.81 486.35L494.07 486.28L498.33 486.18L502.58 486.04L506.84 485.88L511.1 485.69L515.36 485.49L519.62 485.27L523.87 485.05L528.13 484.82L532.39 484.6L536.65 484.39L540.9 484.19L545.16 484.02L549.42 483.87L553.68 483.75L557.93 483.66L562.19 483.61L566.45 483.59M400.4 482.28L566.45 482.28M400.4 478.84L566.45 478.84M400.4 478.44L566.45 478.44M400.4 479.39L404.66 479.38L408.92 479.34L413.17 479.28L417.43 479.19L421.69 479.09L425.95 478.96L430.2 478.83L434.46 478.68L438.72 478.52L442.98 478.37L447.23 478.21L451.49 478.06L455.75 477.91L460.01 477.78L464.27 477.67L468.52 477.57L472.78 477.5L477.04 477.45L481.3 477.43L485.55 477.43L489.81 477.45L494.07 477.5L498.33 477.57L502.58 477.67L506.84 477.78L511.1 477.91L515.36 478.06L519.62 478.21L523.87 478.37L528.13 478.52L532.39 478.68L536.65 478.83L540.9 478.96L545.16 479.09L549.42 479.19L553.68 479.28L557.93 479.34L562.19 479.38L566.45 479.39M400.4 476.53L566.45 476.53M400.4 475.83L566.45 475.83M400.4 476.14L404.66 476.15L408.92 476.2L413.17 476.28L417.43 476.39L421.69 476.53L425.95 476.69L430.2 476.87L434.46 477.06L438.72 477.26L442.98 477.47L447.23 477.67L451.49 477.87L455.75 478.06L460.01 478.23L464.27 478.37L468.52 478.5L472.78 478.59L477.04 478.66L481.3 478.69L485.55 478.69L489.81 478.66L494.07 478.59L498.33 478.5L502.58 478.37L506.84 478.23L511.1 478.06L515.36 477.87L519.62 477.67L523.87 477.47L528.13 477.26L532.39 477.06L536.65 476.87L540.9 476.69L545.16 476.53L549.42 476.39L553.68 476.28L557.93 476.2L562.19 476.15L566.45 476.14M400.4 474.27L566.45 474.27M400.4 473.79L566.45 473.79M400.4 473.21L404.66 473.2L408.92 473.18L413.17 473.14L417.43 473.09L421.69 473.02L425.95 472.94L430.2 472.85L434.46 472.76L438.72 472.66L442.98 472.55L447.23 472.45L451.49 472.36L455.75 472.26L460.01 472.18L464.27 472.11L468.52 472.04L472.78 472L477.04 471.97L481.3 471.95L485.55 471.95L489.81 471.97L494.07 472L498.33 472.04L502.58 472.11L506.84 472.18L511.1 472.26L515.36 472.36L519.62 472.45L523.87 472.55L528.13 472.66L532.39 472.76L536.65 472.85L540.9 472.94L545.16 473.02L549.42 473.09L553.68 473.14L557.93 473.18L562.19 473.2L566.45 473.21M400.4 470.83L566.45 470.83M400.4 468.75L566.45 468.75M400.4 468L566.45 468M400.4 469.37L404.66 469.39L408.92 469.45L413.17 469.55L417.43 469.68L421.69 469.85L425.95 470.04L430.2 470.26L434.46 470.49L438.72 470.73L442.98 470.98L447.23 471.23L451.49 471.47L455.75 471.7L460.01 471.9L464.27 472.08L468.52 472.23L472.78 472.35L477.04 472.43L481.3 472.47L485.55 472.47L489.81 472.43L494.07 472.35L498.33 472.23L502.58 472.08L506.84 471.9L511.1 471.7L515.36 471.47L519.62 471.23L523.87 470.98L528.13 470.73L532.39 470.49L536.65 470.26L540.9 470.04L545.16 469.85L549.42 469.68L553.68 469.55L557.93 469.45L562.19 469.39L566.45 469.37M400.4 466.13L566.45 466.13M400.4 465.28L566.45 465.28M400.4 464.86L404.66 464.88L408.92 464.94L413.17 465.03L417.43 465.15L421.69 465.3L425.95 465.48L430.2 465.68L434.46 465.9L438.72 466.13L442.98 466.36L447.23 466.59L451.49 466.81L455.75 467.02L460.01 467.21L464.27 467.38L468.52 467.52L472.78 467.62L477.04 467.7L481.3 467.73L485.55 467.73L489.81 467.7L494.07 467.62L498.33 467.52L502.58 467.38L506.84 467.21L511.1 467.02L515.36 466.81L519.62 466.59L523.87 466.36L528.13 466.13L532.39 465.9L536.65 465.68L540.9 465.48L545.16 465.3L549.42 465.15L553.68 465.03L557.93 464.94L562.19 464.88L566.45 464.86M400.4 463.87L566.45 463.87M400.4 462.9L566.45 462.9M400.4 463.55L404.66 463.56L408.92 463.59L413.17 463.63L417.43 463.68L421.69 463.75L425.95 463.84L430.2 463.93L434.46 464.03L438.72 464.13L442.98 464.24L447.23 464.34L451.49 464.44L455.75 464.54L460.01 464.63L464.27 464.7L468.52 464.77L472.78 464.81L477.04 464.85L481.3 464.86L485.55 464.86L489.81 464.85L494.07 464.81L498.33 464.77L502.58 464.7L506.84 464.63L511.1 464.54L515.36 464.44L519.62 464.34L523.87 464.24L528.13 464.13L532.39 464.03L536.65 463.93L540.9 463.84L545.16 463.75L549.42 463.68L553.68 463.63L557.93 463.59L562.19 463.56L566.45 463.55M400.4 460.02L566.45 460.02M400.4 460.48L404.66 460.47L408.92 460.44L413.17 460.39L417.43 460.32L421.69 460.24L425.95 460.14L430.2 460.03L434.46 459.91L438.72 459.79L442.98 459.66L447.23 459.53L451.49 459.41L455.75 459.3L460.01 459.19L464.27 459.1L468.52 459.02L472.78 458.96L477.04 458.92L481.3 458.9L485.55 458.9L489.81 458.92L494.07 458.96L498.33 459.02L502.58 459.1L506.84 459.19L511.1 459.3L515.36 459.41L519.62 459.53L523.87 459.66L528.13 459.79L532.39 459.91L536.65 460.03L540.9 460.14L545.16 460.24L549.42 460.32L553.68 460.39L557.93 460.44L562.19 460.47L566.45 460.48M400.4 457.44L566.45 457.44M400.4 456.98L566.45 456.98M400.4 458.02L404.66 458.03L408.92 458.06L413.17 458.11L417.43 458.18L421.69 458.27L425.95 458.38L430.2 458.49L434.46 458.62L438.72 458.75L442.98 458.88L447.23 459.01L451.49 459.14L455.75 459.26L460.01 459.37L464.27 459.47L468.52 459.55L472.78 459.61L477.04 459.65L481.3 459.67L485.55 459.67L489.81 459.65L494.07 459.61L498.33 459.55L502.58 459.47L506.84 459.37L511.1 459.26L515.36 459.14L519.62 459.01L523.87 458.88L528.13 458.75L532.39 458.62L536.65 458.49L540.9 458.38L545.16 458.27L549.42 458.18L553.68 458.11L557.93 458.06L562.19 458.03L566.45 458.02M400.4 455.68L566.45 455.68M400.4 451.34L566.45 451.34M400.4 450.6L566.45 450.6M400.4 450.12L566.45 450.12M400.4 449.71L566.45 449.71M400.4 446.99L566.45 446.99M400.4 446.44L566.45 446.44M400.4 446.32L404.66 446.34L408.92 446.38L413.17 446.44L417.43 446.52L421.69 446.63L425.95 446.75L430.2 446.89L434.46 447.04L438.72 447.2L442.98 447.36L447.23 447.52L451.49 447.67L455.75 447.82L460.01 447.95L464.27 448.07L468.52 448.16L472.78 448.24L477.04 448.29L481.3 448.31L485.55 448.31L489.81 448.29L494.07 448.24L498.33 448.16L502.58 448.07L506.84 447.95L511.1 447.82L515.36 447.67L519.62 447.52L523.87 447.36L528.13 447.2L532.39 447.04L536.65 446.89L540.9 446.75L545.16 446.63L549.42 446.52L553.68 446.44L557.93 446.38L562.19 446.34L566.45 446.32M400.4 444.73L566.45 444.73M400.4 444.33L566.45 444.33M400.4 440.57L566.45 440.57M400.4 441.42L404.66 441.41L408.92 441.35L413.17 441.26L417.43 441.14L421.69 440.99L425.95 440.82L430.2 440.62L434.46 440.41L438.72 440.19L442.98 439.96L447.23 439.73L451.49 439.52L455.75 439.31L460.01 439.13L464.27 438.96L468.52 438.83L472.78 438.72L477.04 438.65L481.3 438.61L485.55 438.61L489.81 438.65L494.07 438.72L498.33 438.83L502.58 438.96L506.84 439.13L511.1 439.31L515.36 439.52L519.62 439.73L523.87 439.96L528.13 440.19L532.39 440.41L536.65 440.62L540.9 440.82L545.16 440.99L549.42 441.14L553.68 441.26L557.93 441.35L562.19 441.41L566.45 441.42M400.4 437.77L566.45 437.77M400.4 436.91L566.45 436.91M400.4 437.84L404.66 437.86L408.92 437.89L413.17 437.95L417.43 438.04L421.69 438.14L425.95 438.26L430.2 438.39L434.46 438.54L438.72 438.69L442.98 438.85L447.23 439L451.49 439.15L455.75 439.29L460.01 439.42L464.27 439.53L468.52 439.62L472.78 439.69L477.04 439.74L481.3 439.77L485.55 439.77L489.81 439.74L494.07 439.69L498.33 439.62L502.58 439.53L506.84 439.42L511.1 439.29L515.36 439.15L519.62 439L523.87 438.85L528.13 438.69L532.39 438.54L536.65 438.39L540.9 438.26L545.16 438.14L549.42 438.04L553.68 437.95L557.93 437.89L562.19 437.86L566.45 437.84M400.4 436.5L566.45 436.5M400.4 435.74L566.45 435.74" stroke="#808080" stroke-width="0.6"/><path d="M400.4 561.84L566.45 561.84M400.4 561.52L566.45 561.52M400.4 558.04L403.21 558.07L406.03 558.15L408.84 558.28L411.66 558.45L414.47 558.68L417.29 558.95L420.1 559.27L422.92 559.62L425.73 560L428.54 560.42L431.36 560.86L434.17 561.32L436.99 561.8L439.8 562.29L442.62 562.78L445.43 563.27L448.24 563.75L451.06 564.22L453.87 564.67L456.69 565.1L459.5 565.5L462.32 565.87L465.13 566.21L467.95 566.5L470.76 566.75L473.57 566.95L476.39 567.11L479.2 567.21L482.02 567.26L484.83 567.26L487.65 567.21L490.46 567.11L493.28 566.95L496.09 566.75L498.9 566.5L501.72 566.21L504.53 565.87L507.35 565.5L510.16 565.1L512.98 564.67L515.79 564.22L518.61 563.75L521.42 563.27L524.23 562.78L527.05 562.29L529.86 561.8L532.68 561.32L535.49 560.86L538.31 560.42L541.12 560L543.93 559.62L546.75 559.27L549.56 558.95L552.38 558.68L555.19 558.45L558.01 558.28L560.82 558.15L563.64 558.07L566.45 558.04M400.4 558.31L403.21 558.34L406.03 558.41L408.84 558.54L411.66 558.71L414.47 558.92L417.29 559.18L420.1 559.48L422.92 559.82L425.73 560.19L428.54 560.59L431.36 561.01L434.17 561.45L436.99 561.91L439.8 562.37L442.62 562.84L445.43 563.31L448.24 563.77L451.06 564.22L453.87 564.65L456.69 565.06L459.5 565.45L462.32 565.8L465.13 566.12L467.95 566.4L470.76 566.64L473.57 566.83L476.39 566.98L479.2 567.08L482.02 567.13L484.83 567.13L487.65 567.08L490.46 566.98L493.28 566.83L496.09 566.64L498.9 566.4L501.72 566.12L504.53 565.8L507.35 565.45L510.16 565.06L512.98 564.65L515.79 564.22L518.61 563.77L521.42 563.31L524.23 562.84L527.05 562.37L529.86 561.91L532.68 561.45L535.49 561.01L538.31 560.59L541.12 560.19L543.93 559.82L546.75 559.48L549.56 559.18L552.38 558.92L555.19 558.71L558.01 558.54L560.82 558.41L563.64 558.34L566.45 558.31" stroke="#ff0000" stroke-width="0.85"/></g><rect x="392.4" y="436.5" width="182.1" height="135.7" fill="none" stroke="#000" stroke-width="0.55"/><path d="M400.4 572.2v2.4M433.61 572.2v2.4M466.82 572.2v2.4M500.03 572.2v2.4M533.24 572.2v2.4M566.45 572.2v2.4M392.4 572.2h-2.4M392.4 549.58h-2.4M392.4 526.97h-2.4M392.4 504.35h-2.4M392.4 481.73h-2.4M392.4 459.12h-2.4M392.4 436.5h-2.4" stroke="#000" stroke-width="0.55" fill="none"/><g font-family="'DejaVu Sans','Liberation Sans',sans-serif" font-size="8.15" fill="#000" stroke="#000" stroke-width="0.15"><text x="400.4" y="582.65" text-anchor="middle">0.0</text><text x="433.61" y="582.65" text-anchor="middle">0.2</text><text x="466.82" y="582.65" text-anchor="middle">0.4</text><text x="500.03" y="582.65" text-anchor="middle">0.6</text><text x="533.24" y="582.65" text-anchor="middle">0.8</text><text x="566.45" y="582.65" text-anchor="middle">1.0</text><text x="388.1" y="575.15" text-anchor="end">0.00</text><text x="388.1" y="552.53" text-anchor="end">0.05</text><text x="388.1" y="529.92" text-anchor="end">0.10</text><text x="388.1" y="507.3" text-anchor="end">0.15</text><text x="388.1" y="484.68" text-anchor="end">0.20</text><text x="388.1" y="462.07" text-anchor="end">0.25</text><text x="388.1" y="439.45" text-anchor="end">0.30</text><text x="483.45" y="592.6" text-anchor="middle"><tspan font-style="italic">ϕ</tspan>/<tspan font-style="italic">π</tspan></text><text transform="translate(367.2 504.35) rotate(-90)" text-anchor="middle">E [t]</text></g></g>
<text x="0.7" y="8.95" font-family="'Liberation Serif','DejaVu Serif',serif" font-size="12.9" >(a)</text>
<text x="184.4" y="9.1" font-family="'Liberation Sans','DejaVu Sans',sans-serif" font-size="12.2" >(b)</text>
<text x="361" y="8.75" font-family="'Liberation Serif','DejaVu Serif',serif" font-size="12.9" >(c)</text>
<text x="0.7" y="211.75" font-family="'Liberation Serif','DejaVu Serif',serif" font-size="12.9" >(d)</text>
<text x="184.5" y="211.75" font-family="'Liberation Serif','DejaVu Serif',serif" font-size="12.9" >(e)</text>
<text x="361" y="211.75" font-family="'Liberation Serif','DejaVu Serif',serif" font-size="12.9" >(f)</text>
<text x="0.7" y="409.15" font-family="'Liberation Serif','DejaVu Serif',serif" font-size="12.9" >(g)</text>
<text x="184.3" y="409.3" font-family="'Liberation Serif','DejaVu Serif',serif" font-size="12.9" >(h)</text>
<text x="361" y="409.15" font-family="'Liberation Serif','DejaVu Serif',serif" font-size="12.9" >(i)</text>
</svg>
</body></html>
